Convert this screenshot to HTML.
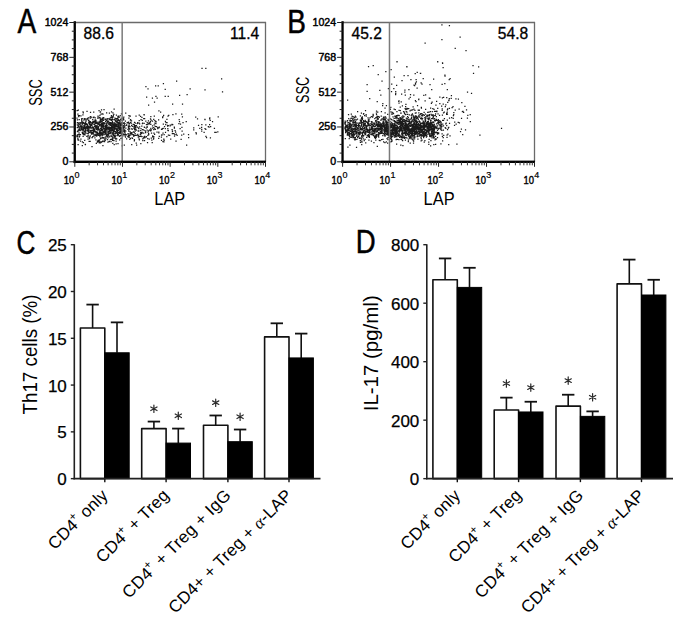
<!DOCTYPE html>
<html><head><meta charset="utf-8"><style>
html,body{margin:0;padding:0;background:#fff;width:685px;height:621px;overflow:hidden}
svg{display:block}
text{font-family:"Liberation Sans", sans-serif}
</style></head><body>
<svg width="685" height="621" viewBox="0 0 685 621" font-family='"Liberation Sans", sans-serif'>
<rect width="685" height="621" fill="#fff"/>
<path fill="#1a1a1a" d="M82.8 129.1h1.25v1.25h-1.25zM92.8 129.7h1.25v1.25h-1.25zM99.5 120.2h1.25v1.25h-1.25zM80.0 125.8h1.25v1.25h-1.25zM114.4 123.9h1.25v1.25h-1.25zM120.0 124.0h1.25v1.25h-1.25zM94.3 125.4h1.25v1.25h-1.25zM105.2 128.5h1.25v1.25h-1.25zM90.2 123.7h1.25v1.25h-1.25zM112.4 119.1h1.25v1.25h-1.25zM93.2 130.0h1.25v1.25h-1.25zM85.4 128.3h1.25v1.25h-1.25zM96.5 124.8h1.25v1.25h-1.25zM96.9 131.4h1.25v1.25h-1.25zM106.4 118.3h1.25v1.25h-1.25zM116.6 128.3h1.25v1.25h-1.25zM96.0 122.1h1.25v1.25h-1.25zM114.2 122.8h1.25v1.25h-1.25zM107.0 120.8h1.25v1.25h-1.25zM84.0 133.9h1.25v1.25h-1.25zM108.2 135.2h1.25v1.25h-1.25zM115.0 132.7h1.25v1.25h-1.25zM88.4 125.8h1.25v1.25h-1.25zM108.5 141.0h1.25v1.25h-1.25zM117.3 119.7h1.25v1.25h-1.25zM81.2 126.4h1.25v1.25h-1.25zM111.6 123.9h1.25v1.25h-1.25zM116.5 123.6h1.25v1.25h-1.25zM96.7 141.5h1.25v1.25h-1.25zM98.2 123.8h1.25v1.25h-1.25zM92.5 131.8h1.25v1.25h-1.25zM112.4 128.6h1.25v1.25h-1.25zM86.6 126.7h1.25v1.25h-1.25zM88.0 119.4h1.25v1.25h-1.25zM95.3 133.7h1.25v1.25h-1.25zM117.1 130.6h1.25v1.25h-1.25zM107.3 135.4h1.25v1.25h-1.25zM117.8 124.8h1.25v1.25h-1.25zM81.9 133.1h1.25v1.25h-1.25zM105.4 123.1h1.25v1.25h-1.25zM78.9 126.4h1.25v1.25h-1.25zM78.2 123.4h1.25v1.25h-1.25zM82.8 122.1h1.25v1.25h-1.25zM116.6 123.5h1.25v1.25h-1.25zM82.7 127.6h1.25v1.25h-1.25zM81.5 121.0h1.25v1.25h-1.25zM119.1 127.9h1.25v1.25h-1.25zM79.8 122.3h1.25v1.25h-1.25zM114.5 123.6h1.25v1.25h-1.25zM76.8 119.3h1.25v1.25h-1.25zM101.1 130.1h1.25v1.25h-1.25zM100.4 113.5h1.25v1.25h-1.25zM102.6 128.0h1.25v1.25h-1.25zM111.8 120.8h1.25v1.25h-1.25zM112.2 129.9h1.25v1.25h-1.25zM113.2 113.7h1.25v1.25h-1.25zM103.6 122.7h1.25v1.25h-1.25zM99.9 138.1h1.25v1.25h-1.25zM77.1 121.9h1.25v1.25h-1.25zM108.1 126.5h1.25v1.25h-1.25zM79.3 122.1h1.25v1.25h-1.25zM116.7 129.4h1.25v1.25h-1.25zM86.4 125.9h1.25v1.25h-1.25zM117.8 123.0h1.25v1.25h-1.25zM88.6 126.2h1.25v1.25h-1.25zM120.9 122.2h1.25v1.25h-1.25zM109.8 139.1h1.25v1.25h-1.25zM84.1 126.0h1.25v1.25h-1.25zM95.4 120.5h1.25v1.25h-1.25zM120.0 128.8h1.25v1.25h-1.25zM108.8 124.3h1.25v1.25h-1.25zM118.0 126.1h1.25v1.25h-1.25zM99.5 117.2h1.25v1.25h-1.25zM101.4 128.8h1.25v1.25h-1.25zM76.4 117.4h1.25v1.25h-1.25zM119.4 129.4h1.25v1.25h-1.25zM116.5 125.3h1.25v1.25h-1.25zM89.4 131.8h1.25v1.25h-1.25zM103.2 128.0h1.25v1.25h-1.25zM118.3 120.2h1.25v1.25h-1.25zM97.2 140.8h1.25v1.25h-1.25zM118.6 135.2h1.25v1.25h-1.25zM100.6 128.9h1.25v1.25h-1.25zM84.3 127.7h1.25v1.25h-1.25zM113.1 123.8h1.25v1.25h-1.25zM117.7 133.4h1.25v1.25h-1.25zM101.7 129.7h1.25v1.25h-1.25zM117.8 121.9h1.25v1.25h-1.25zM88.7 126.3h1.25v1.25h-1.25zM111.3 135.9h1.25v1.25h-1.25zM90.4 124.1h1.25v1.25h-1.25zM99.7 130.3h1.25v1.25h-1.25zM98.1 134.8h1.25v1.25h-1.25zM98.1 141.3h1.25v1.25h-1.25zM104.9 118.5h1.25v1.25h-1.25zM109.3 130.8h1.25v1.25h-1.25zM96.4 122.8h1.25v1.25h-1.25zM107.0 125.2h1.25v1.25h-1.25zM111.3 130.0h1.25v1.25h-1.25zM102.3 130.8h1.25v1.25h-1.25zM114.0 128.5h1.25v1.25h-1.25zM94.7 122.6h1.25v1.25h-1.25zM109.3 131.2h1.25v1.25h-1.25zM99.8 130.0h1.25v1.25h-1.25zM109.5 123.6h1.25v1.25h-1.25zM101.6 128.8h1.25v1.25h-1.25zM104.9 127.0h1.25v1.25h-1.25zM78.8 115.1h1.25v1.25h-1.25zM103.8 123.1h1.25v1.25h-1.25zM112.1 124.1h1.25v1.25h-1.25zM81.8 141.3h1.25v1.25h-1.25zM118.1 127.7h1.25v1.25h-1.25zM112.6 137.4h1.25v1.25h-1.25zM78.4 132.2h1.25v1.25h-1.25zM101.7 126.3h1.25v1.25h-1.25zM91.6 137.0h1.25v1.25h-1.25zM115.8 114.6h1.25v1.25h-1.25zM91.6 121.8h1.25v1.25h-1.25zM119.0 127.9h1.25v1.25h-1.25zM86.9 123.8h1.25v1.25h-1.25zM83.3 123.0h1.25v1.25h-1.25zM90.0 126.0h1.25v1.25h-1.25zM102.3 119.5h1.25v1.25h-1.25zM92.0 122.2h1.25v1.25h-1.25zM110.0 126.9h1.25v1.25h-1.25zM84.6 143.8h1.25v1.25h-1.25zM114.0 124.9h1.25v1.25h-1.25zM98.9 123.9h1.25v1.25h-1.25zM107.9 133.6h1.25v1.25h-1.25zM93.4 116.4h1.25v1.25h-1.25zM97.8 133.0h1.25v1.25h-1.25zM78.3 125.7h1.25v1.25h-1.25zM109.1 127.7h1.25v1.25h-1.25zM115.1 123.3h1.25v1.25h-1.25zM101.1 132.6h1.25v1.25h-1.25zM89.4 131.5h1.25v1.25h-1.25zM88.1 126.5h1.25v1.25h-1.25zM120.6 129.0h1.25v1.25h-1.25zM120.9 129.9h1.25v1.25h-1.25zM93.6 121.3h1.25v1.25h-1.25zM99.2 125.0h1.25v1.25h-1.25zM88.1 119.5h1.25v1.25h-1.25zM94.4 126.1h1.25v1.25h-1.25zM86.6 127.1h1.25v1.25h-1.25zM100.5 127.5h1.25v1.25h-1.25zM88.3 122.4h1.25v1.25h-1.25zM121.8 132.4h1.25v1.25h-1.25zM109.6 128.8h1.25v1.25h-1.25zM103.0 119.8h1.25v1.25h-1.25zM95.3 126.0h1.25v1.25h-1.25zM99.3 131.1h1.25v1.25h-1.25zM113.3 140.0h1.25v1.25h-1.25zM117.5 132.0h1.25v1.25h-1.25zM77.2 137.4h1.25v1.25h-1.25zM92.6 116.9h1.25v1.25h-1.25zM105.1 119.3h1.25v1.25h-1.25zM107.6 128.1h1.25v1.25h-1.25zM105.9 127.6h1.25v1.25h-1.25zM106.6 135.9h1.25v1.25h-1.25zM110.2 127.6h1.25v1.25h-1.25zM109.8 124.7h1.25v1.25h-1.25zM110.3 119.4h1.25v1.25h-1.25zM98.1 128.8h1.25v1.25h-1.25zM107.5 137.3h1.25v1.25h-1.25zM79.4 124.3h1.25v1.25h-1.25zM113.1 130.6h1.25v1.25h-1.25zM78.6 118.9h1.25v1.25h-1.25zM107.2 131.3h1.25v1.25h-1.25zM99.9 137.4h1.25v1.25h-1.25zM97.5 116.5h1.25v1.25h-1.25zM121.5 117.4h1.25v1.25h-1.25zM118.9 126.7h1.25v1.25h-1.25zM118.6 129.1h1.25v1.25h-1.25zM85.6 122.9h1.25v1.25h-1.25zM82.4 129.2h1.25v1.25h-1.25zM120.3 118.7h1.25v1.25h-1.25zM117.2 117.8h1.25v1.25h-1.25zM108.8 112.5h1.25v1.25h-1.25zM76.9 119.3h1.25v1.25h-1.25zM89.9 127.3h1.25v1.25h-1.25zM91.8 133.0h1.25v1.25h-1.25zM110.8 115.1h1.25v1.25h-1.25zM99.9 142.3h1.25v1.25h-1.25zM93.1 111.4h1.25v1.25h-1.25zM92.6 132.6h1.25v1.25h-1.25zM80.5 125.0h1.25v1.25h-1.25zM99.6 111.4h1.25v1.25h-1.25zM88.2 132.1h1.25v1.25h-1.25zM120.4 127.8h1.25v1.25h-1.25zM112.2 136.8h1.25v1.25h-1.25zM119.8 130.8h1.25v1.25h-1.25zM111.7 138.8h1.25v1.25h-1.25zM89.1 123.9h1.25v1.25h-1.25zM119.1 121.9h1.25v1.25h-1.25zM89.7 121.8h1.25v1.25h-1.25zM114.9 128.3h1.25v1.25h-1.25zM101.0 118.9h1.25v1.25h-1.25zM83.6 125.0h1.25v1.25h-1.25zM112.7 132.5h1.25v1.25h-1.25zM105.9 119.8h1.25v1.25h-1.25zM84.7 127.7h1.25v1.25h-1.25zM91.7 123.1h1.25v1.25h-1.25zM102.4 124.7h1.25v1.25h-1.25zM105.8 134.8h1.25v1.25h-1.25zM100.2 132.1h1.25v1.25h-1.25zM88.7 123.0h1.25v1.25h-1.25zM115.7 121.6h1.25v1.25h-1.25zM116.1 126.3h1.25v1.25h-1.25zM94.4 122.0h1.25v1.25h-1.25zM120.3 119.2h1.25v1.25h-1.25zM77.3 139.2h1.25v1.25h-1.25zM116.5 132.4h1.25v1.25h-1.25zM80.6 127.5h1.25v1.25h-1.25zM100.2 124.1h1.25v1.25h-1.25zM98.9 134.8h1.25v1.25h-1.25zM101.5 137.1h1.25v1.25h-1.25zM112.3 125.8h1.25v1.25h-1.25zM89.9 111.7h1.25v1.25h-1.25zM87.5 134.7h1.25v1.25h-1.25zM79.0 135.8h1.25v1.25h-1.25zM103.0 131.4h1.25v1.25h-1.25zM97.3 117.7h1.25v1.25h-1.25zM101.4 132.6h1.25v1.25h-1.25zM120.6 126.7h1.25v1.25h-1.25zM104.9 126.1h1.25v1.25h-1.25zM107.3 132.3h1.25v1.25h-1.25zM110.2 123.0h1.25v1.25h-1.25zM91.5 129.8h1.25v1.25h-1.25zM107.6 123.5h1.25v1.25h-1.25zM97.7 127.7h1.25v1.25h-1.25zM97.4 115.4h1.25v1.25h-1.25zM86.1 127.1h1.25v1.25h-1.25zM95.8 132.1h1.25v1.25h-1.25zM95.2 127.4h1.25v1.25h-1.25zM112.1 128.8h1.25v1.25h-1.25zM85.7 123.7h1.25v1.25h-1.25zM78.6 128.2h1.25v1.25h-1.25zM117.7 119.0h1.25v1.25h-1.25zM92.9 121.8h1.25v1.25h-1.25zM119.5 130.2h1.25v1.25h-1.25zM109.3 132.5h1.25v1.25h-1.25zM83.7 122.8h1.25v1.25h-1.25zM88.8 138.0h1.25v1.25h-1.25zM120.8 113.3h1.25v1.25h-1.25zM92.4 121.8h1.25v1.25h-1.25zM78.1 139.4h1.25v1.25h-1.25zM93.2 123.5h1.25v1.25h-1.25zM117.7 129.8h1.25v1.25h-1.25zM94.9 122.9h1.25v1.25h-1.25zM77.4 138.7h1.25v1.25h-1.25zM118.7 128.0h1.25v1.25h-1.25zM100.7 122.7h1.25v1.25h-1.25zM98.9 131.2h1.25v1.25h-1.25zM101.9 122.3h1.25v1.25h-1.25zM111.1 118.8h1.25v1.25h-1.25zM97.3 122.4h1.25v1.25h-1.25zM120.5 126.7h1.25v1.25h-1.25zM98.9 124.0h1.25v1.25h-1.25zM98.8 123.5h1.25v1.25h-1.25zM102.5 128.5h1.25v1.25h-1.25zM83.7 132.4h1.25v1.25h-1.25zM92.7 131.5h1.25v1.25h-1.25zM112.7 125.3h1.25v1.25h-1.25zM105.9 124.9h1.25v1.25h-1.25zM101.6 136.6h1.25v1.25h-1.25zM115.1 127.9h1.25v1.25h-1.25zM80.3 138.6h1.25v1.25h-1.25zM86.7 127.4h1.25v1.25h-1.25zM104.7 132.9h1.25v1.25h-1.25zM88.2 129.4h1.25v1.25h-1.25zM100.6 130.0h1.25v1.25h-1.25zM110.2 118.7h1.25v1.25h-1.25zM87.3 127.4h1.25v1.25h-1.25zM112.7 133.1h1.25v1.25h-1.25zM122.1 130.5h1.25v1.25h-1.25zM86.6 123.8h1.25v1.25h-1.25zM89.6 121.1h1.25v1.25h-1.25zM113.9 119.1h1.25v1.25h-1.25zM89.5 140.7h1.25v1.25h-1.25zM84.6 118.3h1.25v1.25h-1.25zM103.1 137.4h1.25v1.25h-1.25zM87.9 117.3h1.25v1.25h-1.25zM111.1 128.6h1.25v1.25h-1.25zM104.7 126.1h1.25v1.25h-1.25zM85.3 120.9h1.25v1.25h-1.25zM103.8 130.3h1.25v1.25h-1.25zM91.0 131.4h1.25v1.25h-1.25zM109.9 121.9h1.25v1.25h-1.25zM112.9 130.0h1.25v1.25h-1.25zM94.2 128.3h1.25v1.25h-1.25zM105.6 124.0h1.25v1.25h-1.25zM109.7 132.4h1.25v1.25h-1.25zM120.3 124.4h1.25v1.25h-1.25zM102.2 132.1h1.25v1.25h-1.25zM115.5 120.8h1.25v1.25h-1.25zM109.8 127.7h1.25v1.25h-1.25zM98.5 139.7h1.25v1.25h-1.25zM83.3 119.4h1.25v1.25h-1.25zM101.5 137.4h1.25v1.25h-1.25zM104.8 139.5h1.25v1.25h-1.25zM99.3 124.0h1.25v1.25h-1.25zM119.0 122.9h1.25v1.25h-1.25zM98.7 121.3h1.25v1.25h-1.25zM81.7 144.9h1.25v1.25h-1.25zM119.3 128.8h1.25v1.25h-1.25zM119.0 139.2h1.25v1.25h-1.25zM114.3 117.6h1.25v1.25h-1.25zM112.5 126.3h1.25v1.25h-1.25zM117.7 125.4h1.25v1.25h-1.25zM94.4 131.5h1.25v1.25h-1.25zM93.7 123.7h1.25v1.25h-1.25zM112.1 125.9h1.25v1.25h-1.25zM111.1 128.8h1.25v1.25h-1.25zM114.9 120.5h1.25v1.25h-1.25zM105.0 121.1h1.25v1.25h-1.25zM95.4 134.0h1.25v1.25h-1.25zM99.6 134.7h1.25v1.25h-1.25zM104.7 125.0h1.25v1.25h-1.25zM86.7 126.5h1.25v1.25h-1.25zM84.1 139.8h1.25v1.25h-1.25zM80.8 122.3h1.25v1.25h-1.25zM96.4 122.1h1.25v1.25h-1.25zM77.7 129.4h1.25v1.25h-1.25zM102.1 126.1h1.25v1.25h-1.25zM99.3 135.9h1.25v1.25h-1.25zM120.2 118.4h1.25v1.25h-1.25zM103.3 140.4h1.25v1.25h-1.25zM121.6 145.2h1.25v1.25h-1.25zM107.3 121.2h1.25v1.25h-1.25zM115.9 124.9h1.25v1.25h-1.25zM119.6 114.9h1.25v1.25h-1.25zM113.9 122.3h1.25v1.25h-1.25zM116.8 126.1h1.25v1.25h-1.25zM90.7 122.2h1.25v1.25h-1.25zM84.3 118.7h1.25v1.25h-1.25zM111.5 130.1h1.25v1.25h-1.25zM116.8 121.8h1.25v1.25h-1.25zM92.6 121.2h1.25v1.25h-1.25zM117.0 134.0h1.25v1.25h-1.25zM122.1 132.4h1.25v1.25h-1.25zM97.1 129.5h1.25v1.25h-1.25zM92.6 126.8h1.25v1.25h-1.25zM110.5 135.1h1.25v1.25h-1.25zM114.1 127.8h1.25v1.25h-1.25zM90.7 132.9h1.25v1.25h-1.25zM95.9 126.7h1.25v1.25h-1.25zM117.6 124.1h1.25v1.25h-1.25zM112.1 127.0h1.25v1.25h-1.25zM80.7 127.4h1.25v1.25h-1.25zM86.2 135.7h1.25v1.25h-1.25zM104.9 132.2h1.25v1.25h-1.25zM82.0 122.6h1.25v1.25h-1.25zM80.2 129.6h1.25v1.25h-1.25zM116.5 126.1h1.25v1.25h-1.25zM102.0 133.5h1.25v1.25h-1.25zM119.5 119.3h1.25v1.25h-1.25zM106.0 112.2h1.25v1.25h-1.25zM100.6 131.8h1.25v1.25h-1.25zM112.1 124.6h1.25v1.25h-1.25zM101.5 123.9h1.25v1.25h-1.25zM104.2 128.9h1.25v1.25h-1.25zM105.7 125.8h1.25v1.25h-1.25zM89.8 131.6h1.25v1.25h-1.25zM117.3 125.2h1.25v1.25h-1.25zM115.2 138.5h1.25v1.25h-1.25zM86.6 125.0h1.25v1.25h-1.25zM86.3 123.5h1.25v1.25h-1.25zM91.4 124.4h1.25v1.25h-1.25zM98.0 140.4h1.25v1.25h-1.25zM104.3 118.6h1.25v1.25h-1.25zM112.6 133.0h1.25v1.25h-1.25zM120.8 128.3h1.25v1.25h-1.25zM116.9 122.1h1.25v1.25h-1.25zM110.5 127.0h1.25v1.25h-1.25zM105.5 133.8h1.25v1.25h-1.25zM101.6 122.9h1.25v1.25h-1.25zM93.3 135.5h1.25v1.25h-1.25zM119.1 128.6h1.25v1.25h-1.25zM98.2 140.7h1.25v1.25h-1.25zM109.6 133.0h1.25v1.25h-1.25zM104.8 130.1h1.25v1.25h-1.25zM118.3 126.5h1.25v1.25h-1.25zM119.2 126.2h1.25v1.25h-1.25zM82.4 125.5h1.25v1.25h-1.25zM106.4 134.8h1.25v1.25h-1.25zM92.1 118.9h1.25v1.25h-1.25zM114.0 123.7h1.25v1.25h-1.25zM109.2 129.2h1.25v1.25h-1.25zM91.1 123.8h1.25v1.25h-1.25zM77.4 124.5h1.25v1.25h-1.25zM112.2 136.8h1.25v1.25h-1.25zM99.1 131.8h1.25v1.25h-1.25zM80.3 127.3h1.25v1.25h-1.25zM95.6 132.3h1.25v1.25h-1.25zM87.7 129.8h1.25v1.25h-1.25zM90.7 116.5h1.25v1.25h-1.25zM82.5 127.8h1.25v1.25h-1.25zM77.2 134.0h1.25v1.25h-1.25zM112.4 133.8h1.25v1.25h-1.25zM85.9 118.5h1.25v1.25h-1.25zM117.7 127.3h1.25v1.25h-1.25zM111.4 127.2h1.25v1.25h-1.25zM119.6 127.3h1.25v1.25h-1.25zM113.0 124.2h1.25v1.25h-1.25zM114.6 119.9h1.25v1.25h-1.25zM119.9 128.6h1.25v1.25h-1.25zM113.9 130.9h1.25v1.25h-1.25zM79.5 127.5h1.25v1.25h-1.25zM99.0 139.3h1.25v1.25h-1.25zM92.4 133.3h1.25v1.25h-1.25zM112.7 114.8h1.25v1.25h-1.25zM85.4 119.9h1.25v1.25h-1.25zM117.9 134.4h1.25v1.25h-1.25zM105.7 126.7h1.25v1.25h-1.25zM111.0 119.7h1.25v1.25h-1.25zM99.1 132.7h1.25v1.25h-1.25zM83.0 121.8h1.25v1.25h-1.25zM91.2 123.8h1.25v1.25h-1.25zM117.0 130.7h1.25v1.25h-1.25zM117.1 129.3h1.25v1.25h-1.25zM84.7 131.0h1.25v1.25h-1.25zM109.7 124.1h1.25v1.25h-1.25zM91.0 131.7h1.25v1.25h-1.25zM84.6 128.1h1.25v1.25h-1.25zM105.1 130.8h1.25v1.25h-1.25zM115.2 123.4h1.25v1.25h-1.25zM111.2 138.6h1.25v1.25h-1.25zM84.9 129.7h1.25v1.25h-1.25zM93.9 130.1h1.25v1.25h-1.25zM94.4 124.7h1.25v1.25h-1.25zM105.3 138.0h1.25v1.25h-1.25zM82.4 133.2h1.25v1.25h-1.25zM98.4 121.2h1.25v1.25h-1.25zM110.8 131.6h1.25v1.25h-1.25zM86.4 130.0h1.25v1.25h-1.25zM81.6 131.8h1.25v1.25h-1.25zM83.6 132.4h1.25v1.25h-1.25zM105.1 133.6h1.25v1.25h-1.25zM95.4 125.3h1.25v1.25h-1.25zM87.4 138.5h1.25v1.25h-1.25zM97.0 132.8h1.25v1.25h-1.25zM97.3 123.4h1.25v1.25h-1.25zM102.6 126.3h1.25v1.25h-1.25zM121.3 134.4h1.25v1.25h-1.25zM101.1 121.0h1.25v1.25h-1.25zM100.3 127.9h1.25v1.25h-1.25zM101.0 129.2h1.25v1.25h-1.25zM114.5 135.8h1.25v1.25h-1.25zM94.9 122.9h1.25v1.25h-1.25zM103.2 136.9h1.25v1.25h-1.25zM121.7 120.0h1.25v1.25h-1.25zM78.4 128.6h1.25v1.25h-1.25zM95.3 120.5h1.25v1.25h-1.25zM108.4 130.8h1.25v1.25h-1.25zM110.4 123.1h1.25v1.25h-1.25zM97.5 128.4h1.25v1.25h-1.25zM99.4 124.5h1.25v1.25h-1.25zM112.0 123.9h1.25v1.25h-1.25zM102.0 136.9h1.25v1.25h-1.25zM120.8 133.6h1.25v1.25h-1.25zM119.4 124.3h1.25v1.25h-1.25zM101.4 134.8h1.25v1.25h-1.25zM114.7 136.0h1.25v1.25h-1.25zM93.3 116.6h1.25v1.25h-1.25zM95.7 127.3h1.25v1.25h-1.25zM106.6 128.6h1.25v1.25h-1.25zM98.2 122.3h1.25v1.25h-1.25zM105.5 131.1h1.25v1.25h-1.25zM96.3 126.0h1.25v1.25h-1.25zM102.6 117.2h1.25v1.25h-1.25zM114.6 134.4h1.25v1.25h-1.25zM76.5 110.1h1.25v1.25h-1.25zM107.9 127.5h1.25v1.25h-1.25zM86.7 124.2h1.25v1.25h-1.25zM101.9 124.2h1.25v1.25h-1.25zM107.7 131.7h1.25v1.25h-1.25zM89.6 135.3h1.25v1.25h-1.25zM122.3 135.2h1.25v1.25h-1.25zM111.7 117.2h1.25v1.25h-1.25zM110.4 141.1h1.25v1.25h-1.25zM88.1 122.0h1.25v1.25h-1.25zM82.3 130.0h1.25v1.25h-1.25zM82.5 127.4h1.25v1.25h-1.25zM99.0 141.2h1.25v1.25h-1.25zM115.0 131.0h1.25v1.25h-1.25zM102.0 134.4h1.25v1.25h-1.25zM95.3 139.2h1.25v1.25h-1.25zM120.9 122.9h1.25v1.25h-1.25zM77.1 135.8h1.25v1.25h-1.25zM94.3 137.2h1.25v1.25h-1.25zM98.4 110.0h1.25v1.25h-1.25zM109.8 132.1h1.25v1.25h-1.25zM98.1 132.9h1.25v1.25h-1.25zM111.8 121.5h1.25v1.25h-1.25zM96.1 135.5h1.25v1.25h-1.25zM112.9 131.1h1.25v1.25h-1.25zM99.3 114.7h1.25v1.25h-1.25zM99.4 117.3h1.25v1.25h-1.25zM103.1 130.5h1.25v1.25h-1.25zM103.2 122.1h1.25v1.25h-1.25zM112.4 116.5h1.25v1.25h-1.25zM110.5 129.7h1.25v1.25h-1.25zM118.8 135.6h1.25v1.25h-1.25zM94.8 119.3h1.25v1.25h-1.25zM105.0 132.7h1.25v1.25h-1.25zM91.0 133.6h1.25v1.25h-1.25zM106.9 139.1h1.25v1.25h-1.25zM84.2 124.4h1.25v1.25h-1.25zM111.9 118.7h1.25v1.25h-1.25zM114.2 132.8h1.25v1.25h-1.25zM97.3 129.6h1.25v1.25h-1.25zM95.5 130.7h1.25v1.25h-1.25zM119.4 120.7h1.25v1.25h-1.25zM102.3 124.1h1.25v1.25h-1.25zM107.3 141.6h1.25v1.25h-1.25zM76.4 134.7h1.25v1.25h-1.25zM103.4 109.1h1.25v1.25h-1.25zM95.0 135.1h1.25v1.25h-1.25zM105.9 126.6h1.25v1.25h-1.25zM118.4 126.6h1.25v1.25h-1.25zM107.4 127.0h1.25v1.25h-1.25zM78.1 116.0h1.25v1.25h-1.25zM100.5 141.1h1.25v1.25h-1.25zM120.3 122.5h1.25v1.25h-1.25zM79.0 123.5h1.25v1.25h-1.25zM120.8 127.7h1.25v1.25h-1.25zM106.2 128.6h1.25v1.25h-1.25zM114.8 124.6h1.25v1.25h-1.25zM117.7 115.4h1.25v1.25h-1.25zM78.5 133.7h1.25v1.25h-1.25zM107.4 120.7h1.25v1.25h-1.25zM113.0 134.2h1.25v1.25h-1.25zM95.3 119.8h1.25v1.25h-1.25zM112.5 115.9h1.25v1.25h-1.25zM89.4 131.7h1.25v1.25h-1.25zM121.3 131.4h1.25v1.25h-1.25zM104.1 140.2h1.25v1.25h-1.25zM113.7 135.9h1.25v1.25h-1.25zM95.8 122.3h1.25v1.25h-1.25zM98.3 139.6h1.25v1.25h-1.25zM90.7 127.6h1.25v1.25h-1.25zM95.5 127.1h1.25v1.25h-1.25zM113.9 125.9h1.25v1.25h-1.25zM103.5 122.1h1.25v1.25h-1.25zM88.5 140.7h1.25v1.25h-1.25zM112.1 137.6h1.25v1.25h-1.25zM102.9 125.1h1.25v1.25h-1.25zM113.0 123.9h1.25v1.25h-1.25zM107.4 117.9h1.25v1.25h-1.25zM97.9 126.5h1.25v1.25h-1.25zM110.8 125.5h1.25v1.25h-1.25zM113.4 135.1h1.25v1.25h-1.25zM107.5 118.3h1.25v1.25h-1.25zM116.7 133.2h1.25v1.25h-1.25zM103.3 125.8h1.25v1.25h-1.25zM108.5 123.2h1.25v1.25h-1.25zM102.1 134.5h1.25v1.25h-1.25zM77.8 122.6h1.25v1.25h-1.25zM101.8 125.1h1.25v1.25h-1.25zM112.5 122.2h1.25v1.25h-1.25zM100.0 119.6h1.25v1.25h-1.25zM77.3 113.4h1.25v1.25h-1.25zM102.3 128.4h1.25v1.25h-1.25zM112.2 142.8h1.25v1.25h-1.25zM118.7 119.9h1.25v1.25h-1.25zM77.5 144.0h1.25v1.25h-1.25zM84.2 125.5h1.25v1.25h-1.25zM116.4 126.4h1.25v1.25h-1.25zM120.0 125.3h1.25v1.25h-1.25zM94.3 128.9h1.25v1.25h-1.25zM120.6 127.9h1.25v1.25h-1.25zM120.4 118.4h1.25v1.25h-1.25zM95.6 122.7h1.25v1.25h-1.25zM120.9 122.5h1.25v1.25h-1.25zM87.7 127.8h1.25v1.25h-1.25zM117.9 116.4h1.25v1.25h-1.25zM112.5 135.1h1.25v1.25h-1.25zM84.8 143.9h1.25v1.25h-1.25zM82.5 127.0h1.25v1.25h-1.25zM77.6 130.4h1.25v1.25h-1.25zM121.0 122.6h1.25v1.25h-1.25zM81.6 123.7h1.25v1.25h-1.25zM83.6 127.2h1.25v1.25h-1.25zM112.4 116.3h1.25v1.25h-1.25zM77.4 126.6h1.25v1.25h-1.25zM110.9 111.3h1.25v1.25h-1.25zM110.8 130.0h1.25v1.25h-1.25zM80.3 115.3h1.25v1.25h-1.25zM96.9 133.4h1.25v1.25h-1.25zM114.2 137.4h1.25v1.25h-1.25zM86.1 126.1h1.25v1.25h-1.25zM109.1 131.3h1.25v1.25h-1.25zM103.6 128.3h1.25v1.25h-1.25zM88.4 120.3h1.25v1.25h-1.25zM102.1 123.8h1.25v1.25h-1.25zM90.6 124.7h1.25v1.25h-1.25zM102.4 113.4h1.25v1.25h-1.25zM114.6 125.6h1.25v1.25h-1.25zM87.8 119.7h1.25v1.25h-1.25zM92.8 128.9h1.25v1.25h-1.25zM113.8 124.2h1.25v1.25h-1.25zM112.6 132.8h1.25v1.25h-1.25zM113.5 108.6h1.25v1.25h-1.25zM82.3 114.2h1.25v1.25h-1.25zM84.4 127.4h1.25v1.25h-1.25zM118.4 125.7h1.25v1.25h-1.25zM84.2 118.5h1.25v1.25h-1.25zM103.9 132.1h1.25v1.25h-1.25zM79.8 133.9h1.25v1.25h-1.25zM85.4 132.7h1.25v1.25h-1.25zM108.8 124.0h1.25v1.25h-1.25zM78.8 136.2h1.25v1.25h-1.25zM89.8 121.3h1.25v1.25h-1.25zM113.6 134.5h1.25v1.25h-1.25zM103.7 127.5h1.25v1.25h-1.25zM81.9 125.4h1.25v1.25h-1.25zM84.4 124.2h1.25v1.25h-1.25zM93.1 133.4h1.25v1.25h-1.25zM81.4 128.5h1.25v1.25h-1.25zM115.5 140.5h1.25v1.25h-1.25zM109.0 136.2h1.25v1.25h-1.25zM116.5 119.5h1.25v1.25h-1.25zM91.5 127.2h1.25v1.25h-1.25zM100.9 109.2h1.25v1.25h-1.25zM84.3 125.1h1.25v1.25h-1.25zM87.5 126.8h1.25v1.25h-1.25zM108.4 129.1h1.25v1.25h-1.25zM76.6 135.0h1.25v1.25h-1.25zM108.6 132.9h1.25v1.25h-1.25zM116.4 128.0h1.25v1.25h-1.25zM98.8 129.6h1.25v1.25h-1.25zM88.8 122.3h1.25v1.25h-1.25zM103.4 122.5h1.25v1.25h-1.25zM115.1 120.2h1.25v1.25h-1.25zM117.2 116.2h1.25v1.25h-1.25zM96.3 122.8h1.25v1.25h-1.25zM94.0 128.7h1.25v1.25h-1.25zM107.6 133.9h1.25v1.25h-1.25zM91.4 145.9h1.25v1.25h-1.25zM119.0 116.4h1.25v1.25h-1.25zM94.4 119.5h1.25v1.25h-1.25zM110.5 122.6h1.25v1.25h-1.25zM105.3 129.7h1.25v1.25h-1.25zM100.6 120.7h1.25v1.25h-1.25zM76.7 124.3h1.25v1.25h-1.25zM121.1 124.8h1.25v1.25h-1.25zM113.6 143.9h1.25v1.25h-1.25zM108.1 128.8h1.25v1.25h-1.25zM88.2 130.0h1.25v1.25h-1.25zM118.9 132.6h1.25v1.25h-1.25zM87.5 135.0h1.25v1.25h-1.25zM104.2 128.9h1.25v1.25h-1.25zM81.4 121.6h1.25v1.25h-1.25zM120.4 133.1h1.25v1.25h-1.25zM100.7 128.0h1.25v1.25h-1.25zM81.5 123.5h1.25v1.25h-1.25zM89.2 123.2h1.25v1.25h-1.25zM79.9 140.5h1.25v1.25h-1.25zM102.4 131.4h1.25v1.25h-1.25zM111.5 116.9h1.25v1.25h-1.25zM101.4 133.6h1.25v1.25h-1.25zM87.1 132.7h1.25v1.25h-1.25zM99.7 134.5h1.25v1.25h-1.25zM92.2 121.2h1.25v1.25h-1.25zM106.9 118.5h1.25v1.25h-1.25zM89.1 121.6h1.25v1.25h-1.25zM105.0 126.1h1.25v1.25h-1.25zM109.5 129.9h1.25v1.25h-1.25zM96.3 126.6h1.25v1.25h-1.25zM112.4 124.3h1.25v1.25h-1.25zM105.3 131.6h1.25v1.25h-1.25zM92.2 131.9h1.25v1.25h-1.25zM91.1 123.8h1.25v1.25h-1.25zM92.8 128.0h1.25v1.25h-1.25zM112.4 139.5h1.25v1.25h-1.25zM111.1 129.4h1.25v1.25h-1.25zM106.3 134.6h1.25v1.25h-1.25zM98.6 134.1h1.25v1.25h-1.25zM100.4 120.8h1.25v1.25h-1.25zM96.9 134.5h1.25v1.25h-1.25zM109.5 129.4h1.25v1.25h-1.25zM93.7 120.7h1.25v1.25h-1.25zM112.5 122.6h1.25v1.25h-1.25zM84.4 134.3h1.25v1.25h-1.25zM82.5 135.8h1.25v1.25h-1.25zM118.7 131.8h1.25v1.25h-1.25zM115.2 118.1h1.25v1.25h-1.25zM95.7 142.7h1.25v1.25h-1.25zM109.5 127.4h1.25v1.25h-1.25zM99.0 116.8h1.25v1.25h-1.25zM122.4 133.4h1.25v1.25h-1.25zM99.9 130.3h1.25v1.25h-1.25zM103.5 134.0h1.25v1.25h-1.25zM120.0 131.4h1.25v1.25h-1.25zM93.2 135.2h1.25v1.25h-1.25zM102.0 140.5h1.25v1.25h-1.25zM94.8 135.1h1.25v1.25h-1.25zM122.3 126.9h1.25v1.25h-1.25zM100.5 125.8h1.25v1.25h-1.25zM121.5 131.5h1.25v1.25h-1.25zM100.0 127.8h1.25v1.25h-1.25zM97.6 139.7h1.25v1.25h-1.25zM115.3 132.3h1.25v1.25h-1.25zM89.3 135.9h1.25v1.25h-1.25zM84.3 128.1h1.25v1.25h-1.25zM103.9 141.1h1.25v1.25h-1.25zM77.7 109.6h1.25v1.25h-1.25zM112.6 131.3h1.25v1.25h-1.25zM90.0 117.4h1.25v1.25h-1.25zM90.6 132.9h1.25v1.25h-1.25zM99.0 132.8h1.25v1.25h-1.25zM100.6 129.3h1.25v1.25h-1.25zM94.8 130.8h1.25v1.25h-1.25zM83.1 127.3h1.25v1.25h-1.25zM83.7 130.9h1.25v1.25h-1.25zM114.2 137.2h1.25v1.25h-1.25zM76.3 135.9h1.25v1.25h-1.25zM97.4 117.5h1.25v1.25h-1.25zM83.7 127.9h1.25v1.25h-1.25zM111.2 133.2h1.25v1.25h-1.25zM93.8 130.8h1.25v1.25h-1.25zM117.4 143.1h1.25v1.25h-1.25zM104.7 136.4h1.25v1.25h-1.25zM77.8 114.9h1.25v1.25h-1.25zM117.7 133.4h1.25v1.25h-1.25zM100.4 118.5h1.25v1.25h-1.25zM76.7 127.0h1.25v1.25h-1.25zM94.0 128.5h1.25v1.25h-1.25zM116.6 132.4h1.25v1.25h-1.25zM112.8 127.3h1.25v1.25h-1.25zM84.5 123.2h1.25v1.25h-1.25zM101.9 118.7h1.25v1.25h-1.25zM100.7 132.9h1.25v1.25h-1.25zM81.5 122.8h1.25v1.25h-1.25zM100.5 123.3h1.25v1.25h-1.25zM89.0 127.4h1.25v1.25h-1.25zM109.0 129.8h1.25v1.25h-1.25zM111.6 122.8h1.25v1.25h-1.25zM111.0 122.2h1.25v1.25h-1.25zM115.1 126.1h1.25v1.25h-1.25zM109.5 131.4h1.25v1.25h-1.25zM120.5 123.0h1.25v1.25h-1.25zM86.4 110.7h1.25v1.25h-1.25zM81.9 129.0h1.25v1.25h-1.25zM96.9 133.3h1.25v1.25h-1.25zM104.2 131.1h1.25v1.25h-1.25zM116.5 121.4h1.25v1.25h-1.25zM88.4 121.6h1.25v1.25h-1.25zM92.7 120.7h1.25v1.25h-1.25zM90.3 129.8h1.25v1.25h-1.25zM115.5 125.6h1.25v1.25h-1.25zM106.7 120.5h1.25v1.25h-1.25zM99.1 121.8h1.25v1.25h-1.25zM78.8 129.4h1.25v1.25h-1.25zM109.2 122.8h1.25v1.25h-1.25zM94.6 117.2h1.25v1.25h-1.25zM94.6 125.1h1.25v1.25h-1.25zM77.1 130.4h1.25v1.25h-1.25zM100.1 133.2h1.25v1.25h-1.25zM106.5 129.2h1.25v1.25h-1.25zM97.2 133.5h1.25v1.25h-1.25zM81.1 119.5h1.25v1.25h-1.25zM103.9 138.6h1.25v1.25h-1.25zM77.6 125.1h1.25v1.25h-1.25zM93.5 123.5h1.25v1.25h-1.25zM90.3 130.4h1.25v1.25h-1.25zM100.1 137.7h1.25v1.25h-1.25zM96.1 132.3h1.25v1.25h-1.25zM105.5 127.3h1.25v1.25h-1.25zM107.4 133.2h1.25v1.25h-1.25zM115.7 129.2h1.25v1.25h-1.25zM80.9 128.9h1.25v1.25h-1.25zM112.3 112.3h1.25v1.25h-1.25zM121.5 121.9h1.25v1.25h-1.25zM110.7 124.8h1.25v1.25h-1.25zM120.0 132.6h1.25v1.25h-1.25zM119.2 131.7h1.25v1.25h-1.25zM87.6 132.9h1.25v1.25h-1.25zM108.4 133.1h1.25v1.25h-1.25zM99.7 124.2h1.25v1.25h-1.25zM103.1 116.9h1.25v1.25h-1.25zM110.8 128.1h1.25v1.25h-1.25zM120.7 133.3h1.25v1.25h-1.25zM78.5 134.3h1.25v1.25h-1.25zM95.0 125.7h1.25v1.25h-1.25zM108.8 121.7h1.25v1.25h-1.25zM106.5 122.3h1.25v1.25h-1.25zM96.5 121.5h1.25v1.25h-1.25zM117.1 130.1h1.25v1.25h-1.25zM102.1 134.0h1.25v1.25h-1.25zM111.3 116.3h1.25v1.25h-1.25zM106.9 133.9h1.25v1.25h-1.25zM98.1 125.8h1.25v1.25h-1.25zM92.6 130.6h1.25v1.25h-1.25zM78.6 128.4h1.25v1.25h-1.25zM113.5 130.8h1.25v1.25h-1.25zM97.6 126.4h1.25v1.25h-1.25zM83.6 126.6h1.25v1.25h-1.25zM106.6 127.5h1.25v1.25h-1.25zM100.8 118.5h1.25v1.25h-1.25zM98.6 128.6h1.25v1.25h-1.25zM84.6 128.4h1.25v1.25h-1.25zM105.4 133.6h1.25v1.25h-1.25zM92.6 130.6h1.25v1.25h-1.25zM82.2 131.9h1.25v1.25h-1.25zM111.9 124.4h1.25v1.25h-1.25zM105.6 132.5h1.25v1.25h-1.25zM112.3 129.4h1.25v1.25h-1.25zM115.3 137.7h1.25v1.25h-1.25zM84.4 124.7h1.25v1.25h-1.25zM101.5 133.1h1.25v1.25h-1.25zM114.6 127.4h1.25v1.25h-1.25zM105.1 125.5h1.25v1.25h-1.25zM98.7 142.3h1.25v1.25h-1.25zM91.8 127.2h1.25v1.25h-1.25zM89.7 130.0h1.25v1.25h-1.25zM103.4 123.6h1.25v1.25h-1.25zM116.8 125.8h1.25v1.25h-1.25zM84.7 126.4h1.25v1.25h-1.25zM106.2 119.9h1.25v1.25h-1.25zM89.0 137.3h1.25v1.25h-1.25zM93.4 128.2h1.25v1.25h-1.25zM96.2 134.2h1.25v1.25h-1.25zM86.5 124.5h1.25v1.25h-1.25zM102.1 122.4h1.25v1.25h-1.25zM84.9 122.1h1.25v1.25h-1.25zM121.1 124.3h1.25v1.25h-1.25zM81.6 118.0h1.25v1.25h-1.25zM101.8 117.6h1.25v1.25h-1.25zM89.6 123.6h1.25v1.25h-1.25zM120.3 137.7h1.25v1.25h-1.25zM91.8 126.3h1.25v1.25h-1.25zM113.4 126.7h1.25v1.25h-1.25zM101.0 126.5h1.25v1.25h-1.25zM94.9 120.8h1.25v1.25h-1.25zM100.5 134.0h1.25v1.25h-1.25zM84.2 130.3h1.25v1.25h-1.25zM100.2 128.5h1.25v1.25h-1.25zM105.7 124.4h1.25v1.25h-1.25zM87.5 136.5h1.25v1.25h-1.25zM102.5 126.9h1.25v1.25h-1.25zM99.7 130.0h1.25v1.25h-1.25zM79.2 129.0h1.25v1.25h-1.25zM116.1 138.2h1.25v1.25h-1.25zM99.9 111.3h1.25v1.25h-1.25zM119.2 130.9h1.25v1.25h-1.25zM110.4 138.8h1.25v1.25h-1.25zM112.0 132.2h1.25v1.25h-1.25zM86.8 128.4h1.25v1.25h-1.25zM85.7 126.6h1.25v1.25h-1.25zM108.8 140.8h1.25v1.25h-1.25zM116.5 120.9h1.25v1.25h-1.25zM118.6 124.6h1.25v1.25h-1.25zM100.5 134.0h1.25v1.25h-1.25zM108.6 130.7h1.25v1.25h-1.25zM110.2 116.8h1.25v1.25h-1.25zM104.0 131.1h1.25v1.25h-1.25zM101.4 126.4h1.25v1.25h-1.25zM100.3 130.0h1.25v1.25h-1.25zM96.6 132.4h1.25v1.25h-1.25zM100.7 129.2h1.25v1.25h-1.25zM80.9 126.1h1.25v1.25h-1.25zM89.3 131.8h1.25v1.25h-1.25zM100.9 124.8h1.25v1.25h-1.25zM88.1 130.1h1.25v1.25h-1.25zM107.7 127.9h1.25v1.25h-1.25zM82.8 141.9h1.25v1.25h-1.25zM105.5 123.1h1.25v1.25h-1.25zM107.5 130.5h1.25v1.25h-1.25zM83.1 133.9h1.25v1.25h-1.25zM86.8 118.6h1.25v1.25h-1.25zM79.3 129.9h1.25v1.25h-1.25zM113.1 129.3h1.25v1.25h-1.25zM92.6 128.6h1.25v1.25h-1.25zM102.7 132.6h1.25v1.25h-1.25zM102.8 123.2h1.25v1.25h-1.25zM76.7 122.3h1.25v1.25h-1.25zM82.6 130.2h1.25v1.25h-1.25zM99.1 132.5h1.25v1.25h-1.25zM102.3 145.0h1.25v1.25h-1.25zM100.5 118.7h1.25v1.25h-1.25zM109.0 119.0h1.25v1.25h-1.25zM105.4 136.3h1.25v1.25h-1.25zM88.9 123.5h1.25v1.25h-1.25zM82.6 130.0h1.25v1.25h-1.25zM96.6 128.1h1.25v1.25h-1.25zM92.1 135.9h1.25v1.25h-1.25zM94.7 121.6h1.25v1.25h-1.25zM121.9 125.1h1.25v1.25h-1.25zM92.9 127.3h1.25v1.25h-1.25zM82.1 122.3h1.25v1.25h-1.25zM116.4 134.9h1.25v1.25h-1.25zM89.9 125.3h1.25v1.25h-1.25zM78.9 129.5h1.25v1.25h-1.25zM115.5 143.3h1.25v1.25h-1.25zM118.8 132.8h1.25v1.25h-1.25zM79.5 123.5h1.25v1.25h-1.25zM120.0 135.1h1.25v1.25h-1.25zM116.3 118.0h1.25v1.25h-1.25zM98.4 122.9h1.25v1.25h-1.25zM76.8 130.9h1.25v1.25h-1.25zM88.3 128.9h1.25v1.25h-1.25zM85.1 132.3h1.25v1.25h-1.25zM116.1 130.3h1.25v1.25h-1.25zM99.5 118.2h1.25v1.25h-1.25zM113.6 129.7h1.25v1.25h-1.25zM102.3 124.3h1.25v1.25h-1.25zM100.8 120.4h1.25v1.25h-1.25zM93.8 126.0h1.25v1.25h-1.25zM116.1 131.8h1.25v1.25h-1.25zM96.0 128.8h1.25v1.25h-1.25zM77.9 125.4h1.25v1.25h-1.25zM91.4 137.1h1.25v1.25h-1.25zM97.4 127.2h1.25v1.25h-1.25zM119.0 135.7h1.25v1.25h-1.25zM104.4 128.5h1.25v1.25h-1.25zM83.1 133.8h1.25v1.25h-1.25zM111.6 116.6h1.25v1.25h-1.25zM100.9 120.6h1.25v1.25h-1.25zM101.7 132.8h1.25v1.25h-1.25zM110.4 135.5h1.25v1.25h-1.25zM109.0 126.5h1.25v1.25h-1.25zM111.9 139.7h1.25v1.25h-1.25zM96.6 125.9h1.25v1.25h-1.25zM119.7 126.9h1.25v1.25h-1.25zM106.4 126.8h1.25v1.25h-1.25zM82.4 111.3h1.25v1.25h-1.25zM111.1 126.1h1.25v1.25h-1.25zM78.6 126.6h1.25v1.25h-1.25zM101.7 120.6h1.25v1.25h-1.25zM82.7 112.3h1.25v1.25h-1.25zM110.2 123.8h1.25v1.25h-1.25zM112.1 129.5h1.25v1.25h-1.25zM121.6 137.6h1.25v1.25h-1.25zM113.2 127.5h1.25v1.25h-1.25zM90.9 124.7h1.25v1.25h-1.25zM102.5 118.2h1.25v1.25h-1.25zM116.1 123.4h1.25v1.25h-1.25zM102.1 140.9h1.25v1.25h-1.25zM120.1 131.0h1.25v1.25h-1.25zM88.0 131.1h1.25v1.25h-1.25zM86.6 124.1h1.25v1.25h-1.25zM89.7 116.1h1.25v1.25h-1.25zM109.0 118.5h1.25v1.25h-1.25zM116.1 123.7h1.25v1.25h-1.25zM98.9 125.0h1.25v1.25h-1.25zM98.4 132.7h1.25v1.25h-1.25zM115.3 118.4h1.25v1.25h-1.25zM96.9 140.4h1.25v1.25h-1.25zM117.0 134.5h1.25v1.25h-1.25zM112.2 124.6h1.25v1.25h-1.25zM100.1 121.6h1.25v1.25h-1.25zM81.0 127.7h1.25v1.25h-1.25zM107.3 120.8h1.25v1.25h-1.25zM83.6 118.1h1.25v1.25h-1.25zM114.9 124.1h1.25v1.25h-1.25zM100.6 141.8h1.25v1.25h-1.25zM114.3 126.5h1.25v1.25h-1.25zM104.6 129.3h1.25v1.25h-1.25zM86.6 130.5h1.25v1.25h-1.25zM122.0 126.1h1.25v1.25h-1.25zM116.8 121.6h1.25v1.25h-1.25zM95.8 121.9h1.25v1.25h-1.25zM107.8 120.6h1.25v1.25h-1.25zM81.0 118.2h1.25v1.25h-1.25zM98.9 121.8h1.25v1.25h-1.25zM121.0 130.7h1.25v1.25h-1.25zM104.7 133.1h1.25v1.25h-1.25zM88.1 125.6h1.25v1.25h-1.25zM94.8 126.6h1.25v1.25h-1.25zM92.7 116.7h1.25v1.25h-1.25zM107.0 136.1h1.25v1.25h-1.25zM101.7 113.2h1.25v1.25h-1.25zM103.1 132.5h1.25v1.25h-1.25zM121.2 123.9h1.25v1.25h-1.25zM93.8 130.8h1.25v1.25h-1.25zM109.3 117.8h1.25v1.25h-1.25zM106.3 127.8h1.25v1.25h-1.25zM87.0 117.8h1.25v1.25h-1.25zM81.2 120.7h1.25v1.25h-1.25zM88.4 117.2h1.25v1.25h-1.25zM105.9 124.2h1.25v1.25h-1.25zM90.5 127.2h1.25v1.25h-1.25zM105.7 122.4h1.25v1.25h-1.25zM122.2 134.2h1.25v1.25h-1.25zM105.2 127.8h1.25v1.25h-1.25zM94.2 134.3h1.25v1.25h-1.25zM107.4 122.2h1.25v1.25h-1.25zM105.1 132.4h1.25v1.25h-1.25zM88.1 128.9h1.25v1.25h-1.25zM87.0 125.6h1.25v1.25h-1.25zM140.3 133.2h1.25v1.25h-1.25zM162.6 127.8h1.25v1.25h-1.25zM124.9 136.6h1.25v1.25h-1.25zM140.1 130.0h1.25v1.25h-1.25zM128.8 128.2h1.25v1.25h-1.25zM128.5 124.3h1.25v1.25h-1.25zM143.2 136.6h1.25v1.25h-1.25zM126.0 138.3h1.25v1.25h-1.25zM126.9 122.1h1.25v1.25h-1.25zM128.1 126.7h1.25v1.25h-1.25zM128.6 125.7h1.25v1.25h-1.25zM154.6 125.7h1.25v1.25h-1.25zM166.2 136.1h1.25v1.25h-1.25zM140.4 118.9h1.25v1.25h-1.25zM143.5 122.7h1.25v1.25h-1.25zM122.6 124.9h1.25v1.25h-1.25zM133.2 135.8h1.25v1.25h-1.25zM129.3 126.0h1.25v1.25h-1.25zM130.8 122.4h1.25v1.25h-1.25zM147.8 120.2h1.25v1.25h-1.25zM140.4 128.0h1.25v1.25h-1.25zM149.3 121.9h1.25v1.25h-1.25zM147.1 123.9h1.25v1.25h-1.25zM138.2 128.0h1.25v1.25h-1.25zM171.4 123.8h1.25v1.25h-1.25zM153.1 118.7h1.25v1.25h-1.25zM150.2 127.8h1.25v1.25h-1.25zM167.4 115.6h1.25v1.25h-1.25zM135.5 125.6h1.25v1.25h-1.25zM145.0 132.0h1.25v1.25h-1.25zM129.5 133.3h1.25v1.25h-1.25zM173.4 132.9h1.25v1.25h-1.25zM144.0 135.7h1.25v1.25h-1.25zM151.9 120.5h1.25v1.25h-1.25zM145.7 135.9h1.25v1.25h-1.25zM148.6 138.4h1.25v1.25h-1.25zM146.9 142.1h1.25v1.25h-1.25zM158.7 135.8h1.25v1.25h-1.25zM123.4 130.0h1.25v1.25h-1.25zM134.3 134.8h1.25v1.25h-1.25zM149.9 118.2h1.25v1.25h-1.25zM147.2 123.6h1.25v1.25h-1.25zM140.2 143.1h1.25v1.25h-1.25zM130.8 128.2h1.25v1.25h-1.25zM176.5 134.8h1.25v1.25h-1.25zM143.1 132.6h1.25v1.25h-1.25zM127.9 135.1h1.25v1.25h-1.25zM126.1 124.5h1.25v1.25h-1.25zM144.2 136.6h1.25v1.25h-1.25zM128.4 128.0h1.25v1.25h-1.25zM134.1 128.9h1.25v1.25h-1.25zM173.9 135.4h1.25v1.25h-1.25zM133.8 139.5h1.25v1.25h-1.25zM130.4 132.3h1.25v1.25h-1.25zM164.7 128.0h1.25v1.25h-1.25zM128.6 125.8h1.25v1.25h-1.25zM166.3 118.8h1.25v1.25h-1.25zM138.5 122.5h1.25v1.25h-1.25zM171.7 133.0h1.25v1.25h-1.25zM142.1 138.2h1.25v1.25h-1.25zM171.8 131.0h1.25v1.25h-1.25zM137.7 135.1h1.25v1.25h-1.25zM122.5 122.8h1.25v1.25h-1.25zM162.3 141.1h1.25v1.25h-1.25zM149.6 129.2h1.25v1.25h-1.25zM122.8 128.6h1.25v1.25h-1.25zM153.1 128.9h1.25v1.25h-1.25zM154.3 122.6h1.25v1.25h-1.25zM127.2 136.1h1.25v1.25h-1.25zM145.1 131.3h1.25v1.25h-1.25zM172.3 133.1h1.25v1.25h-1.25zM129.2 115.6h1.25v1.25h-1.25zM127.3 128.7h1.25v1.25h-1.25zM172.1 123.9h1.25v1.25h-1.25zM139.7 133.8h1.25v1.25h-1.25zM141.8 123.1h1.25v1.25h-1.25zM137.7 136.6h1.25v1.25h-1.25zM158.0 119.3h1.25v1.25h-1.25zM125.1 130.5h1.25v1.25h-1.25zM150.8 129.2h1.25v1.25h-1.25zM139.8 135.8h1.25v1.25h-1.25zM150.2 123.7h1.25v1.25h-1.25zM153.2 126.9h1.25v1.25h-1.25zM132.6 133.9h1.25v1.25h-1.25zM129.2 134.7h1.25v1.25h-1.25zM124.6 132.6h1.25v1.25h-1.25zM143.9 126.8h1.25v1.25h-1.25zM144.4 130.1h1.25v1.25h-1.25zM135.4 115.6h1.25v1.25h-1.25zM169.6 124.4h1.25v1.25h-1.25zM137.1 121.9h1.25v1.25h-1.25zM138.6 114.5h1.25v1.25h-1.25zM129.2 138.7h1.25v1.25h-1.25zM134.0 128.4h1.25v1.25h-1.25zM151.9 125.3h1.25v1.25h-1.25zM162.3 115.9h1.25v1.25h-1.25zM125.2 127.6h1.25v1.25h-1.25zM167.0 125.4h1.25v1.25h-1.25zM129.8 121.8h1.25v1.25h-1.25zM134.6 130.6h1.25v1.25h-1.25zM154.2 119.9h1.25v1.25h-1.25zM161.5 134.2h1.25v1.25h-1.25zM171.5 129.1h1.25v1.25h-1.25zM128.0 130.3h1.25v1.25h-1.25zM152.0 127.5h1.25v1.25h-1.25zM150.5 119.5h1.25v1.25h-1.25zM138.6 120.0h1.25v1.25h-1.25zM150.2 116.1h1.25v1.25h-1.25zM127.8 121.4h1.25v1.25h-1.25zM123.1 118.5h1.25v1.25h-1.25zM146.6 122.0h1.25v1.25h-1.25zM135.3 127.1h1.25v1.25h-1.25zM156.4 131.4h1.25v1.25h-1.25zM143.0 129.3h1.25v1.25h-1.25zM131.9 137.7h1.25v1.25h-1.25zM165.1 124.1h1.25v1.25h-1.25zM128.3 117.4h1.25v1.25h-1.25zM122.6 117.8h1.25v1.25h-1.25zM124.5 134.0h1.25v1.25h-1.25zM148.9 129.4h1.25v1.25h-1.25zM131.1 144.1h1.25v1.25h-1.25zM167.2 128.1h1.25v1.25h-1.25zM142.0 122.4h1.25v1.25h-1.25zM139.5 135.4h1.25v1.25h-1.25zM167.7 125.0h1.25v1.25h-1.25zM126.0 124.3h1.25v1.25h-1.25zM127.7 126.3h1.25v1.25h-1.25zM175.3 113.2h1.25v1.25h-1.25zM137.0 122.4h1.25v1.25h-1.25zM124.3 129.7h1.25v1.25h-1.25zM134.7 122.6h1.25v1.25h-1.25zM143.7 126.6h1.25v1.25h-1.25zM154.8 128.7h1.25v1.25h-1.25zM129.7 132.7h1.25v1.25h-1.25zM151.7 120.6h1.25v1.25h-1.25zM166.9 124.8h1.25v1.25h-1.25zM139.0 126.3h1.25v1.25h-1.25zM143.1 137.4h1.25v1.25h-1.25zM175.0 131.5h1.25v1.25h-1.25zM135.1 128.7h1.25v1.25h-1.25zM163.5 134.1h1.25v1.25h-1.25zM147.4 131.5h1.25v1.25h-1.25zM134.4 126.3h1.25v1.25h-1.25zM124.4 124.9h1.25v1.25h-1.25zM149.8 120.9h1.25v1.25h-1.25zM142.2 140.0h1.25v1.25h-1.25zM162.0 116.9h1.25v1.25h-1.25zM164.8 120.7h1.25v1.25h-1.25zM141.5 131.8h1.25v1.25h-1.25zM142.8 129.2h1.25v1.25h-1.25zM160.8 136.4h1.25v1.25h-1.25zM147.9 130.3h1.25v1.25h-1.25zM158.2 132.2h1.25v1.25h-1.25zM163.9 125.9h1.25v1.25h-1.25zM155.3 122.9h1.25v1.25h-1.25zM126.1 134.3h1.25v1.25h-1.25zM178.9 121.1h1.25v1.25h-1.25zM129.6 131.2h1.25v1.25h-1.25zM138.2 130.3h1.25v1.25h-1.25zM131.1 133.0h1.25v1.25h-1.25zM161.6 128.6h1.25v1.25h-1.25zM146.5 126.8h1.25v1.25h-1.25zM140.5 132.2h1.25v1.25h-1.25zM168.1 114.7h1.25v1.25h-1.25zM137.9 127.5h1.25v1.25h-1.25zM129.8 119.4h1.25v1.25h-1.25zM132.6 123.7h1.25v1.25h-1.25zM137.0 126.5h1.25v1.25h-1.25zM123.0 119.3h1.25v1.25h-1.25zM133.3 126.1h1.25v1.25h-1.25zM128.7 135.3h1.25v1.25h-1.25zM143.1 118.1h1.25v1.25h-1.25zM125.1 112.4h1.25v1.25h-1.25zM145.5 127.4h1.25v1.25h-1.25zM145.8 124.1h1.25v1.25h-1.25zM131.7 125.8h1.25v1.25h-1.25zM133.8 124.8h1.25v1.25h-1.25zM162.7 123.4h1.25v1.25h-1.25zM158.2 127.3h1.25v1.25h-1.25zM123.3 122.5h1.25v1.25h-1.25zM122.6 126.5h1.25v1.25h-1.25zM141.4 136.0h1.25v1.25h-1.25zM130.0 119.0h1.25v1.25h-1.25zM135.5 134.7h1.25v1.25h-1.25zM158.1 137.8h1.25v1.25h-1.25zM129.8 137.8h1.25v1.25h-1.25zM167.3 129.8h1.25v1.25h-1.25zM160.9 134.6h1.25v1.25h-1.25zM123.6 133.7h1.25v1.25h-1.25zM163.2 138.4h1.25v1.25h-1.25zM128.3 114.9h1.25v1.25h-1.25zM131.3 134.1h1.25v1.25h-1.25zM128.1 125.5h1.25v1.25h-1.25zM144.4 137.1h1.25v1.25h-1.25zM128.4 125.5h1.25v1.25h-1.25zM151.6 141.9h1.25v1.25h-1.25zM123.7 144.6h1.25v1.25h-1.25zM164.9 131.7h1.25v1.25h-1.25zM123.5 127.3h1.25v1.25h-1.25zM127.9 133.5h1.25v1.25h-1.25zM155.8 126.1h1.25v1.25h-1.25zM155.5 121.3h1.25v1.25h-1.25zM141.7 119.8h1.25v1.25h-1.25zM132.6 134.1h1.25v1.25h-1.25zM146.5 125.9h1.25v1.25h-1.25zM133.7 140.3h1.25v1.25h-1.25zM124.4 125.3h1.25v1.25h-1.25zM167.8 134.6h1.25v1.25h-1.25zM134.8 125.3h1.25v1.25h-1.25zM137.2 133.8h1.25v1.25h-1.25zM128.0 128.3h1.25v1.25h-1.25zM141.8 129.1h1.25v1.25h-1.25zM178.6 118.9h1.25v1.25h-1.25zM145.2 120.5h1.25v1.25h-1.25zM136.8 134.4h1.25v1.25h-1.25zM157.1 126.8h1.25v1.25h-1.25zM148.6 123.2h1.25v1.25h-1.25zM152.0 136.3h1.25v1.25h-1.25zM167.7 129.9h1.25v1.25h-1.25zM144.0 118.0h1.25v1.25h-1.25zM134.5 127.3h1.25v1.25h-1.25zM133.6 131.7h1.25v1.25h-1.25zM173.7 126.6h1.25v1.25h-1.25zM153.3 132.4h1.25v1.25h-1.25zM123.9 131.6h1.25v1.25h-1.25zM126.1 124.8h1.25v1.25h-1.25zM136.6 123.1h1.25v1.25h-1.25zM141.3 132.7h1.25v1.25h-1.25zM123.9 129.3h1.25v1.25h-1.25zM158.8 126.5h1.25v1.25h-1.25zM140.1 132.0h1.25v1.25h-1.25zM185.6 121.1h1.25v1.25h-1.25zM143.4 113.9h1.25v1.25h-1.25zM128.9 128.5h1.25v1.25h-1.25zM166.4 122.1h1.25v1.25h-1.25zM139.0 123.2h1.25v1.25h-1.25zM147.3 134.7h1.25v1.25h-1.25zM124.8 120.6h1.25v1.25h-1.25zM169.1 134.7h1.25v1.25h-1.25zM136.0 144.5h1.25v1.25h-1.25zM148.1 122.6h1.25v1.25h-1.25zM134.5 132.9h1.25v1.25h-1.25zM140.3 133.3h1.25v1.25h-1.25zM133.9 121.8h1.25v1.25h-1.25zM148.0 132.9h1.25v1.25h-1.25zM123.2 116.4h1.25v1.25h-1.25zM133.6 123.9h1.25v1.25h-1.25zM138.8 139.2h1.25v1.25h-1.25zM126.1 124.8h1.25v1.25h-1.25zM131.9 128.5h1.25v1.25h-1.25zM150.1 130.3h1.25v1.25h-1.25zM163.0 114.8h1.25v1.25h-1.25zM162.4 132.6h1.25v1.25h-1.25zM137.5 130.3h1.25v1.25h-1.25zM146.5 129.4h1.25v1.25h-1.25zM131.2 132.0h1.25v1.25h-1.25zM130.6 132.8h1.25v1.25h-1.25zM152.1 135.3h1.25v1.25h-1.25zM123.2 130.4h1.25v1.25h-1.25zM135.0 125.0h1.25v1.25h-1.25zM147.1 138.1h1.25v1.25h-1.25zM123.7 131.1h1.25v1.25h-1.25zM152.9 138.6h1.25v1.25h-1.25zM160.9 139.8h1.25v1.25h-1.25zM129.5 134.3h1.25v1.25h-1.25zM148.9 123.2h1.25v1.25h-1.25zM126.5 122.2h1.25v1.25h-1.25zM160.9 128.8h1.25v1.25h-1.25zM150.9 132.6h1.25v1.25h-1.25zM171.9 130.4h1.25v1.25h-1.25zM123.5 122.1h1.25v1.25h-1.25zM123.7 126.2h1.25v1.25h-1.25zM124.3 123.1h1.25v1.25h-1.25zM158.2 131.6h1.25v1.25h-1.25zM165.6 121.9h1.25v1.25h-1.25zM154.0 133.7h1.25v1.25h-1.25zM123.7 124.3h1.25v1.25h-1.25zM153.6 124.2h1.25v1.25h-1.25zM143.6 114.2h1.25v1.25h-1.25zM127.9 136.2h1.25v1.25h-1.25zM150.7 137.4h1.25v1.25h-1.25zM161.7 128.1h1.25v1.25h-1.25zM138.7 136.1h1.25v1.25h-1.25zM134.1 128.4h1.25v1.25h-1.25zM148.1 133.9h1.25v1.25h-1.25zM125.2 134.0h1.25v1.25h-1.25zM135.7 129.5h1.25v1.25h-1.25zM154.0 128.2h1.25v1.25h-1.25zM128.3 130.4h1.25v1.25h-1.25zM138.4 138.2h1.25v1.25h-1.25zM153.7 115.6h1.25v1.25h-1.25zM155.1 120.7h1.25v1.25h-1.25zM131.0 124.8h1.25v1.25h-1.25zM133.8 139.0h1.25v1.25h-1.25zM165.4 122.0h1.25v1.25h-1.25zM151.2 139.4h1.25v1.25h-1.25zM135.6 142.5h1.25v1.25h-1.25zM133.3 127.4h1.25v1.25h-1.25zM124.4 135.2h1.25v1.25h-1.25zM131.4 132.2h1.25v1.25h-1.25zM129.1 122.8h1.25v1.25h-1.25zM148.8 123.1h1.25v1.25h-1.25zM139.9 115.8h1.25v1.25h-1.25zM140.4 135.6h1.25v1.25h-1.25zM163.3 141.3h1.25v1.25h-1.25zM149.4 122.0h1.25v1.25h-1.25zM141.2 125.6h1.25v1.25h-1.25zM127.4 132.9h1.25v1.25h-1.25zM145.9 136.2h1.25v1.25h-1.25zM138.1 130.4h1.25v1.25h-1.25zM129.7 115.5h1.25v1.25h-1.25zM127.9 122.6h1.25v1.25h-1.25zM130.9 120.2h1.25v1.25h-1.25zM141.3 116.8h1.25v1.25h-1.25zM131.4 137.2h1.25v1.25h-1.25zM128.5 136.8h1.25v1.25h-1.25zM163.5 139.7h1.25v1.25h-1.25zM132.8 131.2h1.25v1.25h-1.25zM153.1 137.4h1.25v1.25h-1.25zM170.1 138.6h1.25v1.25h-1.25zM153.2 136.1h1.25v1.25h-1.25zM157.1 128.0h1.25v1.25h-1.25zM133.9 125.5h1.25v1.25h-1.25zM123.3 126.4h1.25v1.25h-1.25zM133.0 134.6h1.25v1.25h-1.25zM169.5 125.3h1.25v1.25h-1.25zM183.1 133.6h1.25v1.25h-1.25zM135.8 125.0h1.25v1.25h-1.25zM171.2 124.3h1.25v1.25h-1.25zM143.9 140.1h1.25v1.25h-1.25zM174.3 134.0h1.25v1.25h-1.25zM210.0 126.1h1.25v1.25h-1.25zM201.0 126.7h1.25v1.25h-1.25zM187.9 134.1h1.25v1.25h-1.25zM182.4 122.1h1.25v1.25h-1.25zM208.5 126.5h1.25v1.25h-1.25zM209.2 117.3h1.25v1.25h-1.25zM196.9 118.2h1.25v1.25h-1.25zM173.8 127.6h1.25v1.25h-1.25zM195.4 132.0h1.25v1.25h-1.25zM201.1 128.7h1.25v1.25h-1.25zM205.3 135.8h1.25v1.25h-1.25zM195.7 133.3h1.25v1.25h-1.25zM199.2 127.8h1.25v1.25h-1.25zM217.6 116.3h1.25v1.25h-1.25zM209.0 123.9h1.25v1.25h-1.25zM217.2 131.3h1.25v1.25h-1.25zM175.8 133.4h1.25v1.25h-1.25zM193.1 129.3h1.25v1.25h-1.25zM203.5 131.8h1.25v1.25h-1.25zM188.0 137.1h1.25v1.25h-1.25zM181.1 134.4h1.25v1.25h-1.25zM181.3 126.7h1.25v1.25h-1.25zM205.9 137.1h1.25v1.25h-1.25zM181.5 130.6h1.25v1.25h-1.25zM204.4 128.1h1.25v1.25h-1.25zM197.9 124.8h1.25v1.25h-1.25zM204.3 118.7h1.25v1.25h-1.25zM215.5 131.7h1.25v1.25h-1.25zM214.2 131.7h1.25v1.25h-1.25zM175.4 140.5h1.25v1.25h-1.25zM181.8 116.3h1.25v1.25h-1.25zM205.2 128.7h1.25v1.25h-1.25zM201.1 130.4h1.25v1.25h-1.25zM179.9 123.5h1.25v1.25h-1.25zM201.2 124.0h1.25v1.25h-1.25zM174.5 130.1h1.25v1.25h-1.25zM180.5 138.8h1.25v1.25h-1.25zM209.0 118.3h1.25v1.25h-1.25zM193.1 127.2h1.25v1.25h-1.25zM179.5 127.9h1.25v1.25h-1.25zM207.7 126.1h1.25v1.25h-1.25zM213.8 127.7h1.25v1.25h-1.25zM209.8 137.3h1.25v1.25h-1.25zM178.3 123.0h1.25v1.25h-1.25zM145.3 86.0h1.25v1.25h-1.25zM147.4 88.3h1.25v1.25h-1.25zM155.0 85.3h1.25v1.25h-1.25zM157.6 85.3h1.25v1.25h-1.25zM162.8 83.0h1.25v1.25h-1.25zM164.6 88.8h1.25v1.25h-1.25zM146.0 96.5h1.25v1.25h-1.25zM151.8 97.6h1.25v1.25h-1.25zM155.3 95.8h1.25v1.25h-1.25zM156.5 97.6h1.25v1.25h-1.25zM164.6 95.8h1.25v1.25h-1.25zM167.6 95.8h1.25v1.25h-1.25zM153.9 101.4h1.25v1.25h-1.25zM148.0 104.6h1.25v1.25h-1.25zM172.0 103.5h1.25v1.25h-1.25zM176.0 80.4h1.25v1.25h-1.25zM179.0 94.8h1.25v1.25h-1.25zM181.9 103.5h1.25v1.25h-1.25zM186.5 94.1h1.25v1.25h-1.25zM189.5 88.3h1.25v1.25h-1.25zM201.4 67.8h1.25v1.25h-1.25zM205.2 67.8h1.25v1.25h-1.25zM204.4 89.2h1.25v1.25h-1.25zM221.0 78.3h1.25v1.25h-1.25zM221.9 91.3h1.25v1.25h-1.25zM172.3 114.1h1.25v1.25h-1.25zM181.1 113.4h1.25v1.25h-1.25zM195.1 116.4h1.25v1.25h-1.25zM204.4 119.0h1.25v1.25h-1.25zM209.6 119.8h1.25v1.25h-1.25zM211.9 121.1h1.25v1.25h-1.25zM205.2 124.2h1.25v1.25h-1.25zM186.0 144.4h1.25v1.25h-1.25zM158.3 110.2h1.25v1.25h-1.25zM160.0 111.6h1.25v1.25h-1.25z"/>
<line x1="74.80" y1="22.50" x2="265.50" y2="22.50" stroke="#6a6a6a" stroke-width="1.3"/>
<line x1="265.50" y1="21.85" x2="265.50" y2="161.80" stroke="#6a6a6a" stroke-width="1.3"/>
<line x1="122.17" y1="22.50" x2="122.17" y2="161.80" stroke="#7a7a7a" stroke-width="1.5"/>
<rect x="73.60" y="21.20" width="2.30" height="141.90" fill="#000"/>
<rect x="73.60" y="160.60" width="192.40" height="2.40" fill="#000"/>
<line x1="69.30" y1="161.80" x2="74.80" y2="161.80" stroke="#222" stroke-width="1"/>
<text x="68.30" y="165.20" font-size="10.6" text-anchor="end" font-weight="normal" fill="#000" stroke="#000" stroke-width="0.45">0</text>
<line x1="71.80" y1="153.09" x2="74.80" y2="153.09" stroke="#222" stroke-width="1"/>
<line x1="71.80" y1="144.39" x2="74.80" y2="144.39" stroke="#222" stroke-width="1"/>
<line x1="71.80" y1="135.68" x2="74.80" y2="135.68" stroke="#222" stroke-width="1"/>
<line x1="69.30" y1="126.98" x2="74.80" y2="126.98" stroke="#222" stroke-width="1"/>
<text x="68.30" y="130.38" font-size="10.6" text-anchor="end" font-weight="normal" fill="#000" stroke="#000" stroke-width="0.45">256</text>
<line x1="71.80" y1="118.27" x2="74.80" y2="118.27" stroke="#222" stroke-width="1"/>
<line x1="71.80" y1="109.56" x2="74.80" y2="109.56" stroke="#222" stroke-width="1"/>
<line x1="71.80" y1="100.86" x2="74.80" y2="100.86" stroke="#222" stroke-width="1"/>
<line x1="69.30" y1="92.15" x2="74.80" y2="92.15" stroke="#222" stroke-width="1"/>
<text x="68.30" y="95.55" font-size="10.6" text-anchor="end" font-weight="normal" fill="#000" stroke="#000" stroke-width="0.45">512</text>
<line x1="71.80" y1="83.44" x2="74.80" y2="83.44" stroke="#222" stroke-width="1"/>
<line x1="71.80" y1="74.74" x2="74.80" y2="74.74" stroke="#222" stroke-width="1"/>
<line x1="71.80" y1="66.03" x2="74.80" y2="66.03" stroke="#222" stroke-width="1"/>
<line x1="69.30" y1="57.33" x2="74.80" y2="57.33" stroke="#222" stroke-width="1"/>
<text x="68.30" y="60.73" font-size="10.6" text-anchor="end" font-weight="normal" fill="#000" stroke="#000" stroke-width="0.45">768</text>
<line x1="71.80" y1="48.62" x2="74.80" y2="48.62" stroke="#222" stroke-width="1"/>
<line x1="71.80" y1="39.91" x2="74.80" y2="39.91" stroke="#222" stroke-width="1"/>
<line x1="71.80" y1="31.21" x2="74.80" y2="31.21" stroke="#222" stroke-width="1"/>
<line x1="69.30" y1="22.50" x2="74.80" y2="22.50" stroke="#222" stroke-width="1"/>
<text x="68.30" y="25.90" font-size="10.6" text-anchor="end" font-weight="normal" fill="#000" stroke="#000" stroke-width="0.45">1024</text>
<line x1="74.80" y1="161.80" x2="74.80" y2="166.80" stroke="#222" stroke-width="1"/>
<text transform="translate(74.20,183.7) scale(0.89,1)" font-size="10.6" stroke="#000" stroke-width="0.4" text-anchor="end">10</text>
<text x="74.60" y="177.60" font-size="9" stroke="#000" stroke-width="0.2">0</text>
<line x1="89.15" y1="161.80" x2="89.15" y2="165.30" stroke="#333" stroke-width="1"/>
<line x1="97.55" y1="161.80" x2="97.55" y2="165.30" stroke="#333" stroke-width="1"/>
<line x1="103.50" y1="161.80" x2="103.50" y2="165.30" stroke="#333" stroke-width="1"/>
<line x1="108.12" y1="161.80" x2="108.12" y2="165.30" stroke="#333" stroke-width="1"/>
<line x1="111.90" y1="161.80" x2="111.90" y2="165.30" stroke="#333" stroke-width="1"/>
<line x1="115.09" y1="161.80" x2="115.09" y2="165.30" stroke="#333" stroke-width="1"/>
<line x1="117.85" y1="161.80" x2="117.85" y2="165.30" stroke="#333" stroke-width="1"/>
<line x1="120.29" y1="161.80" x2="120.29" y2="165.30" stroke="#333" stroke-width="1"/>
<line x1="122.47" y1="161.80" x2="122.47" y2="166.80" stroke="#222" stroke-width="1"/>
<text transform="translate(121.88,183.7) scale(0.89,1)" font-size="10.6" stroke="#000" stroke-width="0.4" text-anchor="end">10</text>
<text x="122.27" y="177.60" font-size="9" stroke="#000" stroke-width="0.2">1</text>
<line x1="136.83" y1="161.80" x2="136.83" y2="165.30" stroke="#333" stroke-width="1"/>
<line x1="145.22" y1="161.80" x2="145.22" y2="165.30" stroke="#333" stroke-width="1"/>
<line x1="151.18" y1="161.80" x2="151.18" y2="165.30" stroke="#333" stroke-width="1"/>
<line x1="155.80" y1="161.80" x2="155.80" y2="165.30" stroke="#333" stroke-width="1"/>
<line x1="159.57" y1="161.80" x2="159.57" y2="165.30" stroke="#333" stroke-width="1"/>
<line x1="162.77" y1="161.80" x2="162.77" y2="165.30" stroke="#333" stroke-width="1"/>
<line x1="165.53" y1="161.80" x2="165.53" y2="165.30" stroke="#333" stroke-width="1"/>
<line x1="167.97" y1="161.80" x2="167.97" y2="165.30" stroke="#333" stroke-width="1"/>
<line x1="170.15" y1="161.80" x2="170.15" y2="166.80" stroke="#222" stroke-width="1"/>
<text transform="translate(169.55,183.7) scale(0.89,1)" font-size="10.6" stroke="#000" stroke-width="0.4" text-anchor="end">10</text>
<text x="169.95" y="177.60" font-size="9" stroke="#000" stroke-width="0.2">2</text>
<line x1="184.50" y1="161.80" x2="184.50" y2="165.30" stroke="#333" stroke-width="1"/>
<line x1="192.90" y1="161.80" x2="192.90" y2="165.30" stroke="#333" stroke-width="1"/>
<line x1="198.85" y1="161.80" x2="198.85" y2="165.30" stroke="#333" stroke-width="1"/>
<line x1="203.47" y1="161.80" x2="203.47" y2="165.30" stroke="#333" stroke-width="1"/>
<line x1="207.25" y1="161.80" x2="207.25" y2="165.30" stroke="#333" stroke-width="1"/>
<line x1="210.44" y1="161.80" x2="210.44" y2="165.30" stroke="#333" stroke-width="1"/>
<line x1="213.20" y1="161.80" x2="213.20" y2="165.30" stroke="#333" stroke-width="1"/>
<line x1="215.64" y1="161.80" x2="215.64" y2="165.30" stroke="#333" stroke-width="1"/>
<line x1="217.82" y1="161.80" x2="217.82" y2="166.80" stroke="#222" stroke-width="1"/>
<text transform="translate(217.22,183.7) scale(0.89,1)" font-size="10.6" stroke="#000" stroke-width="0.4" text-anchor="end">10</text>
<text x="217.62" y="177.60" font-size="9" stroke="#000" stroke-width="0.2">3</text>
<line x1="232.18" y1="161.80" x2="232.18" y2="165.30" stroke="#333" stroke-width="1"/>
<line x1="240.57" y1="161.80" x2="240.57" y2="165.30" stroke="#333" stroke-width="1"/>
<line x1="246.53" y1="161.80" x2="246.53" y2="165.30" stroke="#333" stroke-width="1"/>
<line x1="251.15" y1="161.80" x2="251.15" y2="165.30" stroke="#333" stroke-width="1"/>
<line x1="254.92" y1="161.80" x2="254.92" y2="165.30" stroke="#333" stroke-width="1"/>
<line x1="258.12" y1="161.80" x2="258.12" y2="165.30" stroke="#333" stroke-width="1"/>
<line x1="260.88" y1="161.80" x2="260.88" y2="165.30" stroke="#333" stroke-width="1"/>
<line x1="263.32" y1="161.80" x2="263.32" y2="165.30" stroke="#333" stroke-width="1"/>
<line x1="265.50" y1="161.80" x2="265.50" y2="166.80" stroke="#222" stroke-width="1"/>
<text transform="translate(264.90,183.7) scale(0.89,1)" font-size="10.6" stroke="#000" stroke-width="0.4" text-anchor="end">10</text>
<text x="265.30" y="177.60" font-size="9" stroke="#000" stroke-width="0.2">4</text>
<text x="83.60" y="38.80" font-size="15.6" text-anchor="start" font-weight="normal" fill="#000" stroke="#000" stroke-width="0.3">88.6</text>
<text x="259.20" y="38.80" font-size="15.6" text-anchor="end" font-weight="normal" fill="#000" stroke="#000" stroke-width="0.3">11.4</text>
<text x="154.30" y="205.40" font-size="17.7" text-anchor="start" font-weight="normal" fill="#000" textLength="31" lengthAdjust="spacingAndGlyphs">LAP</text>
<text transform="translate(41.50,92.50) rotate(-90) scale(0.7,1)" font-size="18.5" text-anchor="middle">SSC</text>
<text transform="translate(17.56,33.40) scale(0.815,1)" font-size="34.45" stroke="#000" stroke-width="0.5">A</text>
<path fill="#1a1a1a" d="M367.7 123.0h1.25v1.25h-1.25zM353.8 128.1h1.25v1.25h-1.25zM386.3 126.8h1.25v1.25h-1.25zM377.1 111.5h1.25v1.25h-1.25zM364.4 134.0h1.25v1.25h-1.25zM378.1 136.6h1.25v1.25h-1.25zM383.2 120.5h1.25v1.25h-1.25zM350.3 123.7h1.25v1.25h-1.25zM371.3 127.7h1.25v1.25h-1.25zM361.7 116.3h1.25v1.25h-1.25zM380.6 127.4h1.25v1.25h-1.25zM365.6 115.4h1.25v1.25h-1.25zM368.9 124.5h1.25v1.25h-1.25zM347.3 132.0h1.25v1.25h-1.25zM385.2 120.2h1.25v1.25h-1.25zM366.6 130.8h1.25v1.25h-1.25zM355.4 131.3h1.25v1.25h-1.25zM386.2 130.2h1.25v1.25h-1.25zM371.6 126.1h1.25v1.25h-1.25zM349.9 125.9h1.25v1.25h-1.25zM371.3 121.5h1.25v1.25h-1.25zM373.7 129.9h1.25v1.25h-1.25zM347.2 134.6h1.25v1.25h-1.25zM377.8 121.4h1.25v1.25h-1.25zM362.7 125.7h1.25v1.25h-1.25zM375.4 129.1h1.25v1.25h-1.25zM374.3 132.6h1.25v1.25h-1.25zM376.2 131.5h1.25v1.25h-1.25zM386.3 127.5h1.25v1.25h-1.25zM371.9 123.8h1.25v1.25h-1.25zM390.0 126.3h1.25v1.25h-1.25zM354.7 136.7h1.25v1.25h-1.25zM382.4 121.2h1.25v1.25h-1.25zM373.5 128.2h1.25v1.25h-1.25zM348.4 129.8h1.25v1.25h-1.25zM389.5 127.5h1.25v1.25h-1.25zM346.3 129.7h1.25v1.25h-1.25zM355.2 124.1h1.25v1.25h-1.25zM375.3 129.9h1.25v1.25h-1.25zM387.3 137.1h1.25v1.25h-1.25zM356.3 138.8h1.25v1.25h-1.25zM351.2 117.6h1.25v1.25h-1.25zM348.9 126.9h1.25v1.25h-1.25zM389.3 129.1h1.25v1.25h-1.25zM381.6 132.0h1.25v1.25h-1.25zM351.6 131.0h1.25v1.25h-1.25zM380.7 128.3h1.25v1.25h-1.25zM385.4 127.7h1.25v1.25h-1.25zM383.7 128.3h1.25v1.25h-1.25zM369.9 124.9h1.25v1.25h-1.25zM372.9 134.7h1.25v1.25h-1.25zM371.7 127.3h1.25v1.25h-1.25zM346.6 130.5h1.25v1.25h-1.25zM369.4 129.7h1.25v1.25h-1.25zM344.4 122.0h1.25v1.25h-1.25zM378.7 116.4h1.25v1.25h-1.25zM381.8 126.3h1.25v1.25h-1.25zM365.4 121.5h1.25v1.25h-1.25zM353.7 121.8h1.25v1.25h-1.25zM364.0 114.9h1.25v1.25h-1.25zM369.5 117.1h1.25v1.25h-1.25zM360.4 119.7h1.25v1.25h-1.25zM383.6 122.4h1.25v1.25h-1.25zM383.5 123.2h1.25v1.25h-1.25zM358.1 124.5h1.25v1.25h-1.25zM379.5 122.9h1.25v1.25h-1.25zM389.6 121.2h1.25v1.25h-1.25zM379.8 125.6h1.25v1.25h-1.25zM349.3 128.0h1.25v1.25h-1.25zM376.3 134.2h1.25v1.25h-1.25zM365.2 132.5h1.25v1.25h-1.25zM363.0 135.0h1.25v1.25h-1.25zM386.7 133.9h1.25v1.25h-1.25zM378.1 124.1h1.25v1.25h-1.25zM383.0 141.3h1.25v1.25h-1.25zM377.4 118.8h1.25v1.25h-1.25zM383.6 126.3h1.25v1.25h-1.25zM364.1 125.2h1.25v1.25h-1.25zM387.9 130.8h1.25v1.25h-1.25zM364.6 129.4h1.25v1.25h-1.25zM358.0 132.7h1.25v1.25h-1.25zM360.3 129.3h1.25v1.25h-1.25zM364.6 125.6h1.25v1.25h-1.25zM389.7 136.3h1.25v1.25h-1.25zM379.5 140.0h1.25v1.25h-1.25zM383.0 117.6h1.25v1.25h-1.25zM356.8 128.4h1.25v1.25h-1.25zM355.7 129.2h1.25v1.25h-1.25zM354.8 127.4h1.25v1.25h-1.25zM385.3 123.2h1.25v1.25h-1.25zM379.9 130.7h1.25v1.25h-1.25zM380.1 119.5h1.25v1.25h-1.25zM368.8 135.2h1.25v1.25h-1.25zM348.9 125.6h1.25v1.25h-1.25zM373.2 132.9h1.25v1.25h-1.25zM361.1 143.9h1.25v1.25h-1.25zM351.5 131.8h1.25v1.25h-1.25zM368.7 132.6h1.25v1.25h-1.25zM387.7 134.4h1.25v1.25h-1.25zM363.0 119.9h1.25v1.25h-1.25zM389.1 133.0h1.25v1.25h-1.25zM348.2 126.9h1.25v1.25h-1.25zM386.2 123.1h1.25v1.25h-1.25zM344.7 128.7h1.25v1.25h-1.25zM390.1 118.2h1.25v1.25h-1.25zM352.2 136.9h1.25v1.25h-1.25zM376.2 124.4h1.25v1.25h-1.25zM378.8 128.0h1.25v1.25h-1.25zM356.0 132.8h1.25v1.25h-1.25zM345.3 129.6h1.25v1.25h-1.25zM356.1 132.1h1.25v1.25h-1.25zM388.9 133.3h1.25v1.25h-1.25zM374.6 134.6h1.25v1.25h-1.25zM371.9 129.9h1.25v1.25h-1.25zM347.0 133.1h1.25v1.25h-1.25zM347.2 122.2h1.25v1.25h-1.25zM350.7 127.5h1.25v1.25h-1.25zM349.3 144.6h1.25v1.25h-1.25zM376.0 127.4h1.25v1.25h-1.25zM356.8 127.6h1.25v1.25h-1.25zM348.7 132.0h1.25v1.25h-1.25zM358.1 136.1h1.25v1.25h-1.25zM364.7 122.9h1.25v1.25h-1.25zM377.9 116.0h1.25v1.25h-1.25zM360.0 119.9h1.25v1.25h-1.25zM382.8 116.5h1.25v1.25h-1.25zM354.6 125.8h1.25v1.25h-1.25zM383.8 125.0h1.25v1.25h-1.25zM357.0 136.9h1.25v1.25h-1.25zM344.5 123.1h1.25v1.25h-1.25zM351.4 115.4h1.25v1.25h-1.25zM374.7 135.9h1.25v1.25h-1.25zM352.4 132.8h1.25v1.25h-1.25zM350.7 113.5h1.25v1.25h-1.25zM361.9 117.9h1.25v1.25h-1.25zM374.4 132.1h1.25v1.25h-1.25zM347.1 129.9h1.25v1.25h-1.25zM344.7 126.1h1.25v1.25h-1.25zM388.9 130.7h1.25v1.25h-1.25zM361.0 128.6h1.25v1.25h-1.25zM380.7 131.4h1.25v1.25h-1.25zM355.7 133.1h1.25v1.25h-1.25zM349.2 122.4h1.25v1.25h-1.25zM355.6 126.6h1.25v1.25h-1.25zM361.8 133.0h1.25v1.25h-1.25zM379.6 127.4h1.25v1.25h-1.25zM354.2 124.0h1.25v1.25h-1.25zM361.9 134.0h1.25v1.25h-1.25zM366.0 121.4h1.25v1.25h-1.25zM384.5 119.3h1.25v1.25h-1.25zM383.0 125.2h1.25v1.25h-1.25zM355.0 121.5h1.25v1.25h-1.25zM349.4 126.8h1.25v1.25h-1.25zM365.4 128.7h1.25v1.25h-1.25zM349.5 130.8h1.25v1.25h-1.25zM366.4 126.0h1.25v1.25h-1.25zM364.5 124.0h1.25v1.25h-1.25zM349.5 122.7h1.25v1.25h-1.25zM365.9 125.6h1.25v1.25h-1.25zM387.6 130.3h1.25v1.25h-1.25zM354.4 128.9h1.25v1.25h-1.25zM378.7 139.7h1.25v1.25h-1.25zM388.8 132.9h1.25v1.25h-1.25zM384.0 116.5h1.25v1.25h-1.25zM368.5 118.5h1.25v1.25h-1.25zM355.2 122.1h1.25v1.25h-1.25zM353.9 117.1h1.25v1.25h-1.25zM347.9 129.4h1.25v1.25h-1.25zM365.5 113.9h1.25v1.25h-1.25zM378.1 121.9h1.25v1.25h-1.25zM358.8 125.0h1.25v1.25h-1.25zM353.6 131.1h1.25v1.25h-1.25zM349.6 133.1h1.25v1.25h-1.25zM389.8 132.0h1.25v1.25h-1.25zM344.5 127.6h1.25v1.25h-1.25zM374.4 129.5h1.25v1.25h-1.25zM365.9 128.2h1.25v1.25h-1.25zM378.5 132.5h1.25v1.25h-1.25zM367.3 129.1h1.25v1.25h-1.25zM372.2 130.1h1.25v1.25h-1.25zM381.4 130.9h1.25v1.25h-1.25zM388.0 128.8h1.25v1.25h-1.25zM361.2 140.4h1.25v1.25h-1.25zM386.0 126.2h1.25v1.25h-1.25zM371.9 124.0h1.25v1.25h-1.25zM386.0 124.3h1.25v1.25h-1.25zM345.7 125.9h1.25v1.25h-1.25zM364.5 125.5h1.25v1.25h-1.25zM378.9 124.9h1.25v1.25h-1.25zM371.2 122.2h1.25v1.25h-1.25zM375.6 130.4h1.25v1.25h-1.25zM344.6 123.7h1.25v1.25h-1.25zM366.2 129.5h1.25v1.25h-1.25zM367.8 121.2h1.25v1.25h-1.25zM390.2 130.4h1.25v1.25h-1.25zM372.9 125.6h1.25v1.25h-1.25zM353.4 116.5h1.25v1.25h-1.25zM390.6 132.4h1.25v1.25h-1.25zM388.8 126.9h1.25v1.25h-1.25zM359.0 132.8h1.25v1.25h-1.25zM375.2 124.9h1.25v1.25h-1.25zM345.1 130.7h1.25v1.25h-1.25zM382.6 125.4h1.25v1.25h-1.25zM365.2 131.1h1.25v1.25h-1.25zM370.2 128.9h1.25v1.25h-1.25zM355.2 131.4h1.25v1.25h-1.25zM349.6 124.6h1.25v1.25h-1.25zM350.4 128.9h1.25v1.25h-1.25zM368.3 139.4h1.25v1.25h-1.25zM346.7 134.5h1.25v1.25h-1.25zM354.9 123.9h1.25v1.25h-1.25zM365.1 120.8h1.25v1.25h-1.25zM363.1 121.0h1.25v1.25h-1.25zM384.1 134.0h1.25v1.25h-1.25zM388.6 129.8h1.25v1.25h-1.25zM363.0 113.2h1.25v1.25h-1.25zM346.4 125.5h1.25v1.25h-1.25zM344.9 129.6h1.25v1.25h-1.25zM357.5 132.0h1.25v1.25h-1.25zM384.5 112.2h1.25v1.25h-1.25zM363.6 140.0h1.25v1.25h-1.25zM381.6 130.3h1.25v1.25h-1.25zM374.4 131.2h1.25v1.25h-1.25zM355.4 128.3h1.25v1.25h-1.25zM374.7 137.7h1.25v1.25h-1.25zM385.9 133.9h1.25v1.25h-1.25zM388.8 127.2h1.25v1.25h-1.25zM385.8 125.7h1.25v1.25h-1.25zM370.6 124.1h1.25v1.25h-1.25zM355.9 119.3h1.25v1.25h-1.25zM355.0 133.2h1.25v1.25h-1.25zM375.6 122.4h1.25v1.25h-1.25zM347.5 128.5h1.25v1.25h-1.25zM366.0 136.8h1.25v1.25h-1.25zM375.3 127.8h1.25v1.25h-1.25zM366.2 128.9h1.25v1.25h-1.25zM375.6 130.4h1.25v1.25h-1.25zM352.4 136.8h1.25v1.25h-1.25zM388.6 127.0h1.25v1.25h-1.25zM364.1 132.5h1.25v1.25h-1.25zM388.6 126.4h1.25v1.25h-1.25zM388.8 121.9h1.25v1.25h-1.25zM385.9 126.9h1.25v1.25h-1.25zM360.8 117.9h1.25v1.25h-1.25zM374.9 127.7h1.25v1.25h-1.25zM354.4 131.3h1.25v1.25h-1.25zM354.0 128.2h1.25v1.25h-1.25zM350.4 126.4h1.25v1.25h-1.25zM362.9 130.3h1.25v1.25h-1.25zM371.1 126.9h1.25v1.25h-1.25zM387.9 133.3h1.25v1.25h-1.25zM376.8 130.8h1.25v1.25h-1.25zM364.4 124.8h1.25v1.25h-1.25zM344.9 121.7h1.25v1.25h-1.25zM375.5 124.9h1.25v1.25h-1.25zM388.8 123.0h1.25v1.25h-1.25zM379.7 123.5h1.25v1.25h-1.25zM373.6 135.8h1.25v1.25h-1.25zM376.8 124.0h1.25v1.25h-1.25zM379.7 128.9h1.25v1.25h-1.25zM358.0 128.5h1.25v1.25h-1.25zM372.0 116.5h1.25v1.25h-1.25zM383.6 122.2h1.25v1.25h-1.25zM353.3 134.0h1.25v1.25h-1.25zM344.7 137.9h1.25v1.25h-1.25zM356.7 130.2h1.25v1.25h-1.25zM347.3 124.2h1.25v1.25h-1.25zM376.4 127.9h1.25v1.25h-1.25zM344.2 127.4h1.25v1.25h-1.25zM377.1 123.2h1.25v1.25h-1.25zM390.0 125.0h1.25v1.25h-1.25zM387.5 127.7h1.25v1.25h-1.25zM389.2 124.7h1.25v1.25h-1.25zM368.3 123.5h1.25v1.25h-1.25zM358.9 134.3h1.25v1.25h-1.25zM356.1 124.5h1.25v1.25h-1.25zM346.6 124.8h1.25v1.25h-1.25zM348.3 126.2h1.25v1.25h-1.25zM373.1 129.7h1.25v1.25h-1.25zM380.9 132.7h1.25v1.25h-1.25zM378.0 132.0h1.25v1.25h-1.25zM352.8 122.0h1.25v1.25h-1.25zM387.3 129.9h1.25v1.25h-1.25zM351.2 128.8h1.25v1.25h-1.25zM376.3 135.5h1.25v1.25h-1.25zM354.7 121.5h1.25v1.25h-1.25zM381.1 127.2h1.25v1.25h-1.25zM371.3 130.7h1.25v1.25h-1.25zM352.9 131.0h1.25v1.25h-1.25zM380.9 139.0h1.25v1.25h-1.25zM354.8 120.4h1.25v1.25h-1.25zM370.3 123.0h1.25v1.25h-1.25zM350.5 125.2h1.25v1.25h-1.25zM349.1 120.3h1.25v1.25h-1.25zM373.5 127.8h1.25v1.25h-1.25zM363.7 123.2h1.25v1.25h-1.25zM368.8 128.3h1.25v1.25h-1.25zM377.7 129.6h1.25v1.25h-1.25zM354.3 130.3h1.25v1.25h-1.25zM376.2 119.4h1.25v1.25h-1.25zM372.6 124.6h1.25v1.25h-1.25zM358.5 130.5h1.25v1.25h-1.25zM374.9 128.3h1.25v1.25h-1.25zM354.6 124.4h1.25v1.25h-1.25zM379.9 123.4h1.25v1.25h-1.25zM388.7 136.9h1.25v1.25h-1.25zM381.0 130.1h1.25v1.25h-1.25zM377.6 123.0h1.25v1.25h-1.25zM346.6 130.2h1.25v1.25h-1.25zM346.3 129.8h1.25v1.25h-1.25zM367.9 119.6h1.25v1.25h-1.25zM384.9 116.3h1.25v1.25h-1.25zM365.5 127.0h1.25v1.25h-1.25zM367.6 125.1h1.25v1.25h-1.25zM368.3 134.5h1.25v1.25h-1.25zM368.7 120.5h1.25v1.25h-1.25zM380.1 126.2h1.25v1.25h-1.25zM362.0 126.6h1.25v1.25h-1.25zM366.5 128.2h1.25v1.25h-1.25zM354.4 118.8h1.25v1.25h-1.25zM358.8 137.8h1.25v1.25h-1.25zM379.9 126.6h1.25v1.25h-1.25zM361.3 141.6h1.25v1.25h-1.25zM387.5 123.4h1.25v1.25h-1.25zM372.8 122.6h1.25v1.25h-1.25zM373.7 123.8h1.25v1.25h-1.25zM357.0 110.9h1.25v1.25h-1.25zM386.4 124.0h1.25v1.25h-1.25zM350.0 136.6h1.25v1.25h-1.25zM358.0 126.2h1.25v1.25h-1.25zM347.2 128.0h1.25v1.25h-1.25zM364.4 138.8h1.25v1.25h-1.25zM348.0 130.2h1.25v1.25h-1.25zM388.9 126.3h1.25v1.25h-1.25zM346.4 130.6h1.25v1.25h-1.25zM350.3 117.7h1.25v1.25h-1.25zM349.0 124.7h1.25v1.25h-1.25zM368.8 126.5h1.25v1.25h-1.25zM382.8 126.2h1.25v1.25h-1.25zM379.6 124.7h1.25v1.25h-1.25zM363.9 129.7h1.25v1.25h-1.25zM355.3 125.3h1.25v1.25h-1.25zM389.3 124.5h1.25v1.25h-1.25zM378.5 124.8h1.25v1.25h-1.25zM385.5 122.2h1.25v1.25h-1.25zM388.5 132.1h1.25v1.25h-1.25zM372.1 129.7h1.25v1.25h-1.25zM377.4 121.3h1.25v1.25h-1.25zM378.2 125.2h1.25v1.25h-1.25zM388.6 125.1h1.25v1.25h-1.25zM349.0 125.9h1.25v1.25h-1.25zM355.6 133.3h1.25v1.25h-1.25zM355.9 146.8h1.25v1.25h-1.25zM351.0 124.4h1.25v1.25h-1.25zM383.8 129.7h1.25v1.25h-1.25zM378.7 124.6h1.25v1.25h-1.25zM359.9 125.6h1.25v1.25h-1.25zM382.3 122.0h1.25v1.25h-1.25zM384.2 128.9h1.25v1.25h-1.25zM379.6 128.5h1.25v1.25h-1.25zM372.3 115.6h1.25v1.25h-1.25zM359.3 137.2h1.25v1.25h-1.25zM383.5 126.0h1.25v1.25h-1.25zM361.1 132.5h1.25v1.25h-1.25zM361.5 131.7h1.25v1.25h-1.25zM349.2 123.2h1.25v1.25h-1.25zM354.6 122.6h1.25v1.25h-1.25zM373.6 131.5h1.25v1.25h-1.25zM385.3 127.9h1.25v1.25h-1.25zM386.8 132.7h1.25v1.25h-1.25zM381.5 118.0h1.25v1.25h-1.25zM379.2 128.7h1.25v1.25h-1.25zM381.9 128.2h1.25v1.25h-1.25zM361.8 118.9h1.25v1.25h-1.25zM383.1 122.9h1.25v1.25h-1.25zM359.7 122.3h1.25v1.25h-1.25zM382.2 134.9h1.25v1.25h-1.25zM383.5 118.1h1.25v1.25h-1.25zM384.9 118.6h1.25v1.25h-1.25zM378.7 116.7h1.25v1.25h-1.25zM375.5 129.2h1.25v1.25h-1.25zM384.5 129.7h1.25v1.25h-1.25zM369.5 133.5h1.25v1.25h-1.25zM380.5 126.5h1.25v1.25h-1.25zM380.4 125.1h1.25v1.25h-1.25zM359.9 131.2h1.25v1.25h-1.25zM355.6 123.6h1.25v1.25h-1.25zM345.2 124.8h1.25v1.25h-1.25zM381.1 127.7h1.25v1.25h-1.25zM347.2 125.7h1.25v1.25h-1.25zM378.5 125.8h1.25v1.25h-1.25zM362.7 121.5h1.25v1.25h-1.25zM381.4 122.9h1.25v1.25h-1.25zM373.5 129.6h1.25v1.25h-1.25zM385.7 141.3h1.25v1.25h-1.25zM378.2 125.6h1.25v1.25h-1.25zM358.5 122.3h1.25v1.25h-1.25zM349.0 133.9h1.25v1.25h-1.25zM371.4 124.5h1.25v1.25h-1.25zM366.6 134.7h1.25v1.25h-1.25zM363.4 121.3h1.25v1.25h-1.25zM353.7 134.4h1.25v1.25h-1.25zM360.9 138.4h1.25v1.25h-1.25zM376.4 116.1h1.25v1.25h-1.25zM349.8 126.6h1.25v1.25h-1.25zM371.5 128.9h1.25v1.25h-1.25zM364.2 129.4h1.25v1.25h-1.25zM348.3 134.6h1.25v1.25h-1.25zM368.4 123.3h1.25v1.25h-1.25zM360.6 138.0h1.25v1.25h-1.25zM354.4 128.4h1.25v1.25h-1.25zM354.2 139.3h1.25v1.25h-1.25zM385.1 121.4h1.25v1.25h-1.25zM361.8 128.4h1.25v1.25h-1.25zM377.1 124.3h1.25v1.25h-1.25zM358.1 129.9h1.25v1.25h-1.25zM359.4 128.5h1.25v1.25h-1.25zM369.5 132.1h1.25v1.25h-1.25zM367.3 129.8h1.25v1.25h-1.25zM388.6 131.1h1.25v1.25h-1.25zM390.6 138.4h1.25v1.25h-1.25zM352.6 132.2h1.25v1.25h-1.25zM386.4 138.1h1.25v1.25h-1.25zM384.5 131.4h1.25v1.25h-1.25zM360.9 124.3h1.25v1.25h-1.25zM345.1 130.0h1.25v1.25h-1.25zM367.4 117.3h1.25v1.25h-1.25zM388.5 136.1h1.25v1.25h-1.25zM367.8 120.8h1.25v1.25h-1.25zM350.7 131.4h1.25v1.25h-1.25zM373.4 125.9h1.25v1.25h-1.25zM372.1 134.3h1.25v1.25h-1.25zM356.1 129.1h1.25v1.25h-1.25zM367.9 121.6h1.25v1.25h-1.25zM365.8 127.5h1.25v1.25h-1.25zM359.9 127.7h1.25v1.25h-1.25zM377.4 128.1h1.25v1.25h-1.25zM355.9 132.7h1.25v1.25h-1.25zM368.1 124.2h1.25v1.25h-1.25zM386.1 120.5h1.25v1.25h-1.25zM353.4 136.7h1.25v1.25h-1.25zM378.9 133.2h1.25v1.25h-1.25zM377.2 129.3h1.25v1.25h-1.25zM383.1 132.9h1.25v1.25h-1.25zM387.1 113.8h1.25v1.25h-1.25zM364.6 123.2h1.25v1.25h-1.25zM348.1 117.9h1.25v1.25h-1.25zM375.6 123.3h1.25v1.25h-1.25zM350.7 136.7h1.25v1.25h-1.25zM390.5 125.8h1.25v1.25h-1.25zM359.7 127.6h1.25v1.25h-1.25zM353.3 132.7h1.25v1.25h-1.25zM351.5 135.4h1.25v1.25h-1.25zM358.1 123.4h1.25v1.25h-1.25zM351.6 127.5h1.25v1.25h-1.25zM353.0 125.5h1.25v1.25h-1.25zM358.7 132.0h1.25v1.25h-1.25zM366.4 128.2h1.25v1.25h-1.25zM364.5 120.9h1.25v1.25h-1.25zM388.0 129.3h1.25v1.25h-1.25zM366.0 125.4h1.25v1.25h-1.25zM350.8 120.1h1.25v1.25h-1.25zM351.9 119.3h1.25v1.25h-1.25zM389.0 123.7h1.25v1.25h-1.25zM362.8 132.1h1.25v1.25h-1.25zM360.4 122.8h1.25v1.25h-1.25zM376.2 130.9h1.25v1.25h-1.25zM384.3 125.8h1.25v1.25h-1.25zM370.7 115.9h1.25v1.25h-1.25zM377.9 127.6h1.25v1.25h-1.25zM360.5 137.7h1.25v1.25h-1.25zM362.7 138.3h1.25v1.25h-1.25zM364.2 130.4h1.25v1.25h-1.25zM374.9 120.5h1.25v1.25h-1.25zM378.2 124.7h1.25v1.25h-1.25zM361.1 129.2h1.25v1.25h-1.25zM383.7 125.9h1.25v1.25h-1.25zM375.6 136.1h1.25v1.25h-1.25zM359.9 120.6h1.25v1.25h-1.25zM362.8 130.7h1.25v1.25h-1.25zM352.5 118.1h1.25v1.25h-1.25zM381.3 119.2h1.25v1.25h-1.25zM345.3 131.2h1.25v1.25h-1.25zM367.1 121.7h1.25v1.25h-1.25zM361.0 123.5h1.25v1.25h-1.25zM368.8 131.6h1.25v1.25h-1.25zM387.3 132.6h1.25v1.25h-1.25zM359.5 133.5h1.25v1.25h-1.25zM362.1 136.6h1.25v1.25h-1.25zM356.2 135.0h1.25v1.25h-1.25zM361.3 132.6h1.25v1.25h-1.25zM386.5 124.2h1.25v1.25h-1.25zM369.1 129.0h1.25v1.25h-1.25zM382.3 122.5h1.25v1.25h-1.25zM351.5 128.5h1.25v1.25h-1.25zM353.0 129.3h1.25v1.25h-1.25zM346.8 126.9h1.25v1.25h-1.25zM354.6 131.4h1.25v1.25h-1.25zM346.7 128.9h1.25v1.25h-1.25zM377.6 117.9h1.25v1.25h-1.25zM386.4 120.6h1.25v1.25h-1.25zM386.9 130.7h1.25v1.25h-1.25zM348.2 122.1h1.25v1.25h-1.25zM353.0 131.1h1.25v1.25h-1.25zM378.9 124.2h1.25v1.25h-1.25zM348.4 132.9h1.25v1.25h-1.25zM384.7 127.9h1.25v1.25h-1.25zM389.5 136.5h1.25v1.25h-1.25zM345.8 125.0h1.25v1.25h-1.25zM345.1 127.0h1.25v1.25h-1.25zM377.0 130.2h1.25v1.25h-1.25zM351.6 130.3h1.25v1.25h-1.25zM352.5 135.3h1.25v1.25h-1.25zM389.2 134.0h1.25v1.25h-1.25zM360.8 121.4h1.25v1.25h-1.25zM362.2 128.9h1.25v1.25h-1.25zM355.8 126.2h1.25v1.25h-1.25zM390.3 111.2h1.25v1.25h-1.25zM376.9 126.3h1.25v1.25h-1.25zM351.1 124.6h1.25v1.25h-1.25zM360.4 128.2h1.25v1.25h-1.25zM368.7 130.2h1.25v1.25h-1.25zM375.7 121.5h1.25v1.25h-1.25zM380.8 126.7h1.25v1.25h-1.25zM370.8 140.4h1.25v1.25h-1.25zM372.0 124.2h1.25v1.25h-1.25zM359.7 140.0h1.25v1.25h-1.25zM384.0 118.9h1.25v1.25h-1.25zM386.6 131.3h1.25v1.25h-1.25zM352.2 129.4h1.25v1.25h-1.25zM361.9 128.3h1.25v1.25h-1.25zM381.4 128.6h1.25v1.25h-1.25zM380.6 128.7h1.25v1.25h-1.25zM381.2 128.1h1.25v1.25h-1.25zM363.3 132.0h1.25v1.25h-1.25zM377.9 135.2h1.25v1.25h-1.25zM363.1 112.9h1.25v1.25h-1.25zM387.3 132.0h1.25v1.25h-1.25zM372.7 130.5h1.25v1.25h-1.25zM356.6 122.5h1.25v1.25h-1.25zM386.1 125.2h1.25v1.25h-1.25zM382.3 138.7h1.25v1.25h-1.25zM390.1 130.1h1.25v1.25h-1.25zM379.3 133.1h1.25v1.25h-1.25zM356.2 130.9h1.25v1.25h-1.25zM384.0 130.4h1.25v1.25h-1.25zM366.8 130.3h1.25v1.25h-1.25zM347.9 114.1h1.25v1.25h-1.25zM387.3 127.9h1.25v1.25h-1.25zM379.5 131.6h1.25v1.25h-1.25zM370.7 121.1h1.25v1.25h-1.25zM363.9 132.6h1.25v1.25h-1.25zM387.5 118.8h1.25v1.25h-1.25zM348.8 122.4h1.25v1.25h-1.25zM356.9 118.5h1.25v1.25h-1.25zM364.6 119.8h1.25v1.25h-1.25zM377.8 128.5h1.25v1.25h-1.25zM374.2 117.9h1.25v1.25h-1.25zM348.6 138.1h1.25v1.25h-1.25zM354.0 127.7h1.25v1.25h-1.25zM374.5 129.1h1.25v1.25h-1.25zM386.8 122.1h1.25v1.25h-1.25zM387.9 121.5h1.25v1.25h-1.25zM370.6 128.2h1.25v1.25h-1.25zM381.7 127.7h1.25v1.25h-1.25zM384.2 135.0h1.25v1.25h-1.25zM362.7 121.3h1.25v1.25h-1.25zM349.6 130.3h1.25v1.25h-1.25zM378.9 122.3h1.25v1.25h-1.25zM346.5 120.6h1.25v1.25h-1.25zM390.0 138.0h1.25v1.25h-1.25zM350.1 130.7h1.25v1.25h-1.25zM373.7 131.4h1.25v1.25h-1.25zM382.0 124.7h1.25v1.25h-1.25zM345.6 130.7h1.25v1.25h-1.25zM383.7 127.7h1.25v1.25h-1.25zM385.6 121.2h1.25v1.25h-1.25zM365.9 126.6h1.25v1.25h-1.25zM377.5 128.8h1.25v1.25h-1.25zM387.4 133.8h1.25v1.25h-1.25zM352.7 120.6h1.25v1.25h-1.25zM349.6 119.4h1.25v1.25h-1.25zM352.7 133.7h1.25v1.25h-1.25zM351.7 128.1h1.25v1.25h-1.25zM387.3 138.9h1.25v1.25h-1.25zM355.7 126.3h1.25v1.25h-1.25zM386.5 125.6h1.25v1.25h-1.25zM372.6 114.7h1.25v1.25h-1.25zM389.2 126.9h1.25v1.25h-1.25zM368.8 136.8h1.25v1.25h-1.25zM383.8 130.7h1.25v1.25h-1.25zM386.6 127.1h1.25v1.25h-1.25zM381.5 132.3h1.25v1.25h-1.25zM354.8 137.5h1.25v1.25h-1.25zM365.6 121.0h1.25v1.25h-1.25zM387.0 142.4h1.25v1.25h-1.25zM351.5 131.3h1.25v1.25h-1.25zM362.9 135.3h1.25v1.25h-1.25zM351.8 123.5h1.25v1.25h-1.25zM367.0 122.7h1.25v1.25h-1.25zM356.5 133.4h1.25v1.25h-1.25zM379.5 122.2h1.25v1.25h-1.25zM371.5 121.2h1.25v1.25h-1.25zM361.1 117.0h1.25v1.25h-1.25zM388.7 124.6h1.25v1.25h-1.25zM371.1 128.5h1.25v1.25h-1.25zM389.0 134.0h1.25v1.25h-1.25zM358.6 122.9h1.25v1.25h-1.25zM345.4 127.2h1.25v1.25h-1.25zM357.3 125.0h1.25v1.25h-1.25zM373.3 142.1h1.25v1.25h-1.25zM375.9 133.9h1.25v1.25h-1.25zM360.9 119.6h1.25v1.25h-1.25zM369.3 130.8h1.25v1.25h-1.25zM384.2 130.9h1.25v1.25h-1.25zM372.2 133.2h1.25v1.25h-1.25zM358.0 123.5h1.25v1.25h-1.25zM389.3 129.0h1.25v1.25h-1.25zM347.0 120.1h1.25v1.25h-1.25zM353.6 127.6h1.25v1.25h-1.25zM367.7 119.3h1.25v1.25h-1.25zM375.2 120.0h1.25v1.25h-1.25zM375.9 110.6h1.25v1.25h-1.25zM375.6 136.7h1.25v1.25h-1.25zM377.2 126.1h1.25v1.25h-1.25zM363.9 128.0h1.25v1.25h-1.25zM389.1 131.2h1.25v1.25h-1.25zM344.5 120.6h1.25v1.25h-1.25zM363.4 121.2h1.25v1.25h-1.25zM382.4 132.9h1.25v1.25h-1.25zM344.6 126.9h1.25v1.25h-1.25zM382.8 124.3h1.25v1.25h-1.25zM348.8 123.6h1.25v1.25h-1.25zM385.0 130.1h1.25v1.25h-1.25zM368.0 135.3h1.25v1.25h-1.25zM362.9 113.5h1.25v1.25h-1.25zM376.5 117.3h1.25v1.25h-1.25zM389.7 123.2h1.25v1.25h-1.25zM349.2 128.2h1.25v1.25h-1.25zM350.9 133.0h1.25v1.25h-1.25zM361.0 136.2h1.25v1.25h-1.25zM390.3 141.2h1.25v1.25h-1.25zM390.3 134.6h1.25v1.25h-1.25zM351.5 134.4h1.25v1.25h-1.25zM377.8 133.7h1.25v1.25h-1.25zM385.9 129.9h1.25v1.25h-1.25zM355.9 125.8h1.25v1.25h-1.25zM351.0 125.2h1.25v1.25h-1.25zM371.4 126.9h1.25v1.25h-1.25zM367.4 131.6h1.25v1.25h-1.25zM370.8 134.1h1.25v1.25h-1.25zM369.3 130.5h1.25v1.25h-1.25zM344.7 121.9h1.25v1.25h-1.25zM355.1 125.7h1.25v1.25h-1.25zM379.3 127.5h1.25v1.25h-1.25zM355.3 116.4h1.25v1.25h-1.25zM348.3 134.2h1.25v1.25h-1.25zM359.7 127.2h1.25v1.25h-1.25zM379.6 126.5h1.25v1.25h-1.25zM382.9 118.9h1.25v1.25h-1.25zM365.1 142.3h1.25v1.25h-1.25zM372.1 128.3h1.25v1.25h-1.25zM352.5 125.7h1.25v1.25h-1.25zM359.5 127.0h1.25v1.25h-1.25zM348.2 132.0h1.25v1.25h-1.25zM358.4 133.3h1.25v1.25h-1.25zM367.9 123.7h1.25v1.25h-1.25zM351.2 129.9h1.25v1.25h-1.25zM358.2 134.2h1.25v1.25h-1.25zM376.9 115.8h1.25v1.25h-1.25zM364.0 127.1h1.25v1.25h-1.25zM349.7 126.4h1.25v1.25h-1.25zM383.5 130.2h1.25v1.25h-1.25zM373.1 131.0h1.25v1.25h-1.25zM346.8 133.7h1.25v1.25h-1.25zM348.8 128.3h1.25v1.25h-1.25zM378.6 129.6h1.25v1.25h-1.25zM351.9 135.4h1.25v1.25h-1.25zM375.2 136.5h1.25v1.25h-1.25zM348.3 124.3h1.25v1.25h-1.25zM386.0 123.6h1.25v1.25h-1.25zM362.6 128.0h1.25v1.25h-1.25zM353.3 119.9h1.25v1.25h-1.25zM390.3 123.1h1.25v1.25h-1.25zM359.6 129.0h1.25v1.25h-1.25zM354.4 118.8h1.25v1.25h-1.25zM362.7 130.6h1.25v1.25h-1.25zM351.3 134.2h1.25v1.25h-1.25zM347.3 146.5h1.25v1.25h-1.25zM386.8 133.2h1.25v1.25h-1.25zM348.7 135.3h1.25v1.25h-1.25zM353.1 128.2h1.25v1.25h-1.25zM375.2 139.4h1.25v1.25h-1.25zM357.6 127.7h1.25v1.25h-1.25zM387.5 125.3h1.25v1.25h-1.25zM350.6 134.6h1.25v1.25h-1.25zM366.5 121.4h1.25v1.25h-1.25zM376.5 121.2h1.25v1.25h-1.25zM370.9 126.2h1.25v1.25h-1.25zM377.3 128.3h1.25v1.25h-1.25zM381.3 123.9h1.25v1.25h-1.25zM346.5 124.5h1.25v1.25h-1.25zM371.2 129.0h1.25v1.25h-1.25zM376.4 133.8h1.25v1.25h-1.25zM361.1 129.2h1.25v1.25h-1.25zM389.6 133.0h1.25v1.25h-1.25zM364.4 125.3h1.25v1.25h-1.25zM377.8 128.0h1.25v1.25h-1.25zM384.3 130.4h1.25v1.25h-1.25zM384.6 130.8h1.25v1.25h-1.25zM377.4 123.5h1.25v1.25h-1.25zM375.3 124.0h1.25v1.25h-1.25zM344.2 122.4h1.25v1.25h-1.25zM384.7 126.5h1.25v1.25h-1.25zM390.4 133.8h1.25v1.25h-1.25zM380.6 115.6h1.25v1.25h-1.25zM384.3 142.1h1.25v1.25h-1.25zM374.0 136.8h1.25v1.25h-1.25zM388.1 131.9h1.25v1.25h-1.25zM368.2 129.7h1.25v1.25h-1.25zM366.5 131.2h1.25v1.25h-1.25zM367.8 122.9h1.25v1.25h-1.25zM371.4 127.2h1.25v1.25h-1.25zM367.4 123.1h1.25v1.25h-1.25zM367.5 136.1h1.25v1.25h-1.25zM352.7 123.5h1.25v1.25h-1.25zM368.8 129.8h1.25v1.25h-1.25zM376.8 117.5h1.25v1.25h-1.25zM380.4 132.8h1.25v1.25h-1.25zM387.1 128.6h1.25v1.25h-1.25zM367.8 131.7h1.25v1.25h-1.25zM362.7 124.4h1.25v1.25h-1.25zM377.0 125.1h1.25v1.25h-1.25zM378.1 134.6h1.25v1.25h-1.25zM353.9 133.7h1.25v1.25h-1.25zM358.3 126.3h1.25v1.25h-1.25zM360.8 127.8h1.25v1.25h-1.25zM353.7 138.2h1.25v1.25h-1.25zM354.9 126.1h1.25v1.25h-1.25zM375.5 137.0h1.25v1.25h-1.25zM373.6 129.8h1.25v1.25h-1.25zM346.9 132.7h1.25v1.25h-1.25zM360.8 112.4h1.25v1.25h-1.25zM368.5 124.8h1.25v1.25h-1.25zM375.2 117.0h1.25v1.25h-1.25zM354.7 130.4h1.25v1.25h-1.25zM359.7 119.4h1.25v1.25h-1.25zM378.3 121.0h1.25v1.25h-1.25zM366.7 131.4h1.25v1.25h-1.25zM366.7 124.4h1.25v1.25h-1.25zM377.2 118.4h1.25v1.25h-1.25zM384.4 135.5h1.25v1.25h-1.25zM364.5 132.8h1.25v1.25h-1.25zM389.4 125.5h1.25v1.25h-1.25zM352.6 125.3h1.25v1.25h-1.25zM386.9 123.8h1.25v1.25h-1.25zM383.7 134.1h1.25v1.25h-1.25zM385.5 117.4h1.25v1.25h-1.25zM363.9 124.2h1.25v1.25h-1.25zM361.5 118.0h1.25v1.25h-1.25zM349.6 122.5h1.25v1.25h-1.25zM362.5 131.9h1.25v1.25h-1.25zM371.7 128.1h1.25v1.25h-1.25zM362.2 126.8h1.25v1.25h-1.25zM361.7 122.0h1.25v1.25h-1.25zM379.5 127.6h1.25v1.25h-1.25zM359.5 131.8h1.25v1.25h-1.25zM352.8 136.0h1.25v1.25h-1.25zM345.0 132.0h1.25v1.25h-1.25zM357.7 135.7h1.25v1.25h-1.25zM353.4 119.6h1.25v1.25h-1.25zM354.9 138.9h1.25v1.25h-1.25zM371.3 133.0h1.25v1.25h-1.25zM345.7 130.6h1.25v1.25h-1.25zM359.2 133.3h1.25v1.25h-1.25zM367.8 134.8h1.25v1.25h-1.25zM349.7 126.8h1.25v1.25h-1.25zM363.4 122.8h1.25v1.25h-1.25zM360.9 125.5h1.25v1.25h-1.25zM389.9 129.9h1.25v1.25h-1.25zM355.2 125.2h1.25v1.25h-1.25zM371.4 131.7h1.25v1.25h-1.25zM361.6 117.2h1.25v1.25h-1.25zM381.8 125.4h1.25v1.25h-1.25zM356.6 126.9h1.25v1.25h-1.25zM390.0 135.1h1.25v1.25h-1.25zM346.6 131.3h1.25v1.25h-1.25zM373.1 125.0h1.25v1.25h-1.25zM380.2 123.7h1.25v1.25h-1.25zM362.1 134.7h1.25v1.25h-1.25zM381.3 124.2h1.25v1.25h-1.25zM379.1 125.1h1.25v1.25h-1.25zM364.5 125.3h1.25v1.25h-1.25zM365.5 128.2h1.25v1.25h-1.25zM353.9 125.3h1.25v1.25h-1.25zM348.3 128.0h1.25v1.25h-1.25zM361.2 134.9h1.25v1.25h-1.25zM357.5 125.0h1.25v1.25h-1.25zM376.7 145.7h1.25v1.25h-1.25zM351.9 129.9h1.25v1.25h-1.25zM367.8 134.1h1.25v1.25h-1.25zM384.1 127.8h1.25v1.25h-1.25zM353.8 123.8h1.25v1.25h-1.25zM359.7 132.2h1.25v1.25h-1.25zM372.7 132.8h1.25v1.25h-1.25zM348.0 130.0h1.25v1.25h-1.25zM388.5 130.2h1.25v1.25h-1.25zM374.6 125.8h1.25v1.25h-1.25zM368.8 130.7h1.25v1.25h-1.25zM383.4 123.1h1.25v1.25h-1.25zM359.8 141.7h1.25v1.25h-1.25zM360.8 120.3h1.25v1.25h-1.25zM362.7 123.2h1.25v1.25h-1.25zM375.0 120.2h1.25v1.25h-1.25zM364.8 131.8h1.25v1.25h-1.25zM380.8 125.5h1.25v1.25h-1.25zM365.3 125.1h1.25v1.25h-1.25zM378.2 133.3h1.25v1.25h-1.25zM345.4 125.1h1.25v1.25h-1.25zM375.8 112.4h1.25v1.25h-1.25zM375.5 135.1h1.25v1.25h-1.25zM353.2 127.9h1.25v1.25h-1.25zM352.1 134.0h1.25v1.25h-1.25zM356.1 135.7h1.25v1.25h-1.25zM374.0 122.4h1.25v1.25h-1.25zM352.0 121.6h1.25v1.25h-1.25zM367.8 131.2h1.25v1.25h-1.25zM350.3 120.8h1.25v1.25h-1.25zM366.5 130.6h1.25v1.25h-1.25zM358.4 130.3h1.25v1.25h-1.25zM375.6 136.4h1.25v1.25h-1.25zM380.3 130.5h1.25v1.25h-1.25zM370.6 126.9h1.25v1.25h-1.25zM382.7 121.4h1.25v1.25h-1.25zM370.4 127.9h1.25v1.25h-1.25zM364.9 134.0h1.25v1.25h-1.25zM389.2 124.1h1.25v1.25h-1.25zM349.0 136.2h1.25v1.25h-1.25zM372.5 113.8h1.25v1.25h-1.25zM389.3 125.0h1.25v1.25h-1.25zM377.9 129.4h1.25v1.25h-1.25zM352.3 116.0h1.25v1.25h-1.25zM382.6 129.2h1.25v1.25h-1.25zM385.5 128.2h1.25v1.25h-1.25zM364.5 123.4h1.25v1.25h-1.25zM368.8 136.4h1.25v1.25h-1.25zM384.2 124.2h1.25v1.25h-1.25zM359.8 115.3h1.25v1.25h-1.25zM345.3 129.3h1.25v1.25h-1.25zM417.5 124.6h1.25v1.25h-1.25zM397.5 128.1h1.25v1.25h-1.25zM454.1 121.6h1.25v1.25h-1.25zM433.3 137.5h1.25v1.25h-1.25zM430.6 122.4h1.25v1.25h-1.25zM422.2 126.3h1.25v1.25h-1.25zM440.7 123.9h1.25v1.25h-1.25zM427.8 120.4h1.25v1.25h-1.25zM424.5 118.8h1.25v1.25h-1.25zM399.1 121.6h1.25v1.25h-1.25zM426.5 128.1h1.25v1.25h-1.25zM420.6 130.4h1.25v1.25h-1.25zM431.8 123.9h1.25v1.25h-1.25zM412.6 128.2h1.25v1.25h-1.25zM422.7 126.7h1.25v1.25h-1.25zM406.0 125.2h1.25v1.25h-1.25zM419.0 120.9h1.25v1.25h-1.25zM413.2 118.4h1.25v1.25h-1.25zM412.5 114.7h1.25v1.25h-1.25zM399.1 127.8h1.25v1.25h-1.25zM394.6 132.7h1.25v1.25h-1.25zM418.0 133.0h1.25v1.25h-1.25zM400.0 126.0h1.25v1.25h-1.25zM390.7 125.2h1.25v1.25h-1.25zM414.4 131.5h1.25v1.25h-1.25zM417.6 118.7h1.25v1.25h-1.25zM427.8 118.7h1.25v1.25h-1.25zM419.9 123.9h1.25v1.25h-1.25zM431.7 133.1h1.25v1.25h-1.25zM394.9 133.3h1.25v1.25h-1.25zM400.1 122.6h1.25v1.25h-1.25zM407.3 124.2h1.25v1.25h-1.25zM398.8 123.4h1.25v1.25h-1.25zM413.8 133.9h1.25v1.25h-1.25zM391.3 123.8h1.25v1.25h-1.25zM435.7 115.9h1.25v1.25h-1.25zM413.8 124.0h1.25v1.25h-1.25zM424.3 130.4h1.25v1.25h-1.25zM415.3 116.8h1.25v1.25h-1.25zM406.6 129.1h1.25v1.25h-1.25zM420.4 126.4h1.25v1.25h-1.25zM414.4 127.0h1.25v1.25h-1.25zM428.2 129.7h1.25v1.25h-1.25zM401.3 122.4h1.25v1.25h-1.25zM411.7 124.2h1.25v1.25h-1.25zM403.5 132.8h1.25v1.25h-1.25zM421.8 125.2h1.25v1.25h-1.25zM400.2 120.9h1.25v1.25h-1.25zM420.7 126.4h1.25v1.25h-1.25zM433.6 126.2h1.25v1.25h-1.25zM408.4 125.0h1.25v1.25h-1.25zM438.1 127.7h1.25v1.25h-1.25zM440.0 124.4h1.25v1.25h-1.25zM409.4 125.3h1.25v1.25h-1.25zM398.3 138.9h1.25v1.25h-1.25zM429.1 134.7h1.25v1.25h-1.25zM410.5 121.4h1.25v1.25h-1.25zM401.2 138.9h1.25v1.25h-1.25zM406.5 131.3h1.25v1.25h-1.25zM466.8 117.6h1.25v1.25h-1.25zM427.0 125.9h1.25v1.25h-1.25zM396.2 129.9h1.25v1.25h-1.25zM399.4 116.9h1.25v1.25h-1.25zM418.9 127.5h1.25v1.25h-1.25zM404.6 127.9h1.25v1.25h-1.25zM405.1 120.0h1.25v1.25h-1.25zM424.7 119.7h1.25v1.25h-1.25zM414.1 125.5h1.25v1.25h-1.25zM393.5 129.7h1.25v1.25h-1.25zM434.0 127.7h1.25v1.25h-1.25zM407.6 132.9h1.25v1.25h-1.25zM408.5 121.0h1.25v1.25h-1.25zM432.3 121.2h1.25v1.25h-1.25zM409.4 124.3h1.25v1.25h-1.25zM418.5 109.7h1.25v1.25h-1.25zM407.6 126.5h1.25v1.25h-1.25zM392.4 132.0h1.25v1.25h-1.25zM428.3 124.7h1.25v1.25h-1.25zM402.5 120.0h1.25v1.25h-1.25zM413.0 140.5h1.25v1.25h-1.25zM436.1 119.7h1.25v1.25h-1.25zM408.5 119.8h1.25v1.25h-1.25zM436.9 125.2h1.25v1.25h-1.25zM421.2 113.0h1.25v1.25h-1.25zM403.6 121.0h1.25v1.25h-1.25zM391.4 129.1h1.25v1.25h-1.25zM391.3 124.3h1.25v1.25h-1.25zM400.2 124.2h1.25v1.25h-1.25zM412.9 125.3h1.25v1.25h-1.25zM426.0 131.0h1.25v1.25h-1.25zM426.8 124.2h1.25v1.25h-1.25zM422.6 113.9h1.25v1.25h-1.25zM416.4 117.7h1.25v1.25h-1.25zM394.9 117.5h1.25v1.25h-1.25zM421.7 122.8h1.25v1.25h-1.25zM412.0 124.0h1.25v1.25h-1.25zM415.9 120.3h1.25v1.25h-1.25zM402.4 128.4h1.25v1.25h-1.25zM412.0 128.9h1.25v1.25h-1.25zM395.5 134.4h1.25v1.25h-1.25zM406.7 127.1h1.25v1.25h-1.25zM429.1 129.4h1.25v1.25h-1.25zM458.5 108.5h1.25v1.25h-1.25zM425.7 130.1h1.25v1.25h-1.25zM442.8 129.6h1.25v1.25h-1.25zM414.7 115.3h1.25v1.25h-1.25zM401.8 120.5h1.25v1.25h-1.25zM399.0 136.7h1.25v1.25h-1.25zM419.1 124.3h1.25v1.25h-1.25zM411.1 132.6h1.25v1.25h-1.25zM398.8 134.7h1.25v1.25h-1.25zM438.0 132.3h1.25v1.25h-1.25zM422.5 123.8h1.25v1.25h-1.25zM407.9 133.8h1.25v1.25h-1.25zM431.6 130.0h1.25v1.25h-1.25zM446.7 119.4h1.25v1.25h-1.25zM401.0 127.0h1.25v1.25h-1.25zM421.4 115.3h1.25v1.25h-1.25zM402.1 131.4h1.25v1.25h-1.25zM411.1 129.1h1.25v1.25h-1.25zM427.0 120.9h1.25v1.25h-1.25zM419.5 124.9h1.25v1.25h-1.25zM399.7 123.4h1.25v1.25h-1.25zM395.0 120.9h1.25v1.25h-1.25zM427.2 118.1h1.25v1.25h-1.25zM427.2 128.4h1.25v1.25h-1.25zM391.1 121.8h1.25v1.25h-1.25zM407.0 113.8h1.25v1.25h-1.25zM390.6 125.7h1.25v1.25h-1.25zM436.0 126.7h1.25v1.25h-1.25zM421.2 125.3h1.25v1.25h-1.25zM412.3 126.6h1.25v1.25h-1.25zM437.8 121.3h1.25v1.25h-1.25zM452.6 117.7h1.25v1.25h-1.25zM421.3 117.8h1.25v1.25h-1.25zM420.6 138.1h1.25v1.25h-1.25zM413.9 130.4h1.25v1.25h-1.25zM407.8 123.0h1.25v1.25h-1.25zM424.2 117.1h1.25v1.25h-1.25zM416.4 116.2h1.25v1.25h-1.25zM404.7 132.3h1.25v1.25h-1.25zM437.8 122.0h1.25v1.25h-1.25zM430.8 123.2h1.25v1.25h-1.25zM419.2 116.2h1.25v1.25h-1.25zM410.5 131.0h1.25v1.25h-1.25zM404.3 119.7h1.25v1.25h-1.25zM401.3 120.9h1.25v1.25h-1.25zM429.1 124.3h1.25v1.25h-1.25zM405.0 124.2h1.25v1.25h-1.25zM438.8 124.2h1.25v1.25h-1.25zM432.5 135.6h1.25v1.25h-1.25zM393.9 127.9h1.25v1.25h-1.25zM408.4 126.3h1.25v1.25h-1.25zM438.4 120.0h1.25v1.25h-1.25zM400.8 135.9h1.25v1.25h-1.25zM411.8 134.1h1.25v1.25h-1.25zM404.5 120.9h1.25v1.25h-1.25zM433.6 125.0h1.25v1.25h-1.25zM394.6 121.1h1.25v1.25h-1.25zM408.8 121.5h1.25v1.25h-1.25zM449.4 135.3h1.25v1.25h-1.25zM415.6 120.3h1.25v1.25h-1.25zM417.4 126.2h1.25v1.25h-1.25zM414.0 132.1h1.25v1.25h-1.25zM395.0 121.3h1.25v1.25h-1.25zM425.1 129.3h1.25v1.25h-1.25zM428.2 128.6h1.25v1.25h-1.25zM446.0 113.8h1.25v1.25h-1.25zM402.5 122.9h1.25v1.25h-1.25zM448.9 122.8h1.25v1.25h-1.25zM406.9 129.7h1.25v1.25h-1.25zM423.4 131.1h1.25v1.25h-1.25zM430.7 130.6h1.25v1.25h-1.25zM430.0 145.3h1.25v1.25h-1.25zM410.4 134.9h1.25v1.25h-1.25zM422.0 117.8h1.25v1.25h-1.25zM418.0 128.5h1.25v1.25h-1.25zM421.0 125.7h1.25v1.25h-1.25zM428.4 127.1h1.25v1.25h-1.25zM424.7 117.4h1.25v1.25h-1.25zM400.9 124.9h1.25v1.25h-1.25zM400.4 128.9h1.25v1.25h-1.25zM404.6 134.4h1.25v1.25h-1.25zM431.8 123.8h1.25v1.25h-1.25zM412.9 142.5h1.25v1.25h-1.25zM405.5 125.4h1.25v1.25h-1.25zM424.0 130.5h1.25v1.25h-1.25zM433.9 127.7h1.25v1.25h-1.25zM435.3 119.2h1.25v1.25h-1.25zM407.7 141.0h1.25v1.25h-1.25zM404.8 131.1h1.25v1.25h-1.25zM396.4 130.1h1.25v1.25h-1.25zM395.8 117.1h1.25v1.25h-1.25zM412.5 119.2h1.25v1.25h-1.25zM399.9 117.2h1.25v1.25h-1.25zM448.1 126.7h1.25v1.25h-1.25zM426.2 126.4h1.25v1.25h-1.25zM423.7 125.4h1.25v1.25h-1.25zM433.1 135.9h1.25v1.25h-1.25zM426.6 121.7h1.25v1.25h-1.25zM420.1 129.4h1.25v1.25h-1.25zM415.1 127.5h1.25v1.25h-1.25zM396.4 121.8h1.25v1.25h-1.25zM429.0 126.2h1.25v1.25h-1.25zM395.8 116.6h1.25v1.25h-1.25zM423.7 127.7h1.25v1.25h-1.25zM423.9 123.9h1.25v1.25h-1.25zM425.8 125.0h1.25v1.25h-1.25zM428.6 124.1h1.25v1.25h-1.25zM393.7 126.7h1.25v1.25h-1.25zM394.2 129.6h1.25v1.25h-1.25zM419.2 122.0h1.25v1.25h-1.25zM391.9 131.5h1.25v1.25h-1.25zM401.0 124.2h1.25v1.25h-1.25zM413.5 136.7h1.25v1.25h-1.25zM396.1 130.8h1.25v1.25h-1.25zM422.5 123.1h1.25v1.25h-1.25zM404.6 129.3h1.25v1.25h-1.25zM411.3 113.9h1.25v1.25h-1.25zM430.4 120.1h1.25v1.25h-1.25zM427.8 129.4h1.25v1.25h-1.25zM401.7 120.6h1.25v1.25h-1.25zM397.3 122.0h1.25v1.25h-1.25zM433.3 133.1h1.25v1.25h-1.25zM429.1 125.9h1.25v1.25h-1.25zM395.9 133.7h1.25v1.25h-1.25zM443.1 134.8h1.25v1.25h-1.25zM412.8 128.4h1.25v1.25h-1.25zM430.0 119.8h1.25v1.25h-1.25zM456.3 143.4h1.25v1.25h-1.25zM430.3 124.4h1.25v1.25h-1.25zM428.2 143.8h1.25v1.25h-1.25zM427.2 116.3h1.25v1.25h-1.25zM406.7 124.6h1.25v1.25h-1.25zM410.8 130.7h1.25v1.25h-1.25zM399.1 123.4h1.25v1.25h-1.25zM432.8 136.8h1.25v1.25h-1.25zM406.8 134.1h1.25v1.25h-1.25zM458.8 122.3h1.25v1.25h-1.25zM406.4 124.8h1.25v1.25h-1.25zM415.8 125.2h1.25v1.25h-1.25zM433.0 131.9h1.25v1.25h-1.25zM398.0 123.6h1.25v1.25h-1.25zM441.5 133.3h1.25v1.25h-1.25zM404.2 128.5h1.25v1.25h-1.25zM409.8 118.4h1.25v1.25h-1.25zM392.9 127.8h1.25v1.25h-1.25zM405.5 123.9h1.25v1.25h-1.25zM424.3 140.1h1.25v1.25h-1.25zM413.8 128.6h1.25v1.25h-1.25zM419.4 127.1h1.25v1.25h-1.25zM407.0 116.1h1.25v1.25h-1.25zM393.5 132.6h1.25v1.25h-1.25zM418.8 126.4h1.25v1.25h-1.25zM392.1 124.8h1.25v1.25h-1.25zM417.6 128.0h1.25v1.25h-1.25zM398.6 119.7h1.25v1.25h-1.25zM425.8 136.6h1.25v1.25h-1.25zM425.4 123.7h1.25v1.25h-1.25zM418.8 133.3h1.25v1.25h-1.25zM432.6 121.5h1.25v1.25h-1.25zM413.6 128.6h1.25v1.25h-1.25zM400.5 129.0h1.25v1.25h-1.25zM391.1 139.1h1.25v1.25h-1.25zM421.6 122.2h1.25v1.25h-1.25zM400.6 128.3h1.25v1.25h-1.25zM405.7 132.0h1.25v1.25h-1.25zM415.3 119.1h1.25v1.25h-1.25zM433.2 144.1h1.25v1.25h-1.25zM428.5 118.6h1.25v1.25h-1.25zM423.8 125.2h1.25v1.25h-1.25zM399.6 124.9h1.25v1.25h-1.25zM411.7 134.8h1.25v1.25h-1.25zM423.9 125.2h1.25v1.25h-1.25zM401.8 119.5h1.25v1.25h-1.25zM423.6 131.3h1.25v1.25h-1.25zM419.5 132.0h1.25v1.25h-1.25zM413.7 135.3h1.25v1.25h-1.25zM404.0 132.8h1.25v1.25h-1.25zM394.7 132.8h1.25v1.25h-1.25zM398.0 118.1h1.25v1.25h-1.25zM395.6 126.7h1.25v1.25h-1.25zM401.4 130.4h1.25v1.25h-1.25zM402.2 115.2h1.25v1.25h-1.25zM423.0 137.0h1.25v1.25h-1.25zM414.8 127.2h1.25v1.25h-1.25zM433.9 110.8h1.25v1.25h-1.25zM404.4 124.5h1.25v1.25h-1.25zM434.0 120.1h1.25v1.25h-1.25zM403.9 112.8h1.25v1.25h-1.25zM399.7 125.5h1.25v1.25h-1.25zM406.4 123.7h1.25v1.25h-1.25zM415.5 123.9h1.25v1.25h-1.25zM403.7 137.8h1.25v1.25h-1.25zM405.4 128.5h1.25v1.25h-1.25zM447.3 133.6h1.25v1.25h-1.25zM396.4 129.5h1.25v1.25h-1.25zM441.8 114.6h1.25v1.25h-1.25zM434.0 118.1h1.25v1.25h-1.25zM400.9 138.8h1.25v1.25h-1.25zM412.1 129.4h1.25v1.25h-1.25zM398.9 131.5h1.25v1.25h-1.25zM435.5 131.6h1.25v1.25h-1.25zM392.4 127.2h1.25v1.25h-1.25zM413.4 123.5h1.25v1.25h-1.25zM424.9 119.2h1.25v1.25h-1.25zM396.0 121.5h1.25v1.25h-1.25zM423.6 141.6h1.25v1.25h-1.25zM407.8 123.9h1.25v1.25h-1.25zM437.4 113.3h1.25v1.25h-1.25zM414.1 129.6h1.25v1.25h-1.25zM434.8 120.2h1.25v1.25h-1.25zM416.5 135.9h1.25v1.25h-1.25zM432.0 117.6h1.25v1.25h-1.25zM404.3 119.9h1.25v1.25h-1.25zM408.3 126.7h1.25v1.25h-1.25zM437.9 128.6h1.25v1.25h-1.25zM410.9 124.6h1.25v1.25h-1.25zM391.7 131.8h1.25v1.25h-1.25zM394.0 120.5h1.25v1.25h-1.25zM432.6 134.3h1.25v1.25h-1.25zM460.9 117.8h1.25v1.25h-1.25zM416.7 121.7h1.25v1.25h-1.25zM430.5 134.8h1.25v1.25h-1.25zM402.5 123.4h1.25v1.25h-1.25zM430.4 126.9h1.25v1.25h-1.25zM433.5 124.8h1.25v1.25h-1.25zM399.6 118.3h1.25v1.25h-1.25zM415.7 115.6h1.25v1.25h-1.25zM408.4 126.2h1.25v1.25h-1.25zM393.0 126.9h1.25v1.25h-1.25zM434.7 114.7h1.25v1.25h-1.25zM392.4 130.3h1.25v1.25h-1.25zM411.9 130.4h1.25v1.25h-1.25zM425.2 126.5h1.25v1.25h-1.25zM428.4 131.2h1.25v1.25h-1.25zM410.4 124.2h1.25v1.25h-1.25zM415.2 120.7h1.25v1.25h-1.25zM433.3 131.7h1.25v1.25h-1.25zM391.3 129.4h1.25v1.25h-1.25zM408.6 121.7h1.25v1.25h-1.25zM430.3 140.1h1.25v1.25h-1.25zM422.1 125.4h1.25v1.25h-1.25zM403.6 127.3h1.25v1.25h-1.25zM416.3 131.1h1.25v1.25h-1.25zM397.8 133.5h1.25v1.25h-1.25zM432.8 116.6h1.25v1.25h-1.25zM399.6 118.5h1.25v1.25h-1.25zM418.6 120.2h1.25v1.25h-1.25zM412.9 140.3h1.25v1.25h-1.25zM418.9 132.3h1.25v1.25h-1.25zM411.9 126.3h1.25v1.25h-1.25zM409.0 135.2h1.25v1.25h-1.25zM409.2 132.4h1.25v1.25h-1.25zM409.0 129.0h1.25v1.25h-1.25zM432.5 125.7h1.25v1.25h-1.25zM407.6 126.1h1.25v1.25h-1.25zM416.1 129.9h1.25v1.25h-1.25zM428.3 123.1h1.25v1.25h-1.25zM436.7 132.3h1.25v1.25h-1.25zM429.1 125.5h1.25v1.25h-1.25zM401.0 127.0h1.25v1.25h-1.25zM410.9 116.6h1.25v1.25h-1.25zM400.7 122.8h1.25v1.25h-1.25zM395.5 139.1h1.25v1.25h-1.25zM433.1 128.3h1.25v1.25h-1.25zM393.2 133.8h1.25v1.25h-1.25zM393.5 123.2h1.25v1.25h-1.25zM429.1 135.7h1.25v1.25h-1.25zM442.0 119.7h1.25v1.25h-1.25zM401.4 121.6h1.25v1.25h-1.25zM445.1 123.3h1.25v1.25h-1.25zM415.3 123.4h1.25v1.25h-1.25zM409.6 125.1h1.25v1.25h-1.25zM404.9 130.5h1.25v1.25h-1.25zM459.9 130.9h1.25v1.25h-1.25zM408.3 118.8h1.25v1.25h-1.25zM418.1 127.6h1.25v1.25h-1.25zM414.8 125.3h1.25v1.25h-1.25zM403.8 137.0h1.25v1.25h-1.25zM401.6 136.2h1.25v1.25h-1.25zM402.5 125.9h1.25v1.25h-1.25zM409.5 130.4h1.25v1.25h-1.25zM435.3 125.5h1.25v1.25h-1.25zM404.9 123.5h1.25v1.25h-1.25zM423.4 132.8h1.25v1.25h-1.25zM424.0 122.5h1.25v1.25h-1.25zM438.5 122.3h1.25v1.25h-1.25zM440.2 129.1h1.25v1.25h-1.25zM407.0 127.2h1.25v1.25h-1.25zM437.6 123.2h1.25v1.25h-1.25zM410.5 131.1h1.25v1.25h-1.25zM405.1 127.4h1.25v1.25h-1.25zM414.0 116.4h1.25v1.25h-1.25zM393.6 126.5h1.25v1.25h-1.25zM399.7 123.1h1.25v1.25h-1.25zM401.3 134.1h1.25v1.25h-1.25zM402.7 133.3h1.25v1.25h-1.25zM420.7 117.2h1.25v1.25h-1.25zM442.9 125.2h1.25v1.25h-1.25zM401.7 125.4h1.25v1.25h-1.25zM426.1 132.6h1.25v1.25h-1.25zM433.0 130.3h1.25v1.25h-1.25zM405.3 109.0h1.25v1.25h-1.25zM427.2 121.4h1.25v1.25h-1.25zM418.8 135.2h1.25v1.25h-1.25zM394.9 116.0h1.25v1.25h-1.25zM425.4 117.4h1.25v1.25h-1.25zM402.8 128.0h1.25v1.25h-1.25zM394.3 124.8h1.25v1.25h-1.25zM405.7 126.9h1.25v1.25h-1.25zM409.4 122.2h1.25v1.25h-1.25zM417.8 128.8h1.25v1.25h-1.25zM412.6 121.0h1.25v1.25h-1.25zM398.1 114.7h1.25v1.25h-1.25zM412.8 134.9h1.25v1.25h-1.25zM429.2 125.5h1.25v1.25h-1.25zM392.4 126.1h1.25v1.25h-1.25zM396.8 127.8h1.25v1.25h-1.25zM424.3 122.9h1.25v1.25h-1.25zM420.3 122.8h1.25v1.25h-1.25zM420.2 124.9h1.25v1.25h-1.25zM419.0 133.1h1.25v1.25h-1.25zM396.4 123.3h1.25v1.25h-1.25zM407.2 121.0h1.25v1.25h-1.25zM414.4 136.3h1.25v1.25h-1.25zM404.8 120.0h1.25v1.25h-1.25zM451.0 116.9h1.25v1.25h-1.25zM424.6 132.0h1.25v1.25h-1.25zM395.7 126.8h1.25v1.25h-1.25zM404.5 123.7h1.25v1.25h-1.25zM413.8 118.5h1.25v1.25h-1.25zM424.9 120.7h1.25v1.25h-1.25zM437.0 120.0h1.25v1.25h-1.25zM406.6 117.9h1.25v1.25h-1.25zM397.2 123.1h1.25v1.25h-1.25zM405.2 133.0h1.25v1.25h-1.25zM412.7 127.1h1.25v1.25h-1.25zM420.5 140.2h1.25v1.25h-1.25zM427.8 126.2h1.25v1.25h-1.25zM402.4 135.0h1.25v1.25h-1.25zM447.7 127.6h1.25v1.25h-1.25zM432.2 124.1h1.25v1.25h-1.25zM425.5 134.9h1.25v1.25h-1.25zM408.3 128.2h1.25v1.25h-1.25zM394.5 124.0h1.25v1.25h-1.25zM419.6 128.2h1.25v1.25h-1.25zM425.4 132.0h1.25v1.25h-1.25zM391.0 140.8h1.25v1.25h-1.25zM424.2 122.1h1.25v1.25h-1.25zM397.3 120.1h1.25v1.25h-1.25zM429.5 126.8h1.25v1.25h-1.25zM402.6 133.3h1.25v1.25h-1.25zM446.9 129.1h1.25v1.25h-1.25zM411.6 131.7h1.25v1.25h-1.25zM406.3 119.4h1.25v1.25h-1.25zM414.9 133.4h1.25v1.25h-1.25zM413.4 125.9h1.25v1.25h-1.25zM444.6 126.9h1.25v1.25h-1.25zM427.3 123.2h1.25v1.25h-1.25zM426.1 121.9h1.25v1.25h-1.25zM433.5 127.9h1.25v1.25h-1.25zM393.9 128.3h1.25v1.25h-1.25zM404.5 127.2h1.25v1.25h-1.25zM429.8 119.6h1.25v1.25h-1.25zM414.7 132.0h1.25v1.25h-1.25zM405.5 124.8h1.25v1.25h-1.25zM460.8 128.5h1.25v1.25h-1.25zM395.9 138.8h1.25v1.25h-1.25zM396.0 143.6h1.25v1.25h-1.25zM432.0 117.8h1.25v1.25h-1.25zM400.2 121.5h1.25v1.25h-1.25zM413.4 125.9h1.25v1.25h-1.25zM419.7 134.9h1.25v1.25h-1.25zM422.3 130.0h1.25v1.25h-1.25zM421.4 133.9h1.25v1.25h-1.25zM392.3 125.4h1.25v1.25h-1.25zM417.2 121.6h1.25v1.25h-1.25zM427.4 114.8h1.25v1.25h-1.25zM411.7 124.4h1.25v1.25h-1.25zM433.1 122.1h1.25v1.25h-1.25zM390.8 130.4h1.25v1.25h-1.25zM395.4 121.9h1.25v1.25h-1.25zM405.2 121.8h1.25v1.25h-1.25zM398.2 129.9h1.25v1.25h-1.25zM441.4 125.6h1.25v1.25h-1.25zM422.2 128.8h1.25v1.25h-1.25zM457.6 121.7h1.25v1.25h-1.25zM440.4 122.9h1.25v1.25h-1.25zM436.3 111.1h1.25v1.25h-1.25zM414.8 124.2h1.25v1.25h-1.25zM415.5 112.2h1.25v1.25h-1.25zM401.7 133.1h1.25v1.25h-1.25zM391.4 140.3h1.25v1.25h-1.25zM406.4 118.8h1.25v1.25h-1.25zM400.8 129.2h1.25v1.25h-1.25zM430.3 135.9h1.25v1.25h-1.25zM420.6 128.8h1.25v1.25h-1.25zM433.7 123.7h1.25v1.25h-1.25zM410.4 121.9h1.25v1.25h-1.25zM440.3 143.3h1.25v1.25h-1.25zM413.0 116.2h1.25v1.25h-1.25zM427.0 127.9h1.25v1.25h-1.25zM414.7 124.2h1.25v1.25h-1.25zM391.6 130.2h1.25v1.25h-1.25zM415.4 117.8h1.25v1.25h-1.25zM398.6 115.0h1.25v1.25h-1.25zM416.1 127.2h1.25v1.25h-1.25zM421.4 126.5h1.25v1.25h-1.25zM401.6 122.1h1.25v1.25h-1.25zM435.4 138.8h1.25v1.25h-1.25zM423.1 131.8h1.25v1.25h-1.25zM409.2 130.3h1.25v1.25h-1.25zM416.0 122.3h1.25v1.25h-1.25zM420.6 127.2h1.25v1.25h-1.25zM400.2 144.4h1.25v1.25h-1.25zM404.2 119.6h1.25v1.25h-1.25zM397.6 135.0h1.25v1.25h-1.25zM425.0 120.9h1.25v1.25h-1.25zM395.0 131.7h1.25v1.25h-1.25zM434.7 131.8h1.25v1.25h-1.25zM419.5 129.1h1.25v1.25h-1.25zM423.3 124.2h1.25v1.25h-1.25zM411.0 130.2h1.25v1.25h-1.25zM398.6 134.9h1.25v1.25h-1.25zM414.3 109.8h1.25v1.25h-1.25zM404.8 139.5h1.25v1.25h-1.25zM417.8 127.1h1.25v1.25h-1.25zM433.7 131.6h1.25v1.25h-1.25zM431.1 135.4h1.25v1.25h-1.25zM399.4 123.0h1.25v1.25h-1.25zM433.1 121.6h1.25v1.25h-1.25zM422.7 124.5h1.25v1.25h-1.25zM430.7 126.9h1.25v1.25h-1.25zM392.2 127.0h1.25v1.25h-1.25zM391.7 135.8h1.25v1.25h-1.25zM427.5 128.2h1.25v1.25h-1.25zM432.0 132.4h1.25v1.25h-1.25zM401.9 119.6h1.25v1.25h-1.25zM390.7 126.7h1.25v1.25h-1.25zM439.7 121.0h1.25v1.25h-1.25zM403.5 135.9h1.25v1.25h-1.25zM424.2 134.2h1.25v1.25h-1.25zM413.2 132.9h1.25v1.25h-1.25zM455.5 123.4h1.25v1.25h-1.25zM445.2 127.8h1.25v1.25h-1.25zM426.5 130.1h1.25v1.25h-1.25zM417.8 128.7h1.25v1.25h-1.25zM440.3 121.9h1.25v1.25h-1.25zM405.3 128.1h1.25v1.25h-1.25zM453.9 124.7h1.25v1.25h-1.25zM390.8 129.5h1.25v1.25h-1.25zM425.5 125.1h1.25v1.25h-1.25zM424.8 125.9h1.25v1.25h-1.25zM426.9 126.0h1.25v1.25h-1.25zM412.9 125.5h1.25v1.25h-1.25zM404.6 113.9h1.25v1.25h-1.25zM433.0 136.4h1.25v1.25h-1.25zM415.7 121.0h1.25v1.25h-1.25zM446.6 111.6h1.25v1.25h-1.25zM423.0 134.1h1.25v1.25h-1.25zM404.6 137.3h1.25v1.25h-1.25zM409.4 110.3h1.25v1.25h-1.25zM433.6 136.9h1.25v1.25h-1.25zM423.7 126.5h1.25v1.25h-1.25zM408.4 127.1h1.25v1.25h-1.25zM436.9 136.9h1.25v1.25h-1.25zM422.4 132.7h1.25v1.25h-1.25zM393.9 129.7h1.25v1.25h-1.25zM404.0 125.2h1.25v1.25h-1.25zM422.2 125.3h1.25v1.25h-1.25zM399.5 128.8h1.25v1.25h-1.25zM400.4 138.7h1.25v1.25h-1.25zM407.6 127.1h1.25v1.25h-1.25zM417.9 123.0h1.25v1.25h-1.25zM435.4 127.4h1.25v1.25h-1.25zM403.6 118.9h1.25v1.25h-1.25zM411.4 119.5h1.25v1.25h-1.25zM415.8 131.3h1.25v1.25h-1.25zM406.4 108.4h1.25v1.25h-1.25zM396.0 126.6h1.25v1.25h-1.25zM400.2 128.6h1.25v1.25h-1.25zM411.9 129.6h1.25v1.25h-1.25zM401.8 130.0h1.25v1.25h-1.25zM401.8 123.7h1.25v1.25h-1.25zM404.6 132.0h1.25v1.25h-1.25zM391.4 123.5h1.25v1.25h-1.25zM422.5 127.2h1.25v1.25h-1.25zM429.5 126.7h1.25v1.25h-1.25zM399.4 120.8h1.25v1.25h-1.25zM412.2 139.2h1.25v1.25h-1.25zM395.6 130.5h1.25v1.25h-1.25zM417.7 118.5h1.25v1.25h-1.25zM406.9 125.6h1.25v1.25h-1.25zM427.9 126.2h1.25v1.25h-1.25zM434.4 126.2h1.25v1.25h-1.25zM399.2 130.7h1.25v1.25h-1.25zM425.9 123.5h1.25v1.25h-1.25zM436.4 132.3h1.25v1.25h-1.25zM419.6 126.0h1.25v1.25h-1.25zM425.0 120.3h1.25v1.25h-1.25zM396.4 128.3h1.25v1.25h-1.25zM413.2 117.5h1.25v1.25h-1.25zM423.1 124.7h1.25v1.25h-1.25zM401.0 118.9h1.25v1.25h-1.25zM393.9 134.7h1.25v1.25h-1.25zM394.4 115.7h1.25v1.25h-1.25zM416.1 128.2h1.25v1.25h-1.25zM415.0 127.0h1.25v1.25h-1.25zM394.0 126.0h1.25v1.25h-1.25zM413.4 131.5h1.25v1.25h-1.25zM431.4 132.1h1.25v1.25h-1.25zM426.8 122.5h1.25v1.25h-1.25zM446.4 136.8h1.25v1.25h-1.25zM432.0 129.2h1.25v1.25h-1.25zM446.1 124.9h1.25v1.25h-1.25zM400.6 118.4h1.25v1.25h-1.25zM400.1 128.6h1.25v1.25h-1.25zM421.1 134.0h1.25v1.25h-1.25zM433.3 115.0h1.25v1.25h-1.25zM419.5 126.8h1.25v1.25h-1.25zM431.2 132.5h1.25v1.25h-1.25zM410.9 124.7h1.25v1.25h-1.25zM403.9 120.8h1.25v1.25h-1.25zM398.0 122.1h1.25v1.25h-1.25zM405.6 134.7h1.25v1.25h-1.25zM396.3 126.7h1.25v1.25h-1.25zM414.7 121.5h1.25v1.25h-1.25zM404.4 127.7h1.25v1.25h-1.25zM411.9 126.5h1.25v1.25h-1.25zM399.5 127.3h1.25v1.25h-1.25zM407.8 139.4h1.25v1.25h-1.25zM415.4 115.5h1.25v1.25h-1.25zM442.6 136.9h1.25v1.25h-1.25zM392.1 133.6h1.25v1.25h-1.25zM440.4 128.8h1.25v1.25h-1.25zM406.7 127.9h1.25v1.25h-1.25zM402.8 121.2h1.25v1.25h-1.25zM429.2 129.8h1.25v1.25h-1.25zM402.3 145.0h1.25v1.25h-1.25zM399.7 125.2h1.25v1.25h-1.25zM393.8 136.5h1.25v1.25h-1.25zM424.8 120.9h1.25v1.25h-1.25zM429.0 134.2h1.25v1.25h-1.25zM429.1 117.3h1.25v1.25h-1.25zM401.7 122.2h1.25v1.25h-1.25zM397.7 120.5h1.25v1.25h-1.25zM415.4 124.3h1.25v1.25h-1.25zM410.8 129.5h1.25v1.25h-1.25zM401.9 117.5h1.25v1.25h-1.25zM416.9 131.6h1.25v1.25h-1.25zM431.8 128.4h1.25v1.25h-1.25zM397.7 127.9h1.25v1.25h-1.25zM396.5 135.3h1.25v1.25h-1.25zM410.9 127.4h1.25v1.25h-1.25zM421.6 132.2h1.25v1.25h-1.25zM431.1 128.0h1.25v1.25h-1.25zM434.4 132.2h1.25v1.25h-1.25zM422.7 122.1h1.25v1.25h-1.25zM435.0 143.8h1.25v1.25h-1.25zM438.9 127.4h1.25v1.25h-1.25zM410.3 138.1h1.25v1.25h-1.25zM402.6 128.0h1.25v1.25h-1.25zM433.9 128.9h1.25v1.25h-1.25zM408.9 128.6h1.25v1.25h-1.25zM435.9 123.3h1.25v1.25h-1.25zM394.3 130.0h1.25v1.25h-1.25zM407.4 120.7h1.25v1.25h-1.25zM392.1 127.8h1.25v1.25h-1.25zM413.9 119.7h1.25v1.25h-1.25zM404.7 121.7h1.25v1.25h-1.25zM420.4 124.5h1.25v1.25h-1.25zM401.9 124.6h1.25v1.25h-1.25zM432.4 113.9h1.25v1.25h-1.25zM424.8 129.2h1.25v1.25h-1.25zM411.0 117.9h1.25v1.25h-1.25zM399.9 126.9h1.25v1.25h-1.25zM416.9 135.9h1.25v1.25h-1.25zM391.0 135.8h1.25v1.25h-1.25zM436.4 127.9h1.25v1.25h-1.25zM424.8 113.6h1.25v1.25h-1.25zM440.9 127.3h1.25v1.25h-1.25zM417.1 127.2h1.25v1.25h-1.25zM412.9 123.2h1.25v1.25h-1.25zM394.0 123.7h1.25v1.25h-1.25zM401.4 124.3h1.25v1.25h-1.25zM432.2 134.6h1.25v1.25h-1.25zM400.9 138.5h1.25v1.25h-1.25zM409.3 131.8h1.25v1.25h-1.25zM433.2 129.4h1.25v1.25h-1.25zM404.4 129.9h1.25v1.25h-1.25zM421.4 119.0h1.25v1.25h-1.25zM416.4 125.7h1.25v1.25h-1.25zM410.8 130.4h1.25v1.25h-1.25zM412.6 130.6h1.25v1.25h-1.25zM400.2 126.0h1.25v1.25h-1.25zM401.5 134.4h1.25v1.25h-1.25zM429.5 122.1h1.25v1.25h-1.25zM417.8 128.6h1.25v1.25h-1.25zM427.5 129.3h1.25v1.25h-1.25zM420.1 132.0h1.25v1.25h-1.25zM406.3 124.4h1.25v1.25h-1.25zM395.0 136.3h1.25v1.25h-1.25zM401.7 117.6h1.25v1.25h-1.25zM430.5 124.9h1.25v1.25h-1.25zM430.2 134.4h1.25v1.25h-1.25zM410.6 125.2h1.25v1.25h-1.25zM439.5 120.6h1.25v1.25h-1.25zM417.5 126.6h1.25v1.25h-1.25zM411.1 116.8h1.25v1.25h-1.25zM391.9 131.6h1.25v1.25h-1.25zM416.3 131.1h1.25v1.25h-1.25zM410.1 133.0h1.25v1.25h-1.25zM416.6 123.5h1.25v1.25h-1.25zM440.6 125.8h1.25v1.25h-1.25zM421.1 115.1h1.25v1.25h-1.25zM425.4 132.7h1.25v1.25h-1.25zM410.6 124.5h1.25v1.25h-1.25zM428.0 132.2h1.25v1.25h-1.25zM390.9 119.0h1.25v1.25h-1.25zM442.1 123.5h1.25v1.25h-1.25zM395.1 130.4h1.25v1.25h-1.25zM397.0 128.6h1.25v1.25h-1.25zM392.6 131.9h1.25v1.25h-1.25zM446.4 134.5h1.25v1.25h-1.25zM428.1 141.5h1.25v1.25h-1.25zM394.1 130.8h1.25v1.25h-1.25zM398.1 118.6h1.25v1.25h-1.25zM439.6 127.5h1.25v1.25h-1.25zM419.2 128.5h1.25v1.25h-1.25zM408.7 133.7h1.25v1.25h-1.25zM400.4 122.6h1.25v1.25h-1.25zM393.5 120.4h1.25v1.25h-1.25zM432.5 127.9h1.25v1.25h-1.25zM394.3 115.5h1.25v1.25h-1.25zM428.1 126.4h1.25v1.25h-1.25zM417.4 128.7h1.25v1.25h-1.25zM419.3 130.8h1.25v1.25h-1.25zM396.1 127.3h1.25v1.25h-1.25zM427.3 133.8h1.25v1.25h-1.25zM411.8 129.9h1.25v1.25h-1.25zM414.4 120.7h1.25v1.25h-1.25zM433.6 125.9h1.25v1.25h-1.25zM442.9 119.7h1.25v1.25h-1.25zM425.3 115.9h1.25v1.25h-1.25zM416.7 127.0h1.25v1.25h-1.25zM414.0 131.8h1.25v1.25h-1.25zM426.8 126.9h1.25v1.25h-1.25zM393.9 120.0h1.25v1.25h-1.25zM420.2 134.9h1.25v1.25h-1.25zM393.6 126.2h1.25v1.25h-1.25zM420.2 134.2h1.25v1.25h-1.25zM400.2 128.4h1.25v1.25h-1.25zM405.3 113.7h1.25v1.25h-1.25zM436.5 132.1h1.25v1.25h-1.25zM395.1 128.3h1.25v1.25h-1.25zM431.9 124.7h1.25v1.25h-1.25zM406.3 129.2h1.25v1.25h-1.25zM427.1 111.8h1.25v1.25h-1.25zM393.5 117.7h1.25v1.25h-1.25zM408.9 129.6h1.25v1.25h-1.25zM413.3 117.3h1.25v1.25h-1.25zM391.0 136.9h1.25v1.25h-1.25zM418.5 128.1h1.25v1.25h-1.25zM429.4 128.8h1.25v1.25h-1.25zM411.0 122.5h1.25v1.25h-1.25zM393.2 127.4h1.25v1.25h-1.25zM422.5 120.6h1.25v1.25h-1.25zM448.9 117.5h1.25v1.25h-1.25zM431.5 128.4h1.25v1.25h-1.25zM425.4 134.7h1.25v1.25h-1.25zM419.5 124.1h1.25v1.25h-1.25zM427.7 121.4h1.25v1.25h-1.25zM403.1 124.4h1.25v1.25h-1.25zM404.7 126.8h1.25v1.25h-1.25zM431.6 130.8h1.25v1.25h-1.25zM413.6 121.7h1.25v1.25h-1.25zM409.6 142.6h1.25v1.25h-1.25zM413.3 122.6h1.25v1.25h-1.25zM396.7 122.0h1.25v1.25h-1.25zM409.2 120.5h1.25v1.25h-1.25zM430.9 117.9h1.25v1.25h-1.25zM418.6 116.4h1.25v1.25h-1.25zM401.8 136.4h1.25v1.25h-1.25zM408.6 121.5h1.25v1.25h-1.25zM413.1 129.8h1.25v1.25h-1.25zM396.3 110.9h1.25v1.25h-1.25zM405.7 127.0h1.25v1.25h-1.25zM406.3 128.5h1.25v1.25h-1.25zM436.8 131.9h1.25v1.25h-1.25zM402.7 124.4h1.25v1.25h-1.25zM408.3 128.1h1.25v1.25h-1.25zM414.6 131.9h1.25v1.25h-1.25zM418.7 129.2h1.25v1.25h-1.25zM396.9 125.5h1.25v1.25h-1.25zM398.5 129.8h1.25v1.25h-1.25zM436.1 131.8h1.25v1.25h-1.25zM398.5 120.6h1.25v1.25h-1.25zM401.4 118.9h1.25v1.25h-1.25zM419.7 134.8h1.25v1.25h-1.25zM409.6 122.8h1.25v1.25h-1.25zM406.3 120.7h1.25v1.25h-1.25zM394.4 128.8h1.25v1.25h-1.25zM427.9 131.1h1.25v1.25h-1.25zM401.5 122.2h1.25v1.25h-1.25zM396.1 129.7h1.25v1.25h-1.25zM462.1 133.9h1.25v1.25h-1.25zM431.4 125.9h1.25v1.25h-1.25zM432.7 127.9h1.25v1.25h-1.25zM417.2 131.8h1.25v1.25h-1.25zM396.9 131.5h1.25v1.25h-1.25zM402.4 117.2h1.25v1.25h-1.25zM428.4 117.6h1.25v1.25h-1.25zM415.5 128.8h1.25v1.25h-1.25zM418.5 114.6h1.25v1.25h-1.25zM404.6 120.1h1.25v1.25h-1.25zM425.9 123.1h1.25v1.25h-1.25zM398.6 130.7h1.25v1.25h-1.25zM417.9 115.6h1.25v1.25h-1.25zM394.1 128.7h1.25v1.25h-1.25zM411.0 134.1h1.25v1.25h-1.25zM438.0 133.1h1.25v1.25h-1.25zM392.4 129.1h1.25v1.25h-1.25zM441.2 129.8h1.25v1.25h-1.25zM430.9 122.3h1.25v1.25h-1.25zM406.9 133.3h1.25v1.25h-1.25zM392.0 131.7h1.25v1.25h-1.25zM397.6 127.8h1.25v1.25h-1.25zM397.7 127.2h1.25v1.25h-1.25zM417.0 117.1h1.25v1.25h-1.25zM391.1 127.2h1.25v1.25h-1.25zM439.5 125.5h1.25v1.25h-1.25zM411.1 128.2h1.25v1.25h-1.25zM408.1 119.0h1.25v1.25h-1.25zM420.9 122.8h1.25v1.25h-1.25zM420.4 134.3h1.25v1.25h-1.25zM436.8 133.6h1.25v1.25h-1.25zM407.7 117.1h1.25v1.25h-1.25zM416.5 134.2h1.25v1.25h-1.25zM429.8 111.0h1.25v1.25h-1.25zM426.1 129.8h1.25v1.25h-1.25zM426.8 124.4h1.25v1.25h-1.25zM424.9 133.5h1.25v1.25h-1.25zM413.9 125.5h1.25v1.25h-1.25zM410.6 127.9h1.25v1.25h-1.25zM426.9 115.2h1.25v1.25h-1.25zM396.4 119.6h1.25v1.25h-1.25zM419.8 134.1h1.25v1.25h-1.25zM431.5 122.0h1.25v1.25h-1.25zM413.9 133.2h1.25v1.25h-1.25zM395.4 125.1h1.25v1.25h-1.25zM430.7 126.1h1.25v1.25h-1.25zM394.8 134.9h1.25v1.25h-1.25zM413.9 117.2h1.25v1.25h-1.25zM422.9 135.7h1.25v1.25h-1.25zM411.3 124.1h1.25v1.25h-1.25zM412.8 130.0h1.25v1.25h-1.25zM410.0 130.9h1.25v1.25h-1.25zM408.7 114.3h1.25v1.25h-1.25zM411.4 128.4h1.25v1.25h-1.25zM411.9 132.7h1.25v1.25h-1.25zM432.1 128.6h1.25v1.25h-1.25zM435.8 118.7h1.25v1.25h-1.25zM399.4 119.4h1.25v1.25h-1.25zM392.4 116.3h1.25v1.25h-1.25zM412.6 124.1h1.25v1.25h-1.25zM438.8 121.7h1.25v1.25h-1.25zM416.4 120.7h1.25v1.25h-1.25zM394.4 121.6h1.25v1.25h-1.25zM403.9 127.0h1.25v1.25h-1.25zM441.8 135.7h1.25v1.25h-1.25zM398.6 130.1h1.25v1.25h-1.25zM408.6 138.1h1.25v1.25h-1.25zM410.8 120.9h1.25v1.25h-1.25zM423.6 132.7h1.25v1.25h-1.25zM417.3 131.9h1.25v1.25h-1.25zM419.4 121.5h1.25v1.25h-1.25zM426.8 123.7h1.25v1.25h-1.25zM433.1 121.9h1.25v1.25h-1.25zM431.7 110.9h1.25v1.25h-1.25zM392.1 122.9h1.25v1.25h-1.25zM397.5 126.7h1.25v1.25h-1.25zM406.0 127.5h1.25v1.25h-1.25zM410.9 132.8h1.25v1.25h-1.25zM432.3 117.9h1.25v1.25h-1.25zM398.0 114.7h1.25v1.25h-1.25zM413.3 133.6h1.25v1.25h-1.25zM404.4 125.9h1.25v1.25h-1.25zM404.6 122.5h1.25v1.25h-1.25zM415.3 125.4h1.25v1.25h-1.25zM412.5 129.2h1.25v1.25h-1.25zM400.9 128.9h1.25v1.25h-1.25zM415.8 133.0h1.25v1.25h-1.25zM403.6 126.7h1.25v1.25h-1.25zM414.1 127.9h1.25v1.25h-1.25zM404.8 134.1h1.25v1.25h-1.25zM393.7 125.6h1.25v1.25h-1.25zM401.8 131.0h1.25v1.25h-1.25zM400.6 129.4h1.25v1.25h-1.25zM437.7 118.9h1.25v1.25h-1.25zM414.5 134.0h1.25v1.25h-1.25zM430.9 128.9h1.25v1.25h-1.25zM412.0 129.0h1.25v1.25h-1.25zM403.1 119.0h1.25v1.25h-1.25zM425.9 131.6h1.25v1.25h-1.25zM436.9 129.8h1.25v1.25h-1.25zM434.4 139.3h1.25v1.25h-1.25zM401.3 123.5h1.25v1.25h-1.25zM429.5 136.1h1.25v1.25h-1.25zM433.5 118.5h1.25v1.25h-1.25zM419.5 128.9h1.25v1.25h-1.25zM412.1 131.2h1.25v1.25h-1.25zM427.0 126.9h1.25v1.25h-1.25zM420.7 129.6h1.25v1.25h-1.25zM419.4 133.9h1.25v1.25h-1.25zM409.7 122.4h1.25v1.25h-1.25zM393.9 127.5h1.25v1.25h-1.25zM426.2 115.3h1.25v1.25h-1.25zM428.1 124.3h1.25v1.25h-1.25zM430.8 131.6h1.25v1.25h-1.25zM440.5 121.5h1.25v1.25h-1.25zM395.3 121.6h1.25v1.25h-1.25zM426.2 126.5h1.25v1.25h-1.25zM431.9 128.6h1.25v1.25h-1.25zM404.3 130.5h1.25v1.25h-1.25zM393.9 121.0h1.25v1.25h-1.25zM420.4 136.7h1.25v1.25h-1.25zM396.1 131.6h1.25v1.25h-1.25zM396.4 117.2h1.25v1.25h-1.25zM411.1 124.7h1.25v1.25h-1.25zM396.4 126.5h1.25v1.25h-1.25zM434.9 126.8h1.25v1.25h-1.25zM414.0 138.3h1.25v1.25h-1.25zM442.0 140.2h1.25v1.25h-1.25zM431.8 115.1h1.25v1.25h-1.25zM408.8 130.5h1.25v1.25h-1.25zM443.8 118.0h1.25v1.25h-1.25zM433.3 128.0h1.25v1.25h-1.25zM395.2 134.3h1.25v1.25h-1.25zM424.5 125.1h1.25v1.25h-1.25zM411.2 136.3h1.25v1.25h-1.25zM416.8 132.4h1.25v1.25h-1.25zM416.0 122.4h1.25v1.25h-1.25zM436.6 127.4h1.25v1.25h-1.25zM427.2 122.6h1.25v1.25h-1.25zM434.9 135.7h1.25v1.25h-1.25zM432.8 115.8h1.25v1.25h-1.25zM436.9 122.2h1.25v1.25h-1.25zM391.2 124.7h1.25v1.25h-1.25zM411.0 128.3h1.25v1.25h-1.25zM404.8 130.1h1.25v1.25h-1.25zM395.9 117.4h1.25v1.25h-1.25zM392.4 119.6h1.25v1.25h-1.25zM427.0 129.9h1.25v1.25h-1.25zM394.1 131.2h1.25v1.25h-1.25zM431.8 124.1h1.25v1.25h-1.25zM392.6 112.4h1.25v1.25h-1.25zM418.5 120.8h1.25v1.25h-1.25zM400.6 119.0h1.25v1.25h-1.25zM399.7 120.3h1.25v1.25h-1.25zM417.4 133.4h1.25v1.25h-1.25zM428.8 125.3h1.25v1.25h-1.25zM411.8 134.4h1.25v1.25h-1.25zM413.6 128.1h1.25v1.25h-1.25zM390.8 119.0h1.25v1.25h-1.25zM428.2 127.6h1.25v1.25h-1.25zM415.8 131.1h1.25v1.25h-1.25zM410.4 136.7h1.25v1.25h-1.25zM440.0 127.3h1.25v1.25h-1.25zM419.9 123.0h1.25v1.25h-1.25zM405.9 123.3h1.25v1.25h-1.25zM403.3 116.1h1.25v1.25h-1.25zM420.8 126.8h1.25v1.25h-1.25zM435.3 138.1h1.25v1.25h-1.25zM428.5 138.7h1.25v1.25h-1.25zM404.4 119.4h1.25v1.25h-1.25zM405.7 117.4h1.25v1.25h-1.25zM422.0 115.2h1.25v1.25h-1.25zM398.2 135.7h1.25v1.25h-1.25zM390.9 124.9h1.25v1.25h-1.25zM411.1 121.0h1.25v1.25h-1.25zM418.8 130.9h1.25v1.25h-1.25zM404.7 124.1h1.25v1.25h-1.25zM426.8 126.4h1.25v1.25h-1.25zM402.0 140.1h1.25v1.25h-1.25zM396.9 117.4h1.25v1.25h-1.25zM392.8 128.7h1.25v1.25h-1.25zM408.9 123.1h1.25v1.25h-1.25zM393.9 127.1h1.25v1.25h-1.25zM445.6 122.6h1.25v1.25h-1.25zM401.0 136.7h1.25v1.25h-1.25zM414.4 123.0h1.25v1.25h-1.25zM430.3 124.6h1.25v1.25h-1.25zM402.9 122.9h1.25v1.25h-1.25zM407.0 127.4h1.25v1.25h-1.25zM394.8 124.7h1.25v1.25h-1.25zM405.1 134.6h1.25v1.25h-1.25zM394.8 128.0h1.25v1.25h-1.25zM399.2 134.4h1.25v1.25h-1.25zM399.7 120.7h1.25v1.25h-1.25zM391.2 134.3h1.25v1.25h-1.25zM419.9 124.7h1.25v1.25h-1.25zM396.3 128.0h1.25v1.25h-1.25zM421.9 130.4h1.25v1.25h-1.25zM393.3 135.2h1.25v1.25h-1.25zM385.5 133.2h1.25v1.25h-1.25zM383.8 134.0h1.25v1.25h-1.25zM425.6 126.1h1.25v1.25h-1.25zM409.5 131.5h1.25v1.25h-1.25zM416.2 123.9h1.25v1.25h-1.25zM409.4 131.8h1.25v1.25h-1.25zM422.1 130.2h1.25v1.25h-1.25zM410.9 129.1h1.25v1.25h-1.25zM404.2 131.2h1.25v1.25h-1.25zM394.5 125.6h1.25v1.25h-1.25zM399.1 129.3h1.25v1.25h-1.25zM406.4 137.6h1.25v1.25h-1.25zM426.0 125.7h1.25v1.25h-1.25zM420.9 125.7h1.25v1.25h-1.25zM422.7 131.0h1.25v1.25h-1.25zM431.8 127.5h1.25v1.25h-1.25zM414.1 131.3h1.25v1.25h-1.25zM389.1 132.2h1.25v1.25h-1.25zM412.1 136.2h1.25v1.25h-1.25zM416.8 124.3h1.25v1.25h-1.25zM421.4 135.3h1.25v1.25h-1.25zM390.1 132.0h1.25v1.25h-1.25zM433.6 134.0h1.25v1.25h-1.25zM392.9 131.8h1.25v1.25h-1.25zM388.0 131.0h1.25v1.25h-1.25zM417.0 135.5h1.25v1.25h-1.25zM396.2 136.1h1.25v1.25h-1.25zM415.6 128.6h1.25v1.25h-1.25zM429.2 123.2h1.25v1.25h-1.25zM384.0 125.4h1.25v1.25h-1.25zM414.9 130.7h1.25v1.25h-1.25zM404.5 129.5h1.25v1.25h-1.25zM417.0 128.1h1.25v1.25h-1.25zM409.1 130.4h1.25v1.25h-1.25zM423.4 122.8h1.25v1.25h-1.25zM430.7 123.4h1.25v1.25h-1.25zM400.6 128.6h1.25v1.25h-1.25zM394.4 126.9h1.25v1.25h-1.25zM404.5 131.7h1.25v1.25h-1.25zM411.5 138.4h1.25v1.25h-1.25zM431.4 134.5h1.25v1.25h-1.25zM383.4 126.5h1.25v1.25h-1.25zM404.5 127.0h1.25v1.25h-1.25zM424.1 128.8h1.25v1.25h-1.25zM389.1 130.7h1.25v1.25h-1.25zM409.8 124.4h1.25v1.25h-1.25zM384.9 124.4h1.25v1.25h-1.25zM403.8 125.2h1.25v1.25h-1.25zM388.0 133.1h1.25v1.25h-1.25zM433.7 128.6h1.25v1.25h-1.25zM385.8 128.5h1.25v1.25h-1.25zM411.1 127.7h1.25v1.25h-1.25zM431.8 128.8h1.25v1.25h-1.25zM410.6 131.1h1.25v1.25h-1.25zM401.4 122.8h1.25v1.25h-1.25zM413.8 130.1h1.25v1.25h-1.25zM396.3 133.8h1.25v1.25h-1.25zM402.5 127.2h1.25v1.25h-1.25zM411.8 125.6h1.25v1.25h-1.25zM433.1 126.9h1.25v1.25h-1.25zM403.5 136.0h1.25v1.25h-1.25zM424.3 129.4h1.25v1.25h-1.25zM420.5 133.9h1.25v1.25h-1.25zM393.4 124.8h1.25v1.25h-1.25zM414.5 126.5h1.25v1.25h-1.25zM392.2 128.9h1.25v1.25h-1.25zM401.1 129.2h1.25v1.25h-1.25zM427.5 130.0h1.25v1.25h-1.25zM388.0 119.7h1.25v1.25h-1.25zM414.3 132.2h1.25v1.25h-1.25zM425.7 125.0h1.25v1.25h-1.25zM426.5 130.8h1.25v1.25h-1.25zM385.1 128.0h1.25v1.25h-1.25zM422.5 134.9h1.25v1.25h-1.25zM390.9 124.9h1.25v1.25h-1.25zM413.9 126.7h1.25v1.25h-1.25zM418.0 126.9h1.25v1.25h-1.25zM432.2 124.4h1.25v1.25h-1.25zM396.1 124.7h1.25v1.25h-1.25zM417.3 138.6h1.25v1.25h-1.25zM405.6 133.1h1.25v1.25h-1.25zM389.7 126.9h1.25v1.25h-1.25zM387.1 129.6h1.25v1.25h-1.25zM428.7 126.7h1.25v1.25h-1.25zM401.6 125.4h1.25v1.25h-1.25zM428.6 132.9h1.25v1.25h-1.25zM428.5 130.2h1.25v1.25h-1.25zM395.7 133.5h1.25v1.25h-1.25zM411.8 132.0h1.25v1.25h-1.25zM385.5 122.1h1.25v1.25h-1.25zM415.5 131.4h1.25v1.25h-1.25zM410.7 125.5h1.25v1.25h-1.25zM432.9 125.3h1.25v1.25h-1.25zM431.6 129.3h1.25v1.25h-1.25zM431.5 134.3h1.25v1.25h-1.25zM393.3 130.0h1.25v1.25h-1.25zM423.1 136.0h1.25v1.25h-1.25zM429.8 128.5h1.25v1.25h-1.25zM414.8 130.9h1.25v1.25h-1.25zM390.0 134.0h1.25v1.25h-1.25zM406.5 126.8h1.25v1.25h-1.25zM432.8 128.2h1.25v1.25h-1.25zM402.5 126.3h1.25v1.25h-1.25zM386.4 125.9h1.25v1.25h-1.25zM414.0 128.8h1.25v1.25h-1.25zM415.5 126.3h1.25v1.25h-1.25zM430.0 122.7h1.25v1.25h-1.25zM412.7 128.6h1.25v1.25h-1.25zM407.9 129.7h1.25v1.25h-1.25zM401.1 128.9h1.25v1.25h-1.25zM409.7 135.8h1.25v1.25h-1.25zM400.5 117.9h1.25v1.25h-1.25zM426.0 126.5h1.25v1.25h-1.25zM408.2 135.9h1.25v1.25h-1.25zM408.5 128.0h1.25v1.25h-1.25zM394.7 130.8h1.25v1.25h-1.25zM384.0 133.6h1.25v1.25h-1.25zM431.5 128.9h1.25v1.25h-1.25zM430.3 133.1h1.25v1.25h-1.25zM388.7 126.5h1.25v1.25h-1.25zM421.3 131.6h1.25v1.25h-1.25zM427.6 129.4h1.25v1.25h-1.25zM385.5 127.5h1.25v1.25h-1.25zM433.6 124.8h1.25v1.25h-1.25zM390.4 129.9h1.25v1.25h-1.25zM400.3 122.0h1.25v1.25h-1.25zM430.2 126.2h1.25v1.25h-1.25zM399.0 128.8h1.25v1.25h-1.25zM426.1 124.3h1.25v1.25h-1.25zM428.0 125.5h1.25v1.25h-1.25zM432.5 128.7h1.25v1.25h-1.25zM407.7 130.4h1.25v1.25h-1.25zM394.4 127.0h1.25v1.25h-1.25zM420.4 127.0h1.25v1.25h-1.25zM412.3 126.9h1.25v1.25h-1.25zM386.7 126.7h1.25v1.25h-1.25zM430.0 129.0h1.25v1.25h-1.25zM431.8 133.8h1.25v1.25h-1.25zM432.6 128.3h1.25v1.25h-1.25zM393.0 126.1h1.25v1.25h-1.25zM415.0 133.2h1.25v1.25h-1.25zM422.4 131.9h1.25v1.25h-1.25zM410.1 131.5h1.25v1.25h-1.25zM431.2 123.6h1.25v1.25h-1.25zM385.9 131.4h1.25v1.25h-1.25zM421.0 129.0h1.25v1.25h-1.25zM405.1 125.9h1.25v1.25h-1.25zM431.7 134.3h1.25v1.25h-1.25zM412.6 138.3h1.25v1.25h-1.25zM423.8 135.4h1.25v1.25h-1.25zM400.4 121.8h1.25v1.25h-1.25zM386.6 123.6h1.25v1.25h-1.25zM429.9 123.7h1.25v1.25h-1.25zM431.2 131.6h1.25v1.25h-1.25zM414.0 129.3h1.25v1.25h-1.25zM394.6 134.6h1.25v1.25h-1.25zM387.3 129.3h1.25v1.25h-1.25zM389.7 133.6h1.25v1.25h-1.25zM411.5 129.5h1.25v1.25h-1.25zM427.5 126.0h1.25v1.25h-1.25zM414.5 129.2h1.25v1.25h-1.25zM405.4 136.7h1.25v1.25h-1.25zM406.1 132.6h1.25v1.25h-1.25zM422.6 127.6h1.25v1.25h-1.25zM427.9 131.1h1.25v1.25h-1.25zM394.2 123.0h1.25v1.25h-1.25zM383.8 131.9h1.25v1.25h-1.25zM400.0 135.6h1.25v1.25h-1.25zM433.5 129.8h1.25v1.25h-1.25zM421.7 132.7h1.25v1.25h-1.25zM425.9 123.4h1.25v1.25h-1.25zM405.3 122.2h1.25v1.25h-1.25zM397.2 132.8h1.25v1.25h-1.25zM409.9 125.7h1.25v1.25h-1.25zM398.2 123.8h1.25v1.25h-1.25zM419.5 127.0h1.25v1.25h-1.25zM418.4 135.6h1.25v1.25h-1.25zM384.3 124.3h1.25v1.25h-1.25zM389.9 124.0h1.25v1.25h-1.25zM409.7 128.6h1.25v1.25h-1.25zM394.8 129.5h1.25v1.25h-1.25zM385.2 129.2h1.25v1.25h-1.25zM431.9 128.0h1.25v1.25h-1.25zM416.4 130.2h1.25v1.25h-1.25zM409.0 136.7h1.25v1.25h-1.25zM415.7 131.0h1.25v1.25h-1.25zM430.8 132.9h1.25v1.25h-1.25zM389.2 137.4h1.25v1.25h-1.25zM424.8 133.0h1.25v1.25h-1.25zM423.2 120.8h1.25v1.25h-1.25zM432.1 129.0h1.25v1.25h-1.25zM409.8 133.2h1.25v1.25h-1.25zM422.8 124.4h1.25v1.25h-1.25zM412.0 127.3h1.25v1.25h-1.25zM419.5 132.2h1.25v1.25h-1.25zM420.5 124.5h1.25v1.25h-1.25zM402.6 132.8h1.25v1.25h-1.25zM402.0 137.2h1.25v1.25h-1.25zM409.9 136.9h1.25v1.25h-1.25zM397.0 128.4h1.25v1.25h-1.25zM397.8 133.8h1.25v1.25h-1.25zM391.2 125.4h1.25v1.25h-1.25zM432.7 135.8h1.25v1.25h-1.25zM404.2 129.3h1.25v1.25h-1.25zM384.8 133.1h1.25v1.25h-1.25zM387.9 125.7h1.25v1.25h-1.25zM432.7 133.0h1.25v1.25h-1.25zM384.8 131.5h1.25v1.25h-1.25zM395.8 132.2h1.25v1.25h-1.25zM392.1 124.1h1.25v1.25h-1.25zM407.8 129.8h1.25v1.25h-1.25zM418.0 123.9h1.25v1.25h-1.25zM409.5 129.1h1.25v1.25h-1.25zM387.6 134.8h1.25v1.25h-1.25zM416.5 136.0h1.25v1.25h-1.25zM430.6 128.5h1.25v1.25h-1.25zM401.1 127.4h1.25v1.25h-1.25zM416.1 131.5h1.25v1.25h-1.25zM383.7 127.1h1.25v1.25h-1.25zM406.3 133.1h1.25v1.25h-1.25zM408.4 131.2h1.25v1.25h-1.25zM418.2 127.0h1.25v1.25h-1.25zM415.0 126.1h1.25v1.25h-1.25zM430.3 128.1h1.25v1.25h-1.25zM397.6 130.6h1.25v1.25h-1.25zM402.2 124.0h1.25v1.25h-1.25zM431.1 127.0h1.25v1.25h-1.25zM394.7 129.4h1.25v1.25h-1.25zM392.0 132.3h1.25v1.25h-1.25zM417.3 128.0h1.25v1.25h-1.25zM428.0 128.3h1.25v1.25h-1.25zM389.0 128.7h1.25v1.25h-1.25zM399.0 126.3h1.25v1.25h-1.25zM401.7 125.9h1.25v1.25h-1.25zM420.0 118.1h1.25v1.25h-1.25zM404.6 131.5h1.25v1.25h-1.25zM415.8 125.4h1.25v1.25h-1.25zM427.9 125.0h1.25v1.25h-1.25zM428.0 127.6h1.25v1.25h-1.25zM428.8 127.3h1.25v1.25h-1.25zM418.5 129.0h1.25v1.25h-1.25zM414.5 130.7h1.25v1.25h-1.25zM384.5 129.8h1.25v1.25h-1.25zM399.6 136.4h1.25v1.25h-1.25zM383.5 130.7h1.25v1.25h-1.25zM414.6 131.6h1.25v1.25h-1.25zM424.3 126.4h1.25v1.25h-1.25zM432.2 131.1h1.25v1.25h-1.25zM433.6 127.0h1.25v1.25h-1.25zM404.9 132.4h1.25v1.25h-1.25zM419.9 127.9h1.25v1.25h-1.25zM432.9 137.0h1.25v1.25h-1.25zM403.6 127.6h1.25v1.25h-1.25zM404.6 125.7h1.25v1.25h-1.25zM421.4 139.4h1.25v1.25h-1.25zM418.9 124.9h1.25v1.25h-1.25zM431.4 137.2h1.25v1.25h-1.25zM410.2 129.5h1.25v1.25h-1.25zM409.9 128.8h1.25v1.25h-1.25zM401.3 116.3h1.25v1.25h-1.25zM398.9 129.1h1.25v1.25h-1.25zM430.3 125.3h1.25v1.25h-1.25zM422.9 128.8h1.25v1.25h-1.25zM417.3 131.4h1.25v1.25h-1.25zM388.0 133.3h1.25v1.25h-1.25zM425.3 128.8h1.25v1.25h-1.25zM411.7 133.8h1.25v1.25h-1.25zM423.9 133.8h1.25v1.25h-1.25zM407.8 129.0h1.25v1.25h-1.25zM420.5 129.5h1.25v1.25h-1.25zM422.5 132.8h1.25v1.25h-1.25zM402.3 131.0h1.25v1.25h-1.25zM428.7 132.7h1.25v1.25h-1.25zM430.7 128.5h1.25v1.25h-1.25zM401.1 133.1h1.25v1.25h-1.25zM405.2 130.0h1.25v1.25h-1.25zM410.9 129.8h1.25v1.25h-1.25zM430.1 121.2h1.25v1.25h-1.25zM412.2 125.8h1.25v1.25h-1.25zM433.6 130.3h1.25v1.25h-1.25zM421.3 135.6h1.25v1.25h-1.25zM404.6 123.2h1.25v1.25h-1.25zM427.6 123.7h1.25v1.25h-1.25zM419.7 128.2h1.25v1.25h-1.25zM409.3 124.4h1.25v1.25h-1.25zM401.7 133.7h1.25v1.25h-1.25zM432.8 128.9h1.25v1.25h-1.25zM415.0 120.3h1.25v1.25h-1.25zM392.3 130.5h1.25v1.25h-1.25zM422.2 133.2h1.25v1.25h-1.25zM411.7 125.4h1.25v1.25h-1.25zM420.6 131.1h1.25v1.25h-1.25zM402.0 123.3h1.25v1.25h-1.25zM422.8 135.0h1.25v1.25h-1.25zM433.6 128.9h1.25v1.25h-1.25zM397.5 120.5h1.25v1.25h-1.25zM409.8 128.9h1.25v1.25h-1.25zM415.9 125.0h1.25v1.25h-1.25zM402.8 136.7h1.25v1.25h-1.25zM433.1 134.2h1.25v1.25h-1.25zM425.3 125.0h1.25v1.25h-1.25zM401.7 132.6h1.25v1.25h-1.25zM400.6 127.3h1.25v1.25h-1.25zM404.1 128.3h1.25v1.25h-1.25zM433.2 130.3h1.25v1.25h-1.25zM423.2 134.6h1.25v1.25h-1.25zM398.5 131.3h1.25v1.25h-1.25zM421.9 126.3h1.25v1.25h-1.25zM408.5 132.0h1.25v1.25h-1.25zM394.4 129.2h1.25v1.25h-1.25zM415.7 121.2h1.25v1.25h-1.25zM405.9 130.8h1.25v1.25h-1.25zM383.6 131.2h1.25v1.25h-1.25zM401.4 131.5h1.25v1.25h-1.25zM410.7 130.3h1.25v1.25h-1.25zM399.8 129.7h1.25v1.25h-1.25zM401.6 122.5h1.25v1.25h-1.25zM420.8 129.2h1.25v1.25h-1.25zM385.0 133.1h1.25v1.25h-1.25zM425.8 134.2h1.25v1.25h-1.25zM417.9 130.9h1.25v1.25h-1.25zM411.0 128.7h1.25v1.25h-1.25zM432.2 129.5h1.25v1.25h-1.25zM414.4 136.6h1.25v1.25h-1.25zM428.5 124.3h1.25v1.25h-1.25zM413.4 123.5h1.25v1.25h-1.25zM404.1 128.8h1.25v1.25h-1.25zM412.3 128.1h1.25v1.25h-1.25zM425.9 131.1h1.25v1.25h-1.25zM399.0 129.2h1.25v1.25h-1.25zM388.7 128.0h1.25v1.25h-1.25zM396.9 138.7h1.25v1.25h-1.25zM392.0 130.9h1.25v1.25h-1.25zM397.9 133.2h1.25v1.25h-1.25zM401.2 125.0h1.25v1.25h-1.25zM417.1 128.4h1.25v1.25h-1.25zM412.6 128.2h1.25v1.25h-1.25zM419.8 128.3h1.25v1.25h-1.25zM417.1 128.2h1.25v1.25h-1.25zM386.7 123.6h1.25v1.25h-1.25zM391.5 132.0h1.25v1.25h-1.25zM404.0 127.5h1.25v1.25h-1.25zM401.1 128.6h1.25v1.25h-1.25zM427.6 123.4h1.25v1.25h-1.25zM415.5 132.8h1.25v1.25h-1.25zM412.8 135.1h1.25v1.25h-1.25zM408.4 129.6h1.25v1.25h-1.25zM403.4 127.4h1.25v1.25h-1.25zM403.8 132.1h1.25v1.25h-1.25zM417.6 125.5h1.25v1.25h-1.25zM405.2 130.0h1.25v1.25h-1.25zM403.6 128.2h1.25v1.25h-1.25zM423.2 125.5h1.25v1.25h-1.25zM392.8 132.5h1.25v1.25h-1.25zM412.5 128.7h1.25v1.25h-1.25zM422.3 125.6h1.25v1.25h-1.25zM392.8 126.0h1.25v1.25h-1.25zM415.9 130.4h1.25v1.25h-1.25zM395.0 131.7h1.25v1.25h-1.25zM398.6 133.2h1.25v1.25h-1.25zM427.4 121.6h1.25v1.25h-1.25zM423.2 132.7h1.25v1.25h-1.25zM393.5 126.4h1.25v1.25h-1.25zM406.6 127.5h1.25v1.25h-1.25zM403.2 129.7h1.25v1.25h-1.25zM393.2 127.2h1.25v1.25h-1.25zM407.9 132.0h1.25v1.25h-1.25zM386.0 130.9h1.25v1.25h-1.25zM423.7 133.7h1.25v1.25h-1.25zM419.7 129.3h1.25v1.25h-1.25zM396.0 132.3h1.25v1.25h-1.25zM413.5 120.0h1.25v1.25h-1.25zM419.7 126.2h1.25v1.25h-1.25zM408.2 130.2h1.25v1.25h-1.25zM411.3 127.9h1.25v1.25h-1.25zM422.3 127.8h1.25v1.25h-1.25zM417.9 127.9h1.25v1.25h-1.25zM407.1 128.1h1.25v1.25h-1.25zM432.9 133.2h1.25v1.25h-1.25zM427.3 131.3h1.25v1.25h-1.25zM412.9 124.6h1.25v1.25h-1.25zM406.1 126.5h1.25v1.25h-1.25zM424.6 135.0h1.25v1.25h-1.25zM396.1 134.3h1.25v1.25h-1.25zM412.8 129.3h1.25v1.25h-1.25zM384.2 127.5h1.25v1.25h-1.25zM391.4 133.3h1.25v1.25h-1.25zM426.4 135.4h1.25v1.25h-1.25zM420.6 131.5h1.25v1.25h-1.25zM414.7 128.0h1.25v1.25h-1.25zM400.2 129.9h1.25v1.25h-1.25zM391.6 131.0h1.25v1.25h-1.25zM384.8 131.3h1.25v1.25h-1.25zM390.2 126.8h1.25v1.25h-1.25zM406.3 124.6h1.25v1.25h-1.25zM406.8 124.2h1.25v1.25h-1.25zM396.1 128.8h1.25v1.25h-1.25zM388.0 127.0h1.25v1.25h-1.25zM403.6 128.3h1.25v1.25h-1.25zM391.8 131.5h1.25v1.25h-1.25zM420.4 128.6h1.25v1.25h-1.25zM427.5 129.9h1.25v1.25h-1.25zM432.0 127.7h1.25v1.25h-1.25zM387.6 133.2h1.25v1.25h-1.25zM407.7 134.7h1.25v1.25h-1.25zM428.3 125.2h1.25v1.25h-1.25zM429.1 123.9h1.25v1.25h-1.25zM428.6 126.6h1.25v1.25h-1.25zM409.2 132.7h1.25v1.25h-1.25zM426.1 131.4h1.25v1.25h-1.25zM385.0 127.0h1.25v1.25h-1.25zM393.7 123.2h1.25v1.25h-1.25zM398.9 121.9h1.25v1.25h-1.25zM401.1 123.0h1.25v1.25h-1.25zM405.2 130.1h1.25v1.25h-1.25zM388.7 131.4h1.25v1.25h-1.25zM431.2 126.6h1.25v1.25h-1.25zM404.6 126.0h1.25v1.25h-1.25zM385.8 129.7h1.25v1.25h-1.25zM428.7 122.7h1.25v1.25h-1.25zM413.4 125.9h1.25v1.25h-1.25zM397.7 127.0h1.25v1.25h-1.25zM432.9 132.9h1.25v1.25h-1.25zM411.5 120.3h1.25v1.25h-1.25zM402.3 132.4h1.25v1.25h-1.25zM418.2 130.0h1.25v1.25h-1.25zM384.5 135.0h1.25v1.25h-1.25zM418.0 129.0h1.25v1.25h-1.25zM388.2 131.8h1.25v1.25h-1.25zM386.8 131.0h1.25v1.25h-1.25zM426.1 129.7h1.25v1.25h-1.25zM404.3 122.5h1.25v1.25h-1.25zM405.0 129.3h1.25v1.25h-1.25zM392.6 134.1h1.25v1.25h-1.25zM426.8 126.7h1.25v1.25h-1.25zM428.3 129.6h1.25v1.25h-1.25zM416.9 128.4h1.25v1.25h-1.25zM418.0 133.6h1.25v1.25h-1.25zM424.3 135.0h1.25v1.25h-1.25zM414.9 128.2h1.25v1.25h-1.25zM431.0 131.1h1.25v1.25h-1.25zM416.9 127.1h1.25v1.25h-1.25zM415.7 127.8h1.25v1.25h-1.25zM398.8 126.1h1.25v1.25h-1.25zM407.9 130.4h1.25v1.25h-1.25zM364.9 110.1h1.25v1.25h-1.25zM420.5 82.2h1.25v1.25h-1.25zM416.6 71.8h1.25v1.25h-1.25zM391.1 83.4h1.25v1.25h-1.25zM421.7 114.9h1.25v1.25h-1.25zM391.6 111.8h1.25v1.25h-1.25zM414.8 100.1h1.25v1.25h-1.25zM412.0 109.2h1.25v1.25h-1.25zM387.8 88.1h1.25v1.25h-1.25zM450.8 94.9h1.25v1.25h-1.25zM393.7 76.6h1.25v1.25h-1.25zM431.5 101.5h1.25v1.25h-1.25zM467.2 114.8h1.25v1.25h-1.25zM446.3 113.7h1.25v1.25h-1.25zM413.2 94.6h1.25v1.25h-1.25zM408.4 98.2h1.25v1.25h-1.25zM448.4 99.5h1.25v1.25h-1.25zM466.9 91.4h1.25v1.25h-1.25zM377.6 73.9h1.25v1.25h-1.25zM429.3 97.7h1.25v1.25h-1.25zM441.8 97.3h1.25v1.25h-1.25zM433.4 108.7h1.25v1.25h-1.25zM435.0 113.3h1.25v1.25h-1.25zM444.7 105.9h1.25v1.25h-1.25zM453.2 112.0h1.25v1.25h-1.25zM444.3 74.5h1.25v1.25h-1.25zM448.2 100.1h1.25v1.25h-1.25zM442.9 112.2h1.25v1.25h-1.25zM400.6 101.2h1.25v1.25h-1.25zM400.1 112.5h1.25v1.25h-1.25zM376.6 101.1h1.25v1.25h-1.25zM428.4 111.4h1.25v1.25h-1.25zM396.9 114.7h1.25v1.25h-1.25zM464.3 105.8h1.25v1.25h-1.25zM396.4 115.5h1.25v1.25h-1.25zM419.6 113.9h1.25v1.25h-1.25zM436.2 110.4h1.25v1.25h-1.25zM399.6 106.6h1.25v1.25h-1.25zM431.1 89.1h1.25v1.25h-1.25zM425.0 94.2h1.25v1.25h-1.25zM428.6 114.4h1.25v1.25h-1.25zM441.6 109.8h1.25v1.25h-1.25zM382.0 105.0h1.25v1.25h-1.25zM416.5 87.4h1.25v1.25h-1.25zM452.8 114.9h1.25v1.25h-1.25zM421.4 113.4h1.25v1.25h-1.25zM415.8 81.2h1.25v1.25h-1.25zM410.6 114.7h1.25v1.25h-1.25zM448.8 107.7h1.25v1.25h-1.25zM391.4 113.7h1.25v1.25h-1.25zM410.8 109.4h1.25v1.25h-1.25zM395.1 92.7h1.25v1.25h-1.25zM450.6 97.8h1.25v1.25h-1.25zM433.0 78.5h1.25v1.25h-1.25zM446.0 112.7h1.25v1.25h-1.25zM402.4 115.2h1.25v1.25h-1.25zM448.7 98.0h1.25v1.25h-1.25zM393.2 88.1h1.25v1.25h-1.25zM428.8 114.0h1.25v1.25h-1.25zM404.7 94.5h1.25v1.25h-1.25zM409.6 96.8h1.25v1.25h-1.25zM409.9 93.9h1.25v1.25h-1.25zM428.7 97.5h1.25v1.25h-1.25zM385.2 71.0h1.25v1.25h-1.25zM406.3 111.4h1.25v1.25h-1.25zM405.6 110.9h1.25v1.25h-1.25zM381.4 80.6h1.25v1.25h-1.25zM398.4 102.5h1.25v1.25h-1.25zM470.9 92.8h1.25v1.25h-1.25zM413.3 108.6h1.25v1.25h-1.25zM390.9 91.1h1.25v1.25h-1.25zM430.0 107.5h1.25v1.25h-1.25zM435.3 104.5h1.25v1.25h-1.25zM411.8 113.2h1.25v1.25h-1.25zM431.2 114.8h1.25v1.25h-1.25zM439.2 102.9h1.25v1.25h-1.25zM404.2 91.6h1.25v1.25h-1.25zM405.3 103.7h1.25v1.25h-1.25zM417.6 109.6h1.25v1.25h-1.25zM412.5 115.2h1.25v1.25h-1.25zM446.8 113.4h1.25v1.25h-1.25zM461.2 102.0h1.25v1.25h-1.25zM396.0 84.8h1.25v1.25h-1.25zM446.7 89.1h1.25v1.25h-1.25zM408.1 107.9h1.25v1.25h-1.25zM462.3 110.7h1.25v1.25h-1.25zM418.7 109.6h1.25v1.25h-1.25zM375.9 114.0h1.25v1.25h-1.25zM414.9 82.4h1.25v1.25h-1.25zM406.3 107.7h1.25v1.25h-1.25zM393.5 108.4h1.25v1.25h-1.25zM390.2 106.8h1.25v1.25h-1.25zM443.0 96.8h1.25v1.25h-1.25zM429.0 115.3h1.25v1.25h-1.25zM414.6 73.1h1.25v1.25h-1.25zM437.1 107.8h1.25v1.25h-1.25zM463.0 111.7h1.25v1.25h-1.25zM447.1 101.8h1.25v1.25h-1.25zM423.7 114.7h1.25v1.25h-1.25zM441.5 83.7h1.25v1.25h-1.25zM423.2 94.8h1.25v1.25h-1.25zM420.8 107.5h1.25v1.25h-1.25zM446.1 97.1h1.25v1.25h-1.25zM416.9 105.1h1.25v1.25h-1.25zM443.7 111.5h1.25v1.25h-1.25zM385.8 105.0h1.25v1.25h-1.25zM438.9 114.7h1.25v1.25h-1.25zM403.6 111.6h1.25v1.25h-1.25zM447.1 108.2h1.25v1.25h-1.25zM400.5 112.5h1.25v1.25h-1.25zM413.4 84.4h1.25v1.25h-1.25zM469.6 114.1h1.25v1.25h-1.25zM442.6 103.5h1.25v1.25h-1.25zM398.1 100.8h1.25v1.25h-1.25zM414.9 83.4h1.25v1.25h-1.25zM418.2 112.2h1.25v1.25h-1.25zM429.4 84.0h1.25v1.25h-1.25zM389.1 108.2h1.25v1.25h-1.25zM398.4 109.7h1.25v1.25h-1.25zM410.3 79.0h1.25v1.25h-1.25zM392.9 112.9h1.25v1.25h-1.25zM401.4 80.0h1.25v1.25h-1.25zM452.4 106.1h1.25v1.25h-1.25zM424.5 100.3h1.25v1.25h-1.25zM410.5 109.6h1.25v1.25h-1.25zM414.7 112.5h1.25v1.25h-1.25zM402.9 110.9h1.25v1.25h-1.25zM415.5 79.0h1.25v1.25h-1.25zM384.4 107.6h1.25v1.25h-1.25zM461.8 111.1h1.25v1.25h-1.25zM439.2 96.6h1.25v1.25h-1.25zM395.8 115.1h1.25v1.25h-1.25zM423.5 111.7h1.25v1.25h-1.25zM421.4 83.6h1.25v1.25h-1.25zM395.1 90.9h1.25v1.25h-1.25zM354.8 115.5h1.25v1.25h-1.25zM407.3 107.9h1.25v1.25h-1.25zM414.0 84.9h1.25v1.25h-1.25zM420.1 113.1h1.25v1.25h-1.25zM405.1 108.4h1.25v1.25h-1.25zM412.5 106.2h1.25v1.25h-1.25zM418.1 99.1h1.25v1.25h-1.25zM436.0 100.8h1.25v1.25h-1.25zM453.1 113.9h1.25v1.25h-1.25zM425.0 108.8h1.25v1.25h-1.25zM441.0 105.5h1.25v1.25h-1.25zM430.8 102.8h1.25v1.25h-1.25zM415.4 100.9h1.25v1.25h-1.25zM420.7 106.7h1.25v1.25h-1.25zM444.2 82.9h1.25v1.25h-1.25zM426.4 114.5h1.25v1.25h-1.25zM394.7 108.9h1.25v1.25h-1.25zM432.2 108.1h1.25v1.25h-1.25zM398.4 100.3h1.25v1.25h-1.25zM455.3 98.2h1.25v1.25h-1.25zM430.5 113.8h1.25v1.25h-1.25zM380.8 111.0h1.25v1.25h-1.25zM445.2 104.2h1.25v1.25h-1.25zM404.5 108.1h1.25v1.25h-1.25zM446.8 109.2h1.25v1.25h-1.25zM454.6 109.4h1.25v1.25h-1.25zM405.0 106.1h1.25v1.25h-1.25zM389.8 108.7h1.25v1.25h-1.25zM457.8 98.5h1.25v1.25h-1.25zM435.1 110.8h1.25v1.25h-1.25zM448.6 78.9h1.25v1.25h-1.25zM382.2 103.0h1.25v1.25h-1.25zM465.9 109.3h1.25v1.25h-1.25zM369.1 97.9h1.25v1.25h-1.25zM404.3 89.5h1.25v1.25h-1.25zM391.3 113.3h1.25v1.25h-1.25zM408.3 88.9h1.25v1.25h-1.25zM399.7 110.1h1.25v1.25h-1.25zM395.0 94.0h1.25v1.25h-1.25zM401.0 93.4h1.25v1.25h-1.25zM418.2 98.6h1.25v1.25h-1.25zM441.6 108.3h1.25v1.25h-1.25zM390.5 69.0h1.25v1.25h-1.25zM451.5 107.0h1.25v1.25h-1.25zM401.8 105.2h1.25v1.25h-1.25zM464.9 129.2h1.25v1.25h-1.25zM500.9 127.8h1.25v1.25h-1.25zM479.3 134.6h1.25v1.25h-1.25zM448.1 144.1h1.25v1.25h-1.25zM469.7 121.0h1.25v1.25h-1.25zM441.3 24.2h1.25v1.25h-1.25zM448.8 24.9h1.25v1.25h-1.25zM441.3 38.9h1.25v1.25h-1.25zM459.5 36.6h1.25v1.25h-1.25zM424.5 42.4h1.25v1.25h-1.25zM454.6 47.8h1.25v1.25h-1.25zM465.4 49.9h1.25v1.25h-1.25zM396.4 61.1h1.25v1.25h-1.25zM406.3 66.3h1.25v1.25h-1.25zM437.1 61.1h1.25v1.25h-1.25zM442.0 62.8h1.25v1.25h-1.25zM442.5 67.0h1.25v1.25h-1.25zM472.4 65.1h1.25v1.25h-1.25zM478.0 66.3h1.25v1.25h-1.25zM472.9 72.8h1.25v1.25h-1.25zM403.5 75.1h1.25v1.25h-1.25zM407.4 75.1h1.25v1.25h-1.25zM419.8 72.8h1.25v1.25h-1.25zM422.6 78.0h1.25v1.25h-1.25zM444.4 75.6h1.25v1.25h-1.25zM449.5 78.0h1.25v1.25h-1.25zM367.9 66.0h1.25v1.25h-1.25zM372.6 65.1h1.25v1.25h-1.25zM366.5 84.1h1.25v1.25h-1.25zM366.5 90.7h1.25v1.25h-1.25zM347.0 99.6h1.25v1.25h-1.25zM379.2 89.8h1.25v1.25h-1.25zM380.2 94.5h1.25v1.25h-1.25zM396.4 61.3h1.25v1.25h-1.25zM406.2 66.0h1.25v1.25h-1.25zM420.0 72.7h1.25v1.25h-1.25zM437.1 61.3h1.25v1.25h-1.25zM441.9 62.2h1.25v1.25h-1.25z"/>
<line x1="342.60" y1="22.50" x2="534.50" y2="22.50" stroke="#6a6a6a" stroke-width="1.3"/>
<line x1="534.50" y1="21.85" x2="534.50" y2="161.80" stroke="#6a6a6a" stroke-width="1.3"/>
<line x1="389.48" y1="22.50" x2="389.48" y2="161.80" stroke="#7a7a7a" stroke-width="1.5"/>
<rect x="341.40" y="21.20" width="2.30" height="141.90" fill="#000"/>
<rect x="341.40" y="160.60" width="193.60" height="2.40" fill="#000"/>
<line x1="337.10" y1="161.80" x2="342.60" y2="161.80" stroke="#222" stroke-width="1"/>
<text x="336.10" y="165.20" font-size="10.6" text-anchor="end" font-weight="normal" fill="#000" stroke="#000" stroke-width="0.45">0</text>
<line x1="339.60" y1="153.09" x2="342.60" y2="153.09" stroke="#222" stroke-width="1"/>
<line x1="339.60" y1="144.39" x2="342.60" y2="144.39" stroke="#222" stroke-width="1"/>
<line x1="339.60" y1="135.68" x2="342.60" y2="135.68" stroke="#222" stroke-width="1"/>
<line x1="337.10" y1="126.98" x2="342.60" y2="126.98" stroke="#222" stroke-width="1"/>
<text x="336.10" y="130.38" font-size="10.6" text-anchor="end" font-weight="normal" fill="#000" stroke="#000" stroke-width="0.45">256</text>
<line x1="339.60" y1="118.27" x2="342.60" y2="118.27" stroke="#222" stroke-width="1"/>
<line x1="339.60" y1="109.56" x2="342.60" y2="109.56" stroke="#222" stroke-width="1"/>
<line x1="339.60" y1="100.86" x2="342.60" y2="100.86" stroke="#222" stroke-width="1"/>
<line x1="337.10" y1="92.15" x2="342.60" y2="92.15" stroke="#222" stroke-width="1"/>
<text x="336.10" y="95.55" font-size="10.6" text-anchor="end" font-weight="normal" fill="#000" stroke="#000" stroke-width="0.45">512</text>
<line x1="339.60" y1="83.44" x2="342.60" y2="83.44" stroke="#222" stroke-width="1"/>
<line x1="339.60" y1="74.74" x2="342.60" y2="74.74" stroke="#222" stroke-width="1"/>
<line x1="339.60" y1="66.03" x2="342.60" y2="66.03" stroke="#222" stroke-width="1"/>
<line x1="337.10" y1="57.33" x2="342.60" y2="57.33" stroke="#222" stroke-width="1"/>
<text x="336.10" y="60.73" font-size="10.6" text-anchor="end" font-weight="normal" fill="#000" stroke="#000" stroke-width="0.45">768</text>
<line x1="339.60" y1="48.62" x2="342.60" y2="48.62" stroke="#222" stroke-width="1"/>
<line x1="339.60" y1="39.91" x2="342.60" y2="39.91" stroke="#222" stroke-width="1"/>
<line x1="339.60" y1="31.21" x2="342.60" y2="31.21" stroke="#222" stroke-width="1"/>
<line x1="337.10" y1="22.50" x2="342.60" y2="22.50" stroke="#222" stroke-width="1"/>
<text x="336.10" y="25.90" font-size="10.6" text-anchor="end" font-weight="normal" fill="#000" stroke="#000" stroke-width="0.45">1024</text>
<line x1="342.60" y1="161.80" x2="342.60" y2="166.80" stroke="#222" stroke-width="1"/>
<text transform="translate(342.00,183.7) scale(0.89,1)" font-size="10.6" stroke="#000" stroke-width="0.4" text-anchor="end">10</text>
<text x="342.40" y="177.60" font-size="9" stroke="#000" stroke-width="0.2">0</text>
<line x1="357.04" y1="161.80" x2="357.04" y2="165.30" stroke="#333" stroke-width="1"/>
<line x1="365.49" y1="161.80" x2="365.49" y2="165.30" stroke="#333" stroke-width="1"/>
<line x1="371.48" y1="161.80" x2="371.48" y2="165.30" stroke="#333" stroke-width="1"/>
<line x1="376.13" y1="161.80" x2="376.13" y2="165.30" stroke="#333" stroke-width="1"/>
<line x1="379.93" y1="161.80" x2="379.93" y2="165.30" stroke="#333" stroke-width="1"/>
<line x1="383.14" y1="161.80" x2="383.14" y2="165.30" stroke="#333" stroke-width="1"/>
<line x1="385.93" y1="161.80" x2="385.93" y2="165.30" stroke="#333" stroke-width="1"/>
<line x1="388.38" y1="161.80" x2="388.38" y2="165.30" stroke="#333" stroke-width="1"/>
<line x1="390.58" y1="161.80" x2="390.58" y2="166.80" stroke="#222" stroke-width="1"/>
<text transform="translate(389.98,183.7) scale(0.89,1)" font-size="10.6" stroke="#000" stroke-width="0.4" text-anchor="end">10</text>
<text x="390.38" y="177.60" font-size="9" stroke="#000" stroke-width="0.2">1</text>
<line x1="405.02" y1="161.80" x2="405.02" y2="165.30" stroke="#333" stroke-width="1"/>
<line x1="413.46" y1="161.80" x2="413.46" y2="165.30" stroke="#333" stroke-width="1"/>
<line x1="419.46" y1="161.80" x2="419.46" y2="165.30" stroke="#333" stroke-width="1"/>
<line x1="424.11" y1="161.80" x2="424.11" y2="165.30" stroke="#333" stroke-width="1"/>
<line x1="427.91" y1="161.80" x2="427.91" y2="165.30" stroke="#333" stroke-width="1"/>
<line x1="431.12" y1="161.80" x2="431.12" y2="165.30" stroke="#333" stroke-width="1"/>
<line x1="433.90" y1="161.80" x2="433.90" y2="165.30" stroke="#333" stroke-width="1"/>
<line x1="436.35" y1="161.80" x2="436.35" y2="165.30" stroke="#333" stroke-width="1"/>
<line x1="438.55" y1="161.80" x2="438.55" y2="166.80" stroke="#222" stroke-width="1"/>
<text transform="translate(437.95,183.7) scale(0.89,1)" font-size="10.6" stroke="#000" stroke-width="0.4" text-anchor="end">10</text>
<text x="438.35" y="177.60" font-size="9" stroke="#000" stroke-width="0.2">2</text>
<line x1="452.99" y1="161.80" x2="452.99" y2="165.30" stroke="#333" stroke-width="1"/>
<line x1="461.44" y1="161.80" x2="461.44" y2="165.30" stroke="#333" stroke-width="1"/>
<line x1="467.43" y1="161.80" x2="467.43" y2="165.30" stroke="#333" stroke-width="1"/>
<line x1="472.08" y1="161.80" x2="472.08" y2="165.30" stroke="#333" stroke-width="1"/>
<line x1="475.88" y1="161.80" x2="475.88" y2="165.30" stroke="#333" stroke-width="1"/>
<line x1="479.09" y1="161.80" x2="479.09" y2="165.30" stroke="#333" stroke-width="1"/>
<line x1="481.88" y1="161.80" x2="481.88" y2="165.30" stroke="#333" stroke-width="1"/>
<line x1="484.33" y1="161.80" x2="484.33" y2="165.30" stroke="#333" stroke-width="1"/>
<line x1="486.52" y1="161.80" x2="486.52" y2="166.80" stroke="#222" stroke-width="1"/>
<text transform="translate(485.92,183.7) scale(0.89,1)" font-size="10.6" stroke="#000" stroke-width="0.4" text-anchor="end">10</text>
<text x="486.32" y="177.60" font-size="9" stroke="#000" stroke-width="0.2">3</text>
<line x1="500.97" y1="161.80" x2="500.97" y2="165.30" stroke="#333" stroke-width="1"/>
<line x1="509.41" y1="161.80" x2="509.41" y2="165.30" stroke="#333" stroke-width="1"/>
<line x1="515.41" y1="161.80" x2="515.41" y2="165.30" stroke="#333" stroke-width="1"/>
<line x1="520.06" y1="161.80" x2="520.06" y2="165.30" stroke="#333" stroke-width="1"/>
<line x1="523.86" y1="161.80" x2="523.86" y2="165.30" stroke="#333" stroke-width="1"/>
<line x1="527.07" y1="161.80" x2="527.07" y2="165.30" stroke="#333" stroke-width="1"/>
<line x1="529.85" y1="161.80" x2="529.85" y2="165.30" stroke="#333" stroke-width="1"/>
<line x1="532.30" y1="161.80" x2="532.30" y2="165.30" stroke="#333" stroke-width="1"/>
<line x1="534.50" y1="161.80" x2="534.50" y2="166.80" stroke="#222" stroke-width="1"/>
<text transform="translate(533.90,183.7) scale(0.89,1)" font-size="10.6" stroke="#000" stroke-width="0.4" text-anchor="end">10</text>
<text x="534.30" y="177.60" font-size="9" stroke="#000" stroke-width="0.2">4</text>
<text x="351.50" y="38.80" font-size="15.6" text-anchor="start" font-weight="normal" fill="#000" stroke="#000" stroke-width="0.3">45.2</text>
<text x="528.20" y="38.80" font-size="15.6" text-anchor="end" font-weight="normal" fill="#000" stroke="#000" stroke-width="0.3">54.8</text>
<text x="423.60" y="205.40" font-size="17.7" text-anchor="start" font-weight="normal" fill="#000" textLength="31" lengthAdjust="spacingAndGlyphs">LAP</text>
<text transform="translate(309.30,89.90) rotate(-90) scale(0.7,1)" font-size="18.5" text-anchor="middle">SSC</text>
<text transform="translate(287.26,33.40) scale(0.83,1)" font-size="33.77" stroke="#000" stroke-width="0.5">B</text>
<line x1="92.60" y1="304.59" x2="92.60" y2="327.99" stroke="#111" stroke-width="1.6"/>
<line x1="86.40" y1="304.59" x2="98.80" y2="304.59" stroke="#111" stroke-width="1.8"/>
<line x1="117.00" y1="322.37" x2="117.00" y2="352.78" stroke="#111" stroke-width="1.6"/>
<line x1="110.80" y1="322.37" x2="123.20" y2="322.37" stroke="#111" stroke-width="1.8"/>
<rect x="80.40" y="327.99" width="24.40" height="150.66" fill="#fff" stroke="#111" stroke-width="1.6" stroke-linejoin="round"/>
<rect x="104.80" y="352.78" width="24.40" height="125.87" fill="#000" stroke="#000" stroke-width="1.0"/>
<line x1="104.80" y1="478.65" x2="104.80" y2="482.15" stroke="#111" stroke-width="1.4"/>
<line x1="153.90" y1="421.57" x2="153.90" y2="428.58" stroke="#111" stroke-width="1.6"/>
<line x1="147.70" y1="421.57" x2="160.10" y2="421.57" stroke="#111" stroke-width="1.8"/>
<path d="M153.90 405.07V412.47M150.78 406.97L157.02 410.57M150.78 410.57L157.02 406.97" stroke="#2a2a2a" stroke-width="1.2" stroke-linecap="round"/>
<line x1="178.30" y1="428.58" x2="178.30" y2="443.09" stroke="#111" stroke-width="1.6"/>
<line x1="172.10" y1="428.58" x2="184.50" y2="428.58" stroke="#111" stroke-width="1.8"/>
<path d="M178.30 412.08V419.48M175.18 413.98L181.42 417.58M175.18 417.58L181.42 413.98" stroke="#2a2a2a" stroke-width="1.2" stroke-linecap="round"/>
<rect x="141.70" y="428.58" width="24.40" height="50.07" fill="#fff" stroke="#111" stroke-width="1.6" stroke-linejoin="round"/>
<rect x="166.10" y="443.09" width="24.40" height="35.56" fill="#000" stroke="#000" stroke-width="1.0"/>
<line x1="166.10" y1="478.65" x2="166.10" y2="482.15" stroke="#111" stroke-width="1.4"/>
<line x1="215.70" y1="415.48" x2="215.70" y2="425.31" stroke="#111" stroke-width="1.6"/>
<line x1="209.50" y1="415.48" x2="221.90" y2="415.48" stroke="#111" stroke-width="1.8"/>
<path d="M215.70 398.98V406.38M212.58 400.88L218.82 404.48M212.58 404.48L218.82 400.88" stroke="#2a2a2a" stroke-width="1.2" stroke-linecap="round"/>
<line x1="240.10" y1="429.52" x2="240.10" y2="441.69" stroke="#111" stroke-width="1.6"/>
<line x1="233.90" y1="429.52" x2="246.30" y2="429.52" stroke="#111" stroke-width="1.8"/>
<path d="M240.10 413.02V420.42M236.98 414.92L243.22 418.52M236.98 418.52L243.22 414.92" stroke="#2a2a2a" stroke-width="1.2" stroke-linecap="round"/>
<rect x="203.50" y="425.31" width="24.40" height="53.34" fill="#fff" stroke="#111" stroke-width="1.6" stroke-linejoin="round"/>
<rect x="227.90" y="441.69" width="24.40" height="36.96" fill="#000" stroke="#000" stroke-width="1.0"/>
<line x1="227.90" y1="478.65" x2="227.90" y2="482.15" stroke="#111" stroke-width="1.4"/>
<line x1="276.80" y1="323.31" x2="276.80" y2="336.88" stroke="#111" stroke-width="1.6"/>
<line x1="270.60" y1="323.31" x2="283.00" y2="323.31" stroke="#111" stroke-width="1.8"/>
<line x1="301.20" y1="333.60" x2="301.20" y2="357.93" stroke="#111" stroke-width="1.6"/>
<line x1="295.00" y1="333.60" x2="307.40" y2="333.60" stroke="#111" stroke-width="1.8"/>
<rect x="264.60" y="336.88" width="24.40" height="141.77" fill="#fff" stroke="#111" stroke-width="1.6" stroke-linejoin="round"/>
<rect x="289.00" y="357.93" width="24.40" height="120.72" fill="#000" stroke="#000" stroke-width="1.0"/>
<line x1="289.00" y1="478.65" x2="289.00" y2="482.15" stroke="#111" stroke-width="1.4"/>
<line x1="74.30" y1="244.20" x2="74.30" y2="479.35" stroke="#222" stroke-width="1.6"/>
<line x1="73.50" y1="478.65" x2="320.50" y2="478.65" stroke="#222" stroke-width="1.6"/>
<line x1="70.80" y1="478.65" x2="74.30" y2="478.65" stroke="#222" stroke-width="1.4"/>
<text x="66.80" y="485.15" font-size="17" text-anchor="end" font-weight="normal" fill="#000" stroke="#000" stroke-width="0.25">0</text>
<line x1="70.80" y1="431.86" x2="74.30" y2="431.86" stroke="#222" stroke-width="1.4"/>
<text x="66.80" y="438.36" font-size="17" text-anchor="end" font-weight="normal" fill="#000" stroke="#000" stroke-width="0.25">5</text>
<line x1="70.80" y1="385.07" x2="74.30" y2="385.07" stroke="#222" stroke-width="1.4"/>
<text x="66.80" y="391.57" font-size="17" text-anchor="end" font-weight="normal" fill="#000" stroke="#000" stroke-width="0.25">10</text>
<line x1="70.80" y1="338.28" x2="74.30" y2="338.28" stroke="#222" stroke-width="1.4"/>
<text x="66.80" y="344.78" font-size="17" text-anchor="end" font-weight="normal" fill="#000" stroke="#000" stroke-width="0.25">15</text>
<line x1="70.80" y1="291.49" x2="74.30" y2="291.49" stroke="#222" stroke-width="1.4"/>
<text x="66.80" y="297.99" font-size="17" text-anchor="end" font-weight="normal" fill="#000" stroke="#000" stroke-width="0.25">20</text>
<line x1="70.80" y1="244.70" x2="74.30" y2="244.70" stroke="#222" stroke-width="1.4"/>
<text x="66.80" y="251.20" font-size="17" text-anchor="end" font-weight="normal" fill="#000" stroke="#000" stroke-width="0.25">25</text>
<text transform="translate(37.30,354.50) rotate(-90)" font-size="19.5" textLength="120" lengthAdjust="spacingAndGlyphs" text-anchor="middle">Th17 cells (%)</text>
<text transform="translate(16.39,254.17) scale(0.78,1)" font-size="33.5" stroke="#000" stroke-width="0.5">C</text>
<text transform="translate(108.75,496.40) rotate(-45)" font-size="17" textLength="76.4" lengthAdjust="spacing" text-anchor="end">CD4<tspan font-size="11.5" dx="-1" dy="-7.5">+</tspan><tspan dy="7.5"> only</tspan></text>
<text transform="translate(170.05,496.40) rotate(-45)" font-size="17" textLength="95.3" lengthAdjust="spacing" text-anchor="end">CD4<tspan font-size="11.5" dx="-1" dy="-7.5">+</tspan><tspan dy="7.5"> + Treg</tspan></text>
<text transform="translate(231.85,496.40) rotate(-45)" font-size="17" textLength="145.3" lengthAdjust="spacing" text-anchor="end">CD4<tspan font-size="11.5" dx="-1" dy="-7.5">+</tspan><tspan dy="7.5"> + Treg + IgG</tspan></text>
<text transform="translate(292.95,496.40) rotate(-45)" font-size="17" textLength="166.6" lengthAdjust="spacing" text-anchor="end">CD4+ + Treg + <tspan font-family="Liberation Serif" font-style="italic">α</tspan>-LAP</text>
<line x1="445.10" y1="258.44" x2="445.10" y2="279.79" stroke="#111" stroke-width="1.6"/>
<line x1="438.90" y1="258.44" x2="451.30" y2="258.44" stroke="#111" stroke-width="1.8"/>
<line x1="469.50" y1="267.80" x2="469.50" y2="287.40" stroke="#111" stroke-width="1.6"/>
<line x1="463.30" y1="267.80" x2="475.70" y2="267.80" stroke="#111" stroke-width="1.8"/>
<rect x="432.90" y="279.79" width="24.40" height="198.86" fill="#fff" stroke="#111" stroke-width="1.6" stroke-linejoin="round"/>
<rect x="457.30" y="287.40" width="24.40" height="191.25" fill="#000" stroke="#000" stroke-width="1.0"/>
<line x1="457.30" y1="478.65" x2="457.30" y2="482.15" stroke="#111" stroke-width="1.4"/>
<line x1="506.40" y1="397.64" x2="506.40" y2="409.93" stroke="#111" stroke-width="1.6"/>
<line x1="500.20" y1="397.64" x2="512.60" y2="397.64" stroke="#111" stroke-width="1.8"/>
<path d="M506.40 379.84V387.24M503.28 381.74L509.52 385.34M503.28 385.34L509.52 381.74" stroke="#2a2a2a" stroke-width="1.2" stroke-linecap="round"/>
<line x1="530.80" y1="401.74" x2="530.80" y2="411.97" stroke="#111" stroke-width="1.6"/>
<line x1="524.60" y1="401.74" x2="537.00" y2="401.74" stroke="#111" stroke-width="1.8"/>
<path d="M530.80 383.94V391.34M527.68 385.84L533.92 389.44M527.68 389.44L533.92 385.84" stroke="#2a2a2a" stroke-width="1.2" stroke-linecap="round"/>
<rect x="494.20" y="409.93" width="24.40" height="68.72" fill="#fff" stroke="#111" stroke-width="1.6" stroke-linejoin="round"/>
<rect x="518.60" y="411.97" width="24.40" height="66.68" fill="#000" stroke="#000" stroke-width="1.0"/>
<line x1="518.60" y1="478.65" x2="518.60" y2="482.15" stroke="#111" stroke-width="1.4"/>
<line x1="568.20" y1="394.72" x2="568.20" y2="406.13" stroke="#111" stroke-width="1.6"/>
<line x1="562.00" y1="394.72" x2="574.40" y2="394.72" stroke="#111" stroke-width="1.8"/>
<path d="M568.20 376.92V384.32M565.08 378.82L571.32 382.42M565.08 382.42L571.32 378.82" stroke="#2a2a2a" stroke-width="1.2" stroke-linecap="round"/>
<line x1="592.60" y1="411.39" x2="592.60" y2="416.36" stroke="#111" stroke-width="1.6"/>
<line x1="586.40" y1="411.39" x2="598.80" y2="411.39" stroke="#111" stroke-width="1.8"/>
<path d="M592.60 393.59V400.99M589.48 395.49L595.72 399.09M589.48 399.09L595.72 395.49" stroke="#2a2a2a" stroke-width="1.2" stroke-linecap="round"/>
<rect x="556.00" y="406.13" width="24.40" height="72.52" fill="#fff" stroke="#111" stroke-width="1.6" stroke-linejoin="round"/>
<rect x="580.40" y="416.36" width="24.40" height="62.29" fill="#000" stroke="#000" stroke-width="1.0"/>
<line x1="580.40" y1="478.65" x2="580.40" y2="482.15" stroke="#111" stroke-width="1.4"/>
<line x1="629.30" y1="259.61" x2="629.30" y2="283.89" stroke="#111" stroke-width="1.6"/>
<line x1="623.10" y1="259.61" x2="635.50" y2="259.61" stroke="#111" stroke-width="1.8"/>
<line x1="653.70" y1="279.79" x2="653.70" y2="295.00" stroke="#111" stroke-width="1.6"/>
<line x1="647.50" y1="279.79" x2="659.90" y2="279.79" stroke="#111" stroke-width="1.8"/>
<rect x="617.10" y="283.89" width="24.40" height="194.76" fill="#fff" stroke="#111" stroke-width="1.6" stroke-linejoin="round"/>
<rect x="641.50" y="295.00" width="24.40" height="183.65" fill="#000" stroke="#000" stroke-width="1.0"/>
<line x1="641.50" y1="478.65" x2="641.50" y2="482.15" stroke="#111" stroke-width="1.4"/>
<line x1="426.80" y1="244.20" x2="426.80" y2="479.35" stroke="#222" stroke-width="1.6"/>
<line x1="426.00" y1="478.65" x2="673.00" y2="478.65" stroke="#222" stroke-width="1.6"/>
<line x1="423.30" y1="478.65" x2="426.80" y2="478.65" stroke="#222" stroke-width="1.4"/>
<text x="419.30" y="485.15" font-size="17" text-anchor="end" font-weight="normal" fill="#000" stroke="#000" stroke-width="0.25">0</text>
<line x1="423.30" y1="420.16" x2="426.80" y2="420.16" stroke="#222" stroke-width="1.4"/>
<text x="419.30" y="426.66" font-size="17" text-anchor="end" font-weight="normal" fill="#000" stroke="#000" stroke-width="0.25">200</text>
<line x1="423.30" y1="361.67" x2="426.80" y2="361.67" stroke="#222" stroke-width="1.4"/>
<text x="419.30" y="368.17" font-size="17" text-anchor="end" font-weight="normal" fill="#000" stroke="#000" stroke-width="0.25">400</text>
<line x1="423.30" y1="303.19" x2="426.80" y2="303.19" stroke="#222" stroke-width="1.4"/>
<text x="419.30" y="309.69" font-size="17" text-anchor="end" font-weight="normal" fill="#000" stroke="#000" stroke-width="0.25">600</text>
<line x1="423.30" y1="244.70" x2="426.80" y2="244.70" stroke="#222" stroke-width="1.4"/>
<text x="419.30" y="251.20" font-size="17" text-anchor="end" font-weight="normal" fill="#000" stroke="#000" stroke-width="0.25">800</text>
<text transform="translate(377.50,353.30) rotate(-90)" font-size="19.5" textLength="116" lengthAdjust="spacingAndGlyphs" text-anchor="middle">IL-17 (pg/ml)</text>
<text transform="translate(355.80,253.10) scale(0.827,1)" font-size="33.33" stroke="#000" stroke-width="0.5">D</text>
<text transform="translate(461.25,496.40) rotate(-45)" font-size="17" textLength="76.4" lengthAdjust="spacing" text-anchor="end">CD4<tspan font-size="11.5" dx="-1" dy="-7.5">+</tspan><tspan dy="7.5"> only</tspan></text>
<text transform="translate(522.55,496.40) rotate(-45)" font-size="17" textLength="95.3" lengthAdjust="spacing" text-anchor="end">CD4<tspan font-size="11.5" dx="-1" dy="-7.5">+</tspan><tspan dy="7.5"> + Treg</tspan></text>
<text transform="translate(584.35,496.40) rotate(-45)" font-size="17" textLength="145.3" lengthAdjust="spacing" text-anchor="end">CD4<tspan font-size="11.5" dx="-1" dy="-7.5">+</tspan><tspan dy="7.5"> + Treg + IgG</tspan></text>
<text transform="translate(645.45,496.40) rotate(-45)" font-size="17" textLength="166.6" lengthAdjust="spacing" text-anchor="end">CD4+ + Treg + <tspan font-family="Liberation Serif" font-style="italic">α</tspan>-LAP</text>
</svg>
</body></html>
